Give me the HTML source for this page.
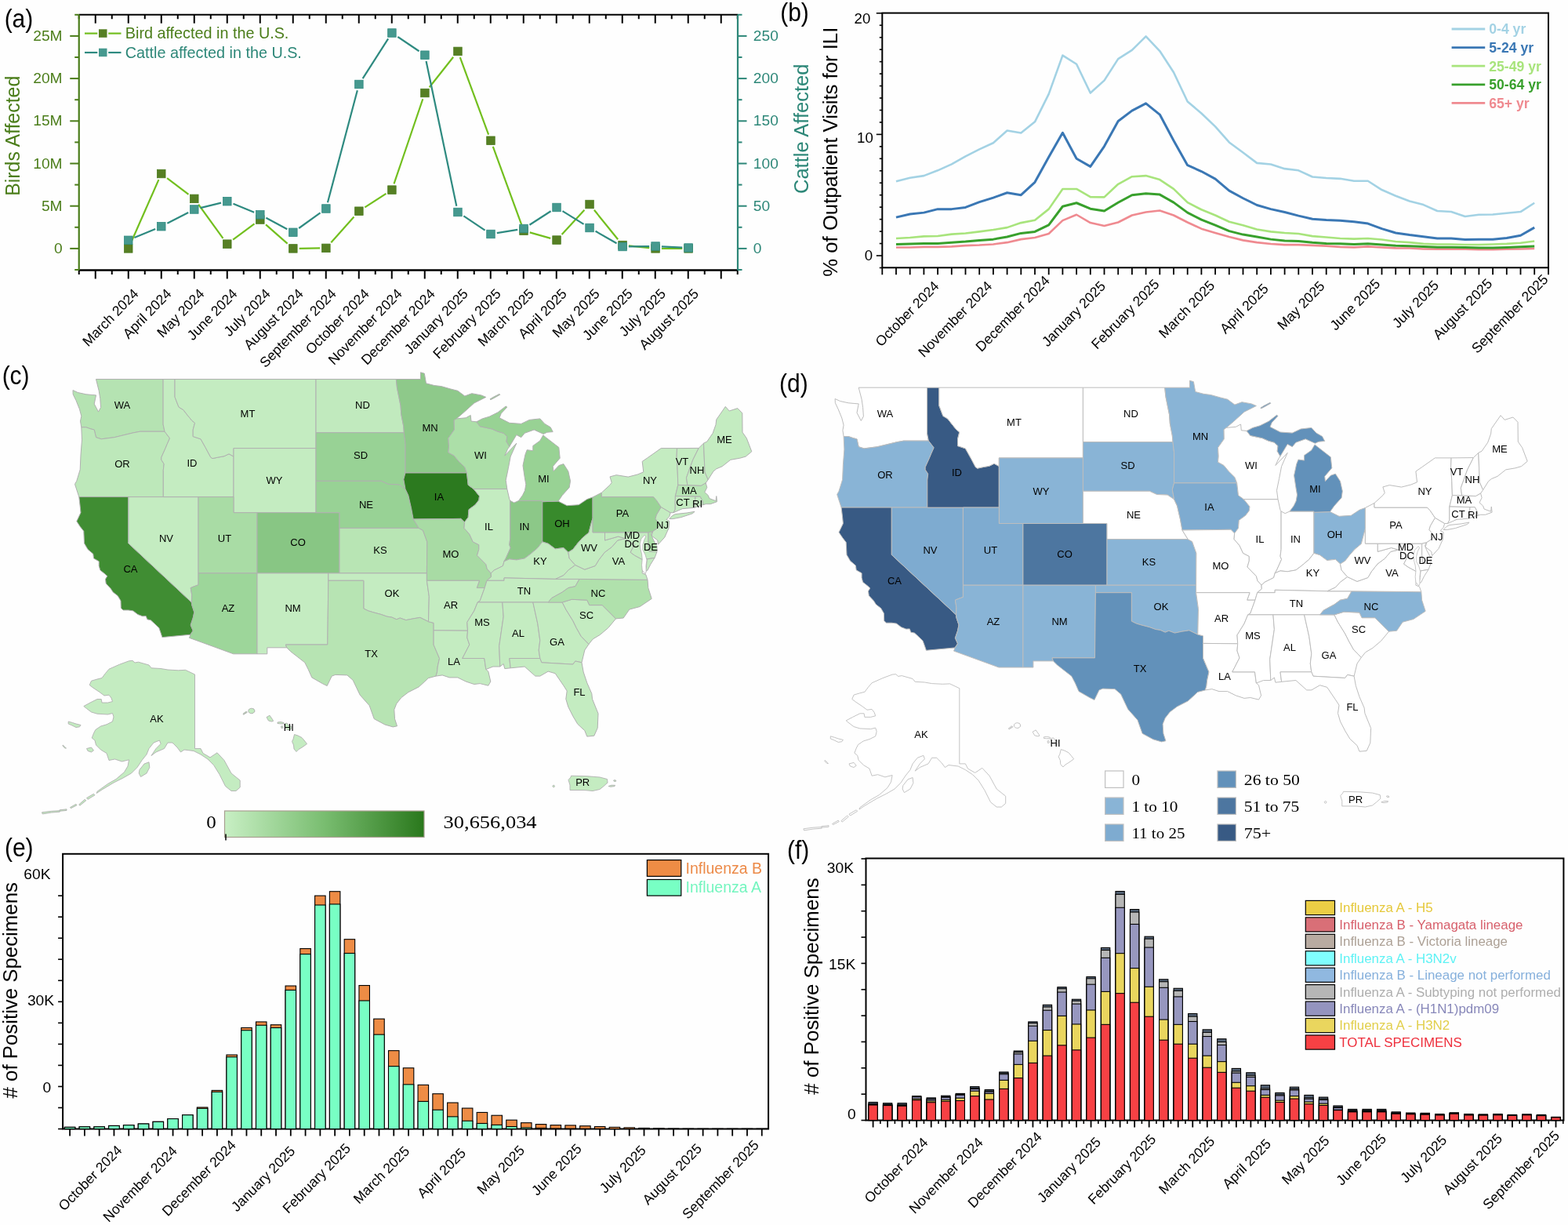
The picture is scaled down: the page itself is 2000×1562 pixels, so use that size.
<!DOCTYPE html>
<html><head><meta charset="utf-8"><title>Figure</title>
<style>html,body{margin:0;padding:0;background:#fff;} svg{display:block;}</style></head>
<body><svg width="2000" height="1562" viewBox="0 0 2000 1562">
<rect width="2000" height="1562" fill="#fefefe"/>
<line x1="100.75" y1="18.75" x2="941.0" y2="18.75" stroke="#000" stroke-width="2.2"/>
<line x1="100.75" y1="344.5" x2="941.0" y2="344.5" stroke="#000" stroke-width="2.4"/>
<line x1="100.75" y1="344.5" x2="100.75" y2="350" stroke="#000" stroke-width="2"/>
<line x1="100.75" y1="18.75" x2="100.75" y2="24.25" stroke="#000" stroke-width="2"/>
<line x1="121.75" y1="344.5" x2="121.75" y2="355.5" stroke="#000" stroke-width="2"/>
<line x1="121.75" y1="18.75" x2="121.75" y2="29.75" stroke="#000" stroke-width="2"/>
<line x1="142.75" y1="344.5" x2="142.75" y2="350" stroke="#000" stroke-width="2"/>
<line x1="142.75" y1="18.75" x2="142.75" y2="24.25" stroke="#000" stroke-width="2"/>
<line x1="163.75" y1="344.5" x2="163.75" y2="355.5" stroke="#000" stroke-width="2"/>
<line x1="163.75" y1="18.75" x2="163.75" y2="29.75" stroke="#000" stroke-width="2"/>
<line x1="184.75" y1="344.5" x2="184.75" y2="350" stroke="#000" stroke-width="2"/>
<line x1="184.75" y1="18.75" x2="184.75" y2="24.25" stroke="#000" stroke-width="2"/>
<line x1="205.75" y1="344.5" x2="205.75" y2="355.5" stroke="#000" stroke-width="2"/>
<line x1="205.75" y1="18.75" x2="205.75" y2="29.75" stroke="#000" stroke-width="2"/>
<line x1="226.75" y1="344.5" x2="226.75" y2="350" stroke="#000" stroke-width="2"/>
<line x1="226.75" y1="18.75" x2="226.75" y2="24.25" stroke="#000" stroke-width="2"/>
<line x1="247.75" y1="344.5" x2="247.75" y2="355.5" stroke="#000" stroke-width="2"/>
<line x1="247.75" y1="18.75" x2="247.75" y2="29.75" stroke="#000" stroke-width="2"/>
<line x1="268.75" y1="344.5" x2="268.75" y2="350" stroke="#000" stroke-width="2"/>
<line x1="268.75" y1="18.75" x2="268.75" y2="24.25" stroke="#000" stroke-width="2"/>
<line x1="289.75" y1="344.5" x2="289.75" y2="355.5" stroke="#000" stroke-width="2"/>
<line x1="289.75" y1="18.75" x2="289.75" y2="29.75" stroke="#000" stroke-width="2"/>
<line x1="310.75" y1="344.5" x2="310.75" y2="350" stroke="#000" stroke-width="2"/>
<line x1="310.75" y1="18.75" x2="310.75" y2="24.25" stroke="#000" stroke-width="2"/>
<line x1="331.75" y1="344.5" x2="331.75" y2="355.5" stroke="#000" stroke-width="2"/>
<line x1="331.75" y1="18.75" x2="331.75" y2="29.75" stroke="#000" stroke-width="2"/>
<line x1="352.75" y1="344.5" x2="352.75" y2="350" stroke="#000" stroke-width="2"/>
<line x1="352.75" y1="18.75" x2="352.75" y2="24.25" stroke="#000" stroke-width="2"/>
<line x1="373.75" y1="344.5" x2="373.75" y2="355.5" stroke="#000" stroke-width="2"/>
<line x1="373.75" y1="18.75" x2="373.75" y2="29.75" stroke="#000" stroke-width="2"/>
<line x1="394.75" y1="344.5" x2="394.75" y2="350" stroke="#000" stroke-width="2"/>
<line x1="394.75" y1="18.75" x2="394.75" y2="24.25" stroke="#000" stroke-width="2"/>
<line x1="415.75" y1="344.5" x2="415.75" y2="355.5" stroke="#000" stroke-width="2"/>
<line x1="415.75" y1="18.75" x2="415.75" y2="29.75" stroke="#000" stroke-width="2"/>
<line x1="436.75" y1="344.5" x2="436.75" y2="350" stroke="#000" stroke-width="2"/>
<line x1="436.75" y1="18.75" x2="436.75" y2="24.25" stroke="#000" stroke-width="2"/>
<line x1="457.75" y1="344.5" x2="457.75" y2="355.5" stroke="#000" stroke-width="2"/>
<line x1="457.75" y1="18.75" x2="457.75" y2="29.75" stroke="#000" stroke-width="2"/>
<line x1="478.75" y1="344.5" x2="478.75" y2="350" stroke="#000" stroke-width="2"/>
<line x1="478.75" y1="18.75" x2="478.75" y2="24.25" stroke="#000" stroke-width="2"/>
<line x1="499.75" y1="344.5" x2="499.75" y2="355.5" stroke="#000" stroke-width="2"/>
<line x1="499.75" y1="18.75" x2="499.75" y2="29.75" stroke="#000" stroke-width="2"/>
<line x1="520.75" y1="344.5" x2="520.75" y2="350" stroke="#000" stroke-width="2"/>
<line x1="520.75" y1="18.75" x2="520.75" y2="24.25" stroke="#000" stroke-width="2"/>
<line x1="541.75" y1="344.5" x2="541.75" y2="355.5" stroke="#000" stroke-width="2"/>
<line x1="541.75" y1="18.75" x2="541.75" y2="29.75" stroke="#000" stroke-width="2"/>
<line x1="562.75" y1="344.5" x2="562.75" y2="350" stroke="#000" stroke-width="2"/>
<line x1="562.75" y1="18.75" x2="562.75" y2="24.25" stroke="#000" stroke-width="2"/>
<line x1="583.75" y1="344.5" x2="583.75" y2="355.5" stroke="#000" stroke-width="2"/>
<line x1="583.75" y1="18.75" x2="583.75" y2="29.75" stroke="#000" stroke-width="2"/>
<line x1="604.75" y1="344.5" x2="604.75" y2="350" stroke="#000" stroke-width="2"/>
<line x1="604.75" y1="18.75" x2="604.75" y2="24.25" stroke="#000" stroke-width="2"/>
<line x1="625.75" y1="344.5" x2="625.75" y2="355.5" stroke="#000" stroke-width="2"/>
<line x1="625.75" y1="18.75" x2="625.75" y2="29.75" stroke="#000" stroke-width="2"/>
<line x1="646.75" y1="344.5" x2="646.75" y2="350" stroke="#000" stroke-width="2"/>
<line x1="646.75" y1="18.75" x2="646.75" y2="24.25" stroke="#000" stroke-width="2"/>
<line x1="667.75" y1="344.5" x2="667.75" y2="355.5" stroke="#000" stroke-width="2"/>
<line x1="667.75" y1="18.75" x2="667.75" y2="29.75" stroke="#000" stroke-width="2"/>
<line x1="688.75" y1="344.5" x2="688.75" y2="350" stroke="#000" stroke-width="2"/>
<line x1="688.75" y1="18.75" x2="688.75" y2="24.25" stroke="#000" stroke-width="2"/>
<line x1="709.75" y1="344.5" x2="709.75" y2="355.5" stroke="#000" stroke-width="2"/>
<line x1="709.75" y1="18.75" x2="709.75" y2="29.75" stroke="#000" stroke-width="2"/>
<line x1="730.75" y1="344.5" x2="730.75" y2="350" stroke="#000" stroke-width="2"/>
<line x1="730.75" y1="18.75" x2="730.75" y2="24.25" stroke="#000" stroke-width="2"/>
<line x1="751.75" y1="344.5" x2="751.75" y2="355.5" stroke="#000" stroke-width="2"/>
<line x1="751.75" y1="18.75" x2="751.75" y2="29.75" stroke="#000" stroke-width="2"/>
<line x1="772.75" y1="344.5" x2="772.75" y2="350" stroke="#000" stroke-width="2"/>
<line x1="772.75" y1="18.75" x2="772.75" y2="24.25" stroke="#000" stroke-width="2"/>
<line x1="793.75" y1="344.5" x2="793.75" y2="355.5" stroke="#000" stroke-width="2"/>
<line x1="793.75" y1="18.75" x2="793.75" y2="29.75" stroke="#000" stroke-width="2"/>
<line x1="814.75" y1="344.5" x2="814.75" y2="350" stroke="#000" stroke-width="2"/>
<line x1="814.75" y1="18.75" x2="814.75" y2="24.25" stroke="#000" stroke-width="2"/>
<line x1="835.75" y1="344.5" x2="835.75" y2="355.5" stroke="#000" stroke-width="2"/>
<line x1="835.75" y1="18.75" x2="835.75" y2="29.75" stroke="#000" stroke-width="2"/>
<line x1="856.75" y1="344.5" x2="856.75" y2="350" stroke="#000" stroke-width="2"/>
<line x1="856.75" y1="18.75" x2="856.75" y2="24.25" stroke="#000" stroke-width="2"/>
<line x1="877.75" y1="344.5" x2="877.75" y2="355.5" stroke="#000" stroke-width="2"/>
<line x1="877.75" y1="18.75" x2="877.75" y2="29.75" stroke="#000" stroke-width="2"/>
<line x1="898.75" y1="344.5" x2="898.75" y2="350" stroke="#000" stroke-width="2"/>
<line x1="898.75" y1="18.75" x2="898.75" y2="24.25" stroke="#000" stroke-width="2"/>
<line x1="919.75" y1="344.5" x2="919.75" y2="355.5" stroke="#000" stroke-width="2"/>
<line x1="919.75" y1="18.75" x2="919.75" y2="29.75" stroke="#000" stroke-width="2"/>
<line x1="940.75" y1="344.5" x2="940.75" y2="350" stroke="#000" stroke-width="2"/>
<line x1="940.75" y1="18.75" x2="940.75" y2="24.25" stroke="#000" stroke-width="2"/>
<line x1="100.75" y1="18.75" x2="100.75" y2="344.5" stroke="#4b7d1a" stroke-width="2.2"/>
<line x1="941.0" y1="18.75" x2="941.0" y2="344.5" stroke="#2d8778" stroke-width="2.2"/>
<line x1="95.25" y1="344" x2="100.75" y2="344" stroke="#4b7d1a" stroke-width="2"/>
<line x1="941.0" y1="344" x2="946.5" y2="344" stroke="#2d8778" stroke-width="2"/>
<line x1="89.25" y1="316.9" x2="100.75" y2="316.9" stroke="#4b7d1a" stroke-width="2"/>
<line x1="941.0" y1="316.9" x2="952.5" y2="316.9" stroke="#2d8778" stroke-width="2"/>
<text x="79.6" y="322.9" font-size="19.2" fill="#4b7d1a" text-anchor="end" font-family="Liberation Sans, Arial, sans-serif">0</text>
<text x="960.8" y="322.9" font-size="19.2" fill="#2d8778" font-family="Liberation Sans, Arial, sans-serif">0</text>
<line x1="95.25" y1="289.8" x2="100.75" y2="289.8" stroke="#4b7d1a" stroke-width="2"/>
<line x1="941.0" y1="289.8" x2="946.5" y2="289.8" stroke="#2d8778" stroke-width="2"/>
<line x1="89.25" y1="262.7" x2="100.75" y2="262.7" stroke="#4b7d1a" stroke-width="2"/>
<line x1="941.0" y1="262.7" x2="952.5" y2="262.7" stroke="#2d8778" stroke-width="2"/>
<text x="79.6" y="268.7" font-size="19.2" fill="#4b7d1a" text-anchor="end" font-family="Liberation Sans, Arial, sans-serif">5M</text>
<text x="960.8" y="268.7" font-size="19.2" fill="#2d8778" font-family="Liberation Sans, Arial, sans-serif">50</text>
<line x1="95.25" y1="235.6" x2="100.75" y2="235.6" stroke="#4b7d1a" stroke-width="2"/>
<line x1="941.0" y1="235.6" x2="946.5" y2="235.6" stroke="#2d8778" stroke-width="2"/>
<line x1="89.25" y1="208.5" x2="100.75" y2="208.5" stroke="#4b7d1a" stroke-width="2"/>
<line x1="941.0" y1="208.5" x2="952.5" y2="208.5" stroke="#2d8778" stroke-width="2"/>
<text x="79.6" y="214.5" font-size="19.2" fill="#4b7d1a" text-anchor="end" font-family="Liberation Sans, Arial, sans-serif">10M</text>
<text x="960.8" y="214.5" font-size="19.2" fill="#2d8778" font-family="Liberation Sans, Arial, sans-serif">100</text>
<line x1="95.25" y1="181.4" x2="100.75" y2="181.4" stroke="#4b7d1a" stroke-width="2"/>
<line x1="941.0" y1="181.4" x2="946.5" y2="181.4" stroke="#2d8778" stroke-width="2"/>
<line x1="89.25" y1="154.3" x2="100.75" y2="154.3" stroke="#4b7d1a" stroke-width="2"/>
<line x1="941.0" y1="154.3" x2="952.5" y2="154.3" stroke="#2d8778" stroke-width="2"/>
<text x="79.6" y="160.3" font-size="19.2" fill="#4b7d1a" text-anchor="end" font-family="Liberation Sans, Arial, sans-serif">15M</text>
<text x="960.8" y="160.3" font-size="19.2" fill="#2d8778" font-family="Liberation Sans, Arial, sans-serif">150</text>
<line x1="95.25" y1="127.2" x2="100.75" y2="127.2" stroke="#4b7d1a" stroke-width="2"/>
<line x1="941.0" y1="127.2" x2="946.5" y2="127.2" stroke="#2d8778" stroke-width="2"/>
<line x1="89.25" y1="100.1" x2="100.75" y2="100.1" stroke="#4b7d1a" stroke-width="2"/>
<line x1="941.0" y1="100.1" x2="952.5" y2="100.1" stroke="#2d8778" stroke-width="2"/>
<text x="79.6" y="106.1" font-size="19.2" fill="#4b7d1a" text-anchor="end" font-family="Liberation Sans, Arial, sans-serif">20M</text>
<text x="960.8" y="106.1" font-size="19.2" fill="#2d8778" font-family="Liberation Sans, Arial, sans-serif">200</text>
<line x1="95.25" y1="73" x2="100.75" y2="73" stroke="#4b7d1a" stroke-width="2"/>
<line x1="941.0" y1="73" x2="946.5" y2="73" stroke="#2d8778" stroke-width="2"/>
<line x1="89.25" y1="45.9" x2="100.75" y2="45.9" stroke="#4b7d1a" stroke-width="2"/>
<line x1="941.0" y1="45.9" x2="952.5" y2="45.9" stroke="#2d8778" stroke-width="2"/>
<text x="79.6" y="51.9" font-size="19.2" fill="#4b7d1a" text-anchor="end" font-family="Liberation Sans, Arial, sans-serif">25M</text>
<text x="960.8" y="51.9" font-size="19.2" fill="#2d8778" font-family="Liberation Sans, Arial, sans-serif">250</text>
<line x1="95.25" y1="18.8" x2="100.75" y2="18.8" stroke="#4b7d1a" stroke-width="2"/>
<line x1="941.0" y1="18.8" x2="946.5" y2="18.8" stroke="#2d8778" stroke-width="2"/>
<text transform="translate(24.6,173.3) rotate(-90)" font-size="24.9" fill="#4b7d1a" text-anchor="middle" font-family="Liberation Sans, Arial, sans-serif">Birds Affected</text>
<text transform="translate(1031,164.3) rotate(-90)" font-size="25.5" fill="#2d8778" text-anchor="middle" font-family="Liberation Sans, Arial, sans-serif">Cattle Affected</text>
<text transform="translate(177.70,375.60) scale(1,1.03) rotate(-45)" font-size="17.5" fill="#000" text-anchor="end" font-family="Liberation Sans, Arial, sans-serif">March 2024</text>
<text transform="translate(219.72,375.60) scale(1,1.03) rotate(-45)" font-size="17.5" fill="#000" text-anchor="end" font-family="Liberation Sans, Arial, sans-serif">April 2024</text>
<text transform="translate(261.74,375.60) scale(1,1.03) rotate(-45)" font-size="17.5" fill="#000" text-anchor="end" font-family="Liberation Sans, Arial, sans-serif">May 2024</text>
<text transform="translate(303.76,375.60) scale(1,1.03) rotate(-45)" font-size="17.5" fill="#000" text-anchor="end" font-family="Liberation Sans, Arial, sans-serif">June 2024</text>
<text transform="translate(345.78,375.60) scale(1,1.03) rotate(-45)" font-size="17.5" fill="#000" text-anchor="end" font-family="Liberation Sans, Arial, sans-serif">July 2024</text>
<text transform="translate(387.80,375.60) scale(1,1.03) rotate(-45)" font-size="17.5" fill="#000" text-anchor="end" font-family="Liberation Sans, Arial, sans-serif">August 2024</text>
<text transform="translate(429.82,375.60) scale(1,1.03) rotate(-45)" font-size="17.5" fill="#000" text-anchor="end" font-family="Liberation Sans, Arial, sans-serif">September 2024</text>
<text transform="translate(471.84,375.60) scale(1,1.03) rotate(-45)" font-size="17.5" fill="#000" text-anchor="end" font-family="Liberation Sans, Arial, sans-serif">October 2024</text>
<text transform="translate(513.86,375.60) scale(1,1.03) rotate(-45)" font-size="17.5" fill="#000" text-anchor="end" font-family="Liberation Sans, Arial, sans-serif">November 2024</text>
<text transform="translate(555.88,375.60) scale(1,1.03) rotate(-45)" font-size="17.5" fill="#000" text-anchor="end" font-family="Liberation Sans, Arial, sans-serif">December 2024</text>
<text transform="translate(597.90,375.60) scale(1,1.03) rotate(-45)" font-size="17.5" fill="#000" text-anchor="end" font-family="Liberation Sans, Arial, sans-serif">January 2025</text>
<text transform="translate(639.92,375.60) scale(1,1.03) rotate(-45)" font-size="17.5" fill="#000" text-anchor="end" font-family="Liberation Sans, Arial, sans-serif">February 2025</text>
<text transform="translate(681.94,375.60) scale(1,1.03) rotate(-45)" font-size="17.5" fill="#000" text-anchor="end" font-family="Liberation Sans, Arial, sans-serif">March 2025</text>
<text transform="translate(723.96,375.60) scale(1,1.03) rotate(-45)" font-size="17.5" fill="#000" text-anchor="end" font-family="Liberation Sans, Arial, sans-serif">April 2025</text>
<text transform="translate(765.98,375.60) scale(1,1.03) rotate(-45)" font-size="17.5" fill="#000" text-anchor="end" font-family="Liberation Sans, Arial, sans-serif">May 2025</text>
<text transform="translate(808.00,375.60) scale(1,1.03) rotate(-45)" font-size="17.5" fill="#000" text-anchor="end" font-family="Liberation Sans, Arial, sans-serif">June 2025</text>
<text transform="translate(850.02,375.60) scale(1,1.03) rotate(-45)" font-size="17.5" fill="#000" text-anchor="end" font-family="Liberation Sans, Arial, sans-serif">July 2025</text>
<text transform="translate(892.04,375.60) scale(1,1.03) rotate(-45)" font-size="17.5" fill="#000" text-anchor="end" font-family="Liberation Sans, Arial, sans-serif">August 2025</text>
<line x1="167.11" y1="309.27" x2="202.41" y2="229.14" stroke="#72bf1e" stroke-width="2.2"/>
<line x1="213.09" y1="227.06" x2="240.47" y2="247.82" stroke="#72bf1e" stroke-width="2.2"/>
<line x1="253.14" y1="260.73" x2="284.46" y2="303.8" stroke="#72bf1e" stroke-width="2.2"/>
<line x1="297.15" y1="305.72" x2="324.49" y2="285.48" stroke="#72bf1e" stroke-width="2.2"/>
<line x1="339.03" y1="286.36" x2="366.65" y2="310.58" stroke="#72bf1e" stroke-width="2.2"/>
<line x1="381.7" y1="316.8" x2="408.02" y2="316.46" stroke="#72bf1e" stroke-width="2.2"/>
<line x1="422.28" y1="309.17" x2="451.48" y2="276.4" stroke="#72bf1e" stroke-width="2.2"/>
<line x1="465.33" y1="264.41" x2="492.47" y2="246.9" stroke="#72bf1e" stroke-width="2.2"/>
<line x1="502.53" y1="234.39" x2="539.31" y2="126.24" stroke="#72bf1e" stroke-width="2.2"/>
<line x1="547.7" y1="111.24" x2="578.18" y2="72.7" stroke="#72bf1e" stroke-width="2.2"/>
<line x1="586.79" y1="73.1" x2="623.13" y2="171.54" stroke="#72bf1e" stroke-width="2.2"/>
<line x1="628.78" y1="186.92" x2="665.18" y2="286.44" stroke="#72bf1e" stroke-width="2.2"/>
<line x1="675.74" y1="296.34" x2="702.26" y2="303.86" stroke="#72bf1e" stroke-width="2.2"/>
<line x1="716.62" y1="298.9" x2="745.42" y2="267.69" stroke="#72bf1e" stroke-width="2.2"/>
<line x1="757.9" y1="267.8" x2="788.18" y2="305.29" stroke="#72bf1e" stroke-width="2.2"/>
<line x1="801.89" y1="313.37" x2="828.23" y2="316.09" stroke="#72bf1e" stroke-width="2.2"/>
<line x1="843.92" y1="316.9" x2="870.24" y2="316.9" stroke="#72bf1e" stroke-width="2.2"/>
<line x1="171.4" y1="303.1" x2="198.12" y2="291.9" stroke="#2e8a80" stroke-width="2.2"/>
<line x1="213.33" y1="284.8" x2="240.23" y2="270.9" stroke="#2e8a80" stroke-width="2.2"/>
<line x1="255.57" y1="265.09" x2="282.03" y2="258.61" stroke="#2e8a80" stroke-width="2.2"/>
<line x1="297.47" y1="259.82" x2="324.17" y2="270.68" stroke="#2e8a80" stroke-width="2.2"/>
<line x1="339.37" y1="277.84" x2="366.31" y2="292.26" stroke="#2e8a80" stroke-width="2.2"/>
<line x1="381.21" y1="290.99" x2="408.51" y2="271.31" stroke="#2e8a80" stroke-width="2.2"/>
<line x1="417.93" y1="258.24" x2="455.83" y2="115.26" stroke="#2e8a80" stroke-width="2.2"/>
<line x1="462.66" y1="100.06" x2="495.14" y2="49.44" stroke="#2e8a80" stroke-width="2.2"/>
<line x1="507.32" y1="46.97" x2="534.52" y2="65.23" stroke="#2e8a80" stroke-width="2.2"/>
<line x1="543.57" y1="77.99" x2="582.31" y2="262.71" stroke="#2e8a80" stroke-width="2.2"/>
<line x1="591.36" y1="275.44" x2="618.56" y2="293.56" stroke="#2e8a80" stroke-width="2.2"/>
<line x1="633.78" y1="297.2" x2="660.18" y2="292.8" stroke="#2e8a80" stroke-width="2.2"/>
<line x1="675.43" y1="286.72" x2="702.57" y2="269.28" stroke="#2e8a80" stroke-width="2.2"/>
<line x1="717.47" y1="269.12" x2="744.57" y2="285.88" stroke="#2e8a80" stroke-width="2.2"/>
<line x1="759.54" y1="294.79" x2="786.54" y2="310.21" stroke="#2e8a80" stroke-width="2.2"/>
<line x1="801.9" y1="314.41" x2="828.22" y2="314.09" stroke="#2e8a80" stroke-width="2.2"/>
<line x1="843.92" y1="314.37" x2="870.24" y2="315.63" stroke="#2e8a80" stroke-width="2.2"/>
<rect x="158.5" y="311.65" width="10.5" height="10.5" fill="#567f24" stroke="#4a7a1c" stroke-width="0.8"/>
<rect x="200.52" y="216.26" width="10.5" height="10.5" fill="#567f24" stroke="#4a7a1c" stroke-width="0.8"/>
<rect x="242.54" y="248.13" width="10.5" height="10.5" fill="#567f24" stroke="#4a7a1c" stroke-width="0.8"/>
<rect x="284.56" y="305.9" width="10.5" height="10.5" fill="#567f24" stroke="#4a7a1c" stroke-width="0.8"/>
<rect x="326.58" y="274.79" width="10.5" height="10.5" fill="#567f24" stroke="#4a7a1c" stroke-width="0.8"/>
<rect x="368.6" y="311.65" width="10.5" height="10.5" fill="#567f24" stroke="#4a7a1c" stroke-width="0.8"/>
<rect x="410.62" y="311.11" width="10.5" height="10.5" fill="#567f24" stroke="#4a7a1c" stroke-width="0.8"/>
<rect x="452.64" y="263.95" width="10.5" height="10.5" fill="#567f24" stroke="#4a7a1c" stroke-width="0.8"/>
<rect x="494.66" y="236.85" width="10.5" height="10.5" fill="#567f24" stroke="#4a7a1c" stroke-width="0.8"/>
<rect x="536.68" y="113.28" width="10.5" height="10.5" fill="#567f24" stroke="#4a7a1c" stroke-width="0.8"/>
<rect x="578.7" y="60.16" width="10.5" height="10.5" fill="#567f24" stroke="#4a7a1c" stroke-width="0.8"/>
<rect x="620.72" y="173.98" width="10.5" height="10.5" fill="#567f24" stroke="#4a7a1c" stroke-width="0.8"/>
<rect x="662.74" y="288.89" width="10.5" height="10.5" fill="#567f24" stroke="#4a7a1c" stroke-width="0.8"/>
<rect x="704.76" y="300.81" width="10.5" height="10.5" fill="#567f24" stroke="#4a7a1c" stroke-width="0.8"/>
<rect x="746.78" y="255.28" width="10.5" height="10.5" fill="#567f24" stroke="#4a7a1c" stroke-width="0.8"/>
<rect x="788.8" y="307.31" width="10.5" height="10.5" fill="#567f24" stroke="#4a7a1c" stroke-width="0.8"/>
<rect x="830.82" y="311.65" width="10.5" height="10.5" fill="#567f24" stroke="#4a7a1c" stroke-width="0.8"/>
<rect x="872.84" y="311.65" width="10.5" height="10.5" fill="#567f24" stroke="#4a7a1c" stroke-width="0.8"/>
<rect x="158.5" y="301.05" width="10.5" height="10.5" fill="#46998f" stroke="#2f8a80" stroke-width="0.8"/>
<rect x="200.52" y="283.45" width="10.5" height="10.5" fill="#46998f" stroke="#2f8a80" stroke-width="0.8"/>
<rect x="242.54" y="261.75" width="10.5" height="10.5" fill="#46998f" stroke="#2f8a80" stroke-width="0.8"/>
<rect x="284.56" y="251.45" width="10.5" height="10.5" fill="#46998f" stroke="#2f8a80" stroke-width="0.8"/>
<rect x="326.58" y="268.55" width="10.5" height="10.5" fill="#46998f" stroke="#2f8a80" stroke-width="0.8"/>
<rect x="368.6" y="291.05" width="10.5" height="10.5" fill="#46998f" stroke="#2f8a80" stroke-width="0.8"/>
<rect x="410.62" y="260.75" width="10.5" height="10.5" fill="#46998f" stroke="#2f8a80" stroke-width="0.8"/>
<rect x="452.64" y="102.25" width="10.5" height="10.5" fill="#46998f" stroke="#2f8a80" stroke-width="0.8"/>
<rect x="494.66" y="36.75" width="10.5" height="10.5" fill="#46998f" stroke="#2f8a80" stroke-width="0.8"/>
<rect x="536.68" y="64.95" width="10.5" height="10.5" fill="#46998f" stroke="#2f8a80" stroke-width="0.8"/>
<rect x="578.7" y="265.25" width="10.5" height="10.5" fill="#46998f" stroke="#2f8a80" stroke-width="0.8"/>
<rect x="620.72" y="293.25" width="10.5" height="10.5" fill="#46998f" stroke="#2f8a80" stroke-width="0.8"/>
<rect x="662.74" y="286.25" width="10.5" height="10.5" fill="#46998f" stroke="#2f8a80" stroke-width="0.8"/>
<rect x="704.76" y="259.25" width="10.5" height="10.5" fill="#46998f" stroke="#2f8a80" stroke-width="0.8"/>
<rect x="746.78" y="285.25" width="10.5" height="10.5" fill="#46998f" stroke="#2f8a80" stroke-width="0.8"/>
<rect x="788.8" y="309.25" width="10.5" height="10.5" fill="#46998f" stroke="#2f8a80" stroke-width="0.8"/>
<rect x="830.82" y="308.75" width="10.5" height="10.5" fill="#46998f" stroke="#2f8a80" stroke-width="0.8"/>
<rect x="872.84" y="310.75" width="10.5" height="10.5" fill="#46998f" stroke="#2f8a80" stroke-width="0.8"/>
<line x1="108" y1="42.6" x2="124.3" y2="42.6" stroke="#72bf1e" stroke-width="2.2"/><line x1="138.2" y1="42.6" x2="154.5" y2="42.6" stroke="#72bf1e" stroke-width="2.2"/><rect x="126" y="37.3" width="10.5" height="10.5" fill="#567f24"/>
<text x="159.8" y="49.3" font-size="19.8" fill="#4b7d1a" font-family="Liberation Sans, Arial, sans-serif">Bird affected in the U.S.</text>
<line x1="108" y1="67" x2="124.3" y2="67" stroke="#2e8a80" stroke-width="2.2"/><line x1="138.2" y1="67" x2="154.5" y2="67" stroke="#2e8a80" stroke-width="2.2"/><rect x="126" y="61.7" width="10.5" height="10.5" fill="#46998f"/>
<text x="159.8" y="73.7" font-size="19.8" fill="#2d8778" font-family="Liberation Sans, Arial, sans-serif">Cattle affected in the U.S.</text>
<rect x="1125.3" y="16.6" width="849.7" height="324.7" fill="none" stroke="#000" stroke-width="2"/>
<line x1="1121.8" y1="341.46" x2="1125.3" y2="341.46" stroke="#000" stroke-width="1.6"/>
<line x1="1117.8" y1="326" x2="1125.3" y2="326" stroke="#000" stroke-width="1.6"/>
<line x1="1121.8" y1="310.54" x2="1125.3" y2="310.54" stroke="#000" stroke-width="1.6"/>
<line x1="1121.8" y1="295.08" x2="1125.3" y2="295.08" stroke="#000" stroke-width="1.6"/>
<line x1="1121.8" y1="279.62" x2="1125.3" y2="279.62" stroke="#000" stroke-width="1.6"/>
<line x1="1121.8" y1="264.16" x2="1125.3" y2="264.16" stroke="#000" stroke-width="1.6"/>
<line x1="1121.8" y1="248.7" x2="1125.3" y2="248.7" stroke="#000" stroke-width="1.6"/>
<line x1="1121.8" y1="233.24" x2="1125.3" y2="233.24" stroke="#000" stroke-width="1.6"/>
<line x1="1121.8" y1="217.78" x2="1125.3" y2="217.78" stroke="#000" stroke-width="1.6"/>
<line x1="1121.8" y1="202.32" x2="1125.3" y2="202.32" stroke="#000" stroke-width="1.6"/>
<line x1="1121.8" y1="186.86" x2="1125.3" y2="186.86" stroke="#000" stroke-width="1.6"/>
<line x1="1117.8" y1="171.4" x2="1125.3" y2="171.4" stroke="#000" stroke-width="1.6"/>
<line x1="1121.8" y1="155.94" x2="1125.3" y2="155.94" stroke="#000" stroke-width="1.6"/>
<line x1="1121.8" y1="140.48" x2="1125.3" y2="140.48" stroke="#000" stroke-width="1.6"/>
<line x1="1121.8" y1="125.02" x2="1125.3" y2="125.02" stroke="#000" stroke-width="1.6"/>
<line x1="1121.8" y1="109.56" x2="1125.3" y2="109.56" stroke="#000" stroke-width="1.6"/>
<line x1="1121.8" y1="94.1" x2="1125.3" y2="94.1" stroke="#000" stroke-width="1.6"/>
<line x1="1121.8" y1="78.64" x2="1125.3" y2="78.64" stroke="#000" stroke-width="1.6"/>
<line x1="1121.8" y1="63.18" x2="1125.3" y2="63.18" stroke="#000" stroke-width="1.6"/>
<line x1="1121.8" y1="47.72" x2="1125.3" y2="47.72" stroke="#000" stroke-width="1.6"/>
<line x1="1121.8" y1="32.26" x2="1125.3" y2="32.26" stroke="#000" stroke-width="1.6"/>
<line x1="1117.8" y1="16.8" x2="1125.3" y2="16.8" stroke="#000" stroke-width="1.6"/>
<text x="1110.3" y="29.75" font-size="18.6" fill="#000" text-anchor="end" font-family="Liberation Sans, Arial, sans-serif">20</text>
<text x="1113.8" y="181.75" font-size="18.6" fill="#000" text-anchor="end" font-family="Liberation Sans, Arial, sans-serif">10</text>
<text x="1113.2" y="331.5" font-size="18.6" fill="#000" text-anchor="end" font-family="Liberation Sans, Arial, sans-serif">0</text>
<line x1="1125.3" y1="341.3" x2="1125.3" y2="350.3" stroke="#000" stroke-width="1.8"/>
<line x1="1143" y1="341.3" x2="1143" y2="350.3" stroke="#000" stroke-width="1.8"/>
<line x1="1160.7" y1="341.3" x2="1160.7" y2="350.3" stroke="#000" stroke-width="1.8"/>
<line x1="1178.4" y1="341.3" x2="1178.4" y2="350.3" stroke="#000" stroke-width="1.8"/>
<line x1="1196.1" y1="341.3" x2="1196.1" y2="350.3" stroke="#000" stroke-width="1.8"/>
<line x1="1213.8" y1="341.3" x2="1213.8" y2="350.3" stroke="#000" stroke-width="1.8"/>
<line x1="1231.5" y1="341.3" x2="1231.5" y2="350.3" stroke="#000" stroke-width="1.8"/>
<line x1="1249.2" y1="341.3" x2="1249.2" y2="350.3" stroke="#000" stroke-width="1.8"/>
<line x1="1266.9" y1="341.3" x2="1266.9" y2="350.3" stroke="#000" stroke-width="1.8"/>
<line x1="1284.6" y1="341.3" x2="1284.6" y2="350.3" stroke="#000" stroke-width="1.8"/>
<line x1="1302.3" y1="341.3" x2="1302.3" y2="350.3" stroke="#000" stroke-width="1.8"/>
<line x1="1320" y1="341.3" x2="1320" y2="350.3" stroke="#000" stroke-width="1.8"/>
<line x1="1337.7" y1="341.3" x2="1337.7" y2="350.3" stroke="#000" stroke-width="1.8"/>
<line x1="1355.4" y1="341.3" x2="1355.4" y2="350.3" stroke="#000" stroke-width="1.8"/>
<line x1="1373.1" y1="341.3" x2="1373.1" y2="350.3" stroke="#000" stroke-width="1.8"/>
<line x1="1390.8" y1="341.3" x2="1390.8" y2="350.3" stroke="#000" stroke-width="1.8"/>
<line x1="1408.5" y1="341.3" x2="1408.5" y2="350.3" stroke="#000" stroke-width="1.8"/>
<line x1="1426.2" y1="341.3" x2="1426.2" y2="350.3" stroke="#000" stroke-width="1.8"/>
<line x1="1443.9" y1="341.3" x2="1443.9" y2="350.3" stroke="#000" stroke-width="1.8"/>
<line x1="1461.6" y1="341.3" x2="1461.6" y2="350.3" stroke="#000" stroke-width="1.8"/>
<line x1="1479.3" y1="341.3" x2="1479.3" y2="350.3" stroke="#000" stroke-width="1.8"/>
<line x1="1497" y1="341.3" x2="1497" y2="350.3" stroke="#000" stroke-width="1.8"/>
<line x1="1514.7" y1="341.3" x2="1514.7" y2="350.3" stroke="#000" stroke-width="1.8"/>
<line x1="1532.4" y1="341.3" x2="1532.4" y2="350.3" stroke="#000" stroke-width="1.8"/>
<line x1="1550.1" y1="341.3" x2="1550.1" y2="350.3" stroke="#000" stroke-width="1.8"/>
<line x1="1567.8" y1="341.3" x2="1567.8" y2="350.3" stroke="#000" stroke-width="1.8"/>
<line x1="1585.5" y1="341.3" x2="1585.5" y2="350.3" stroke="#000" stroke-width="1.8"/>
<line x1="1603.2" y1="341.3" x2="1603.2" y2="350.3" stroke="#000" stroke-width="1.8"/>
<line x1="1620.9" y1="341.3" x2="1620.9" y2="350.3" stroke="#000" stroke-width="1.8"/>
<line x1="1638.6" y1="341.3" x2="1638.6" y2="350.3" stroke="#000" stroke-width="1.8"/>
<line x1="1656.3" y1="341.3" x2="1656.3" y2="350.3" stroke="#000" stroke-width="1.8"/>
<line x1="1674" y1="341.3" x2="1674" y2="350.3" stroke="#000" stroke-width="1.8"/>
<line x1="1691.7" y1="341.3" x2="1691.7" y2="350.3" stroke="#000" stroke-width="1.8"/>
<line x1="1709.4" y1="341.3" x2="1709.4" y2="350.3" stroke="#000" stroke-width="1.8"/>
<line x1="1727.1" y1="341.3" x2="1727.1" y2="350.3" stroke="#000" stroke-width="1.8"/>
<line x1="1744.8" y1="341.3" x2="1744.8" y2="350.3" stroke="#000" stroke-width="1.8"/>
<line x1="1762.5" y1="341.3" x2="1762.5" y2="350.3" stroke="#000" stroke-width="1.8"/>
<line x1="1780.2" y1="341.3" x2="1780.2" y2="350.3" stroke="#000" stroke-width="1.8"/>
<line x1="1797.9" y1="341.3" x2="1797.9" y2="350.3" stroke="#000" stroke-width="1.8"/>
<line x1="1815.6" y1="341.3" x2="1815.6" y2="350.3" stroke="#000" stroke-width="1.8"/>
<line x1="1833.3" y1="341.3" x2="1833.3" y2="350.3" stroke="#000" stroke-width="1.8"/>
<line x1="1851" y1="341.3" x2="1851" y2="350.3" stroke="#000" stroke-width="1.8"/>
<line x1="1868.7" y1="341.3" x2="1868.7" y2="350.3" stroke="#000" stroke-width="1.8"/>
<line x1="1886.4" y1="341.3" x2="1886.4" y2="350.3" stroke="#000" stroke-width="1.8"/>
<line x1="1904.1" y1="341.3" x2="1904.1" y2="350.3" stroke="#000" stroke-width="1.8"/>
<line x1="1921.8" y1="341.3" x2="1921.8" y2="350.3" stroke="#000" stroke-width="1.8"/>
<line x1="1939.5" y1="341.3" x2="1939.5" y2="350.3" stroke="#000" stroke-width="1.8"/>
<line x1="1957.2" y1="341.3" x2="1957.2" y2="350.3" stroke="#000" stroke-width="1.8"/>
<line x1="1975.0" y1="341.3" x2="1975.0" y2="350.3" stroke="#000" stroke-width="1.8"/>
<polyline fill="none" stroke="#ef8a90" stroke-width="2.6" stroke-linejoin="round" points="1143,315.49 1160.7,315.49 1178.4,314.87 1196.1,314.87 1213.8,314.4 1231.5,313.17 1249.2,312.55 1266.9,311.47 1284.6,309.15 1302.3,305.13 1320,302.96 1337.7,298.02 1355.4,281.17 1373.1,273.75 1390.8,284.1 1408.5,287.97 1426.2,283.49 1443.9,274.52 1461.6,270.5 1479.3,268.49 1497,274.52 1514.7,283.49 1532.4,291.68 1550.1,296.94 1567.8,302.04 1585.5,306.37 1603.2,309.15 1620.9,311 1638.6,312.09 1656.3,312.09 1674,312.86 1691.7,313.63 1709.4,314.87 1727.1,315.33 1744.8,314.4 1762.5,315.49 1780.2,316.41 1797.9,316.57 1815.6,317.5 1833.3,317.65 1851,317.65 1868.7,317.65 1886.4,318.27 1904.1,318.27 1921.8,317.65 1939.5,317.5 1957.2,317.03"/>
<polyline fill="none" stroke="#38a02c" stroke-width="3.0" stroke-linejoin="round" points="1143,311.47 1160.7,311 1178.4,310.39 1196.1,310.39 1213.8,309.15 1231.5,308.07 1249.2,306.52 1266.9,305.13 1284.6,302.04 1302.3,297.4 1320,295.39 1337.7,286.89 1355.4,263.23 1373.1,258.75 1390.8,266.17 1408.5,268.95 1426.2,258.29 1443.9,248.7 1461.6,246.84 1479.3,248.08 1497,258.13 1514.7,271.12 1532.4,280.08 1550.1,287.2 1567.8,294.62 1585.5,299.1 1603.2,302.04 1620.9,305.13 1638.6,306.98 1656.3,307.45 1674,309.15 1691.7,310.39 1709.4,310.85 1727.1,311.47 1744.8,310.85 1762.5,312.09 1780.2,313.17 1797.9,313.63 1815.6,314.4 1833.3,315.33 1851,315.33 1868.7,315.49 1886.4,315.95 1904.1,315.95 1921.8,315.49 1939.5,314.87 1957.2,314.1"/>
<polyline fill="none" stroke="#a8e47c" stroke-width="2.6" stroke-linejoin="round" points="1143,304.05 1160.7,302.96 1178.4,301.42 1196.1,300.95 1213.8,298.64 1231.5,297.55 1249.2,295.39 1266.9,293.07 1284.6,290.13 1302.3,284.1 1320,280.7 1337.7,266.63 1355.4,240.97 1373.1,240.97 1390.8,251.17 1408.5,251.33 1426.2,234.79 1443.9,225.2 1461.6,224.12 1479.3,229.07 1497,240.82 1514.7,258.13 1532.4,267.25 1550.1,274.52 1567.8,282.71 1585.5,287.2 1603.2,292.45 1620.9,295.39 1638.6,296.94 1656.3,298.02 1674,301.11 1691.7,302.5 1709.4,304.05 1727.1,304.67 1744.8,304.05 1762.5,305.44 1780.2,308.07 1797.9,309.15 1815.6,310.85 1833.3,311.47 1851,311.47 1868.7,311.93 1886.4,311.93 1904.1,311.47 1921.8,310.85 1939.5,309.77 1957.2,307.45"/>
<polyline fill="none" stroke="#3a77b4" stroke-width="3.0" stroke-linejoin="round" points="1143,277.15 1160.7,272.97 1178.4,271.12 1196.1,266.63 1213.8,266.63 1231.5,264.47 1249.2,257.67 1266.9,252.1 1284.6,245.76 1302.3,248.7 1320,232.31 1337.7,200.16 1355.4,169.24 1373.1,202.32 1390.8,212.37 1408.5,186.55 1426.2,154.55 1443.9,141.1 1461.6,131.82 1479.3,146.05 1497,179.28 1514.7,210.67 1532.4,218.55 1550.1,228.14 1567.8,243.13 1585.5,252.72 1603.2,261.53 1620.9,266.63 1638.6,270.5 1656.3,275.14 1674,279.31 1691.7,280.55 1709.4,281.17 1727.1,282.71 1744.8,285.03 1762.5,291.68 1780.2,296.94 1797.9,299.56 1815.6,301.73 1833.3,304.05 1851,304.05 1868.7,305.44 1886.4,305.28 1904.1,305.28 1921.8,303.58 1939.5,300.18 1957.2,290.13"/>
<polyline fill="none" stroke="#a3d2e4" stroke-width="2.6" stroke-linejoin="round" points="1143,231.23 1160.7,226.75 1178.4,224.12 1196.1,217.32 1213.8,209.43 1231.5,199.38 1249.2,190.42 1266.9,182.22 1284.6,166.45 1302.3,169.54 1320,155.32 1337.7,119.92 1355.4,70.6 1373.1,81.73 1390.8,118.53 1408.5,102.6 1426.2,75.08 1443.9,63.95 1461.6,46.33 1479.3,65.04 1497,92.24 1514.7,129.5 1532.4,144.5 1550.1,161.35 1567.8,181.45 1585.5,194.44 1603.2,207.89 1620.9,209.43 1638.6,215.15 1656.3,217.32 1674,225.51 1691.7,227.06 1709.4,227.83 1727.1,230.77 1744.8,230.77 1762.5,242.05 1780.2,249.78 1797.9,256.58 1815.6,261.07 1833.3,268.95 1851,270.03 1868.7,276.06 1886.4,273.75 1904.1,273.44 1921.8,271.74 1939.5,270.03 1957.2,258.75"/>
<line x1="1851.6" y1="37" x2="1894.2" y2="37" stroke="#a3d2e4" stroke-width="2.8"/>
<text x="1899.3" y="43.4" font-size="17.6" font-weight="bold" fill="#a3d2e4" font-family="Liberation Sans, Arial, sans-serif">0-4 yr</text>
<line x1="1851.6" y1="60.6" x2="1894.2" y2="60.6" stroke="#3a77b4" stroke-width="2.8"/>
<text x="1899.3" y="67" font-size="17.6" font-weight="bold" fill="#3a77b4" font-family="Liberation Sans, Arial, sans-serif">5-24 yr</text>
<line x1="1851.6" y1="84.2" x2="1894.2" y2="84.2" stroke="#a8e47c" stroke-width="2.8"/>
<text x="1899.3" y="90.6" font-size="17.6" font-weight="bold" fill="#a8e47c" font-family="Liberation Sans, Arial, sans-serif">25-49 yr</text>
<line x1="1851.6" y1="107.8" x2="1894.2" y2="107.8" stroke="#38a02c" stroke-width="2.8"/>
<text x="1899.3" y="114.2" font-size="17.6" font-weight="bold" fill="#38a02c" font-family="Liberation Sans, Arial, sans-serif">50-64 yr</text>
<line x1="1851.6" y1="131.4" x2="1894.2" y2="131.4" stroke="#ef8a90" stroke-width="2.8"/>
<text x="1899.3" y="137.8" font-size="17.6" font-weight="bold" fill="#ef8a90" font-family="Liberation Sans, Arial, sans-serif">65+ yr</text>
<text transform="translate(1067.5,193.7) rotate(-90)" font-size="25.7" fill="#000" text-anchor="middle" font-family="Liberation Sans, Arial, sans-serif">% of Outpatient Visits for ILI</text>
<text transform="translate(1198.70,365.80) scale(1,1.03) rotate(-45)" font-size="17.5" fill="#000" text-anchor="end" font-family="Liberation Sans, Arial, sans-serif">October 2024</text>
<text transform="translate(1266.40,365.80) scale(1,1.03) rotate(-45)" font-size="17.5" fill="#000" text-anchor="end" font-family="Liberation Sans, Arial, sans-serif">November 2024</text>
<text transform="translate(1339.80,358.80) scale(1,1.03) rotate(-45)" font-size="17.5" fill="#000" text-anchor="end" font-family="Liberation Sans, Arial, sans-serif">December 2024</text>
<text transform="translate(1411.10,365.90) scale(1,1.03) rotate(-45)" font-size="17.5" fill="#000" text-anchor="end" font-family="Liberation Sans, Arial, sans-serif">January 2025</text>
<text transform="translate(1479.60,363.50) scale(1,1.03) rotate(-45)" font-size="17.5" fill="#000" text-anchor="end" font-family="Liberation Sans, Arial, sans-serif">February 2025</text>
<text transform="translate(1550.50,365.10) scale(1,1.03) rotate(-45)" font-size="17.5" fill="#000" text-anchor="end" font-family="Liberation Sans, Arial, sans-serif">March 2025</text>
<text transform="translate(1619.00,369.20) scale(1,1.03) rotate(-45)" font-size="17.5" fill="#000" text-anchor="end" font-family="Liberation Sans, Arial, sans-serif">April 2025</text>
<text transform="translate(1690.70,365.90) scale(1,1.03) rotate(-45)" font-size="17.5" fill="#000" text-anchor="end" font-family="Liberation Sans, Arial, sans-serif">May 2025</text>
<text transform="translate(1761.40,362.85) scale(1,1.03) rotate(-45)" font-size="17.5" fill="#000" text-anchor="end" font-family="Liberation Sans, Arial, sans-serif">June 2025</text>
<text transform="translate(1836.10,364.85) scale(1,1.03) rotate(-45)" font-size="17.5" fill="#000" text-anchor="end" font-family="Liberation Sans, Arial, sans-serif">July 2025</text>
<text transform="translate(1904.35,362.60) scale(1,1.03) rotate(-45)" font-size="17.5" fill="#000" text-anchor="end" font-family="Liberation Sans, Arial, sans-serif">August 2025</text>
<text transform="translate(1975.60,357.35) scale(1,1.03) rotate(-45)" font-size="17.5" fill="#000" text-anchor="end" font-family="Liberation Sans, Arial, sans-serif">September 2025</text>
<rect x="80.1" y="1088.8" width="900.0" height="350.70000000000005" fill="none" stroke="#000" stroke-width="2"/>
<line x1="74.1" y1="1439.5" x2="80.1" y2="1439.5" stroke="#000" stroke-width="1.6"/>
<line x1="74.1" y1="1412.47" x2="80.1" y2="1412.47" stroke="#000" stroke-width="1.6"/>
<line x1="74.1" y1="1385.44" x2="80.1" y2="1385.44" stroke="#000" stroke-width="1.6"/>
<line x1="74.1" y1="1358.41" x2="80.1" y2="1358.41" stroke="#000" stroke-width="1.6"/>
<line x1="74.1" y1="1331.38" x2="80.1" y2="1331.38" stroke="#000" stroke-width="1.6"/>
<line x1="74.1" y1="1304.35" x2="80.1" y2="1304.35" stroke="#000" stroke-width="1.6"/>
<line x1="74.1" y1="1277.32" x2="80.1" y2="1277.32" stroke="#000" stroke-width="1.6"/>
<line x1="74.1" y1="1250.29" x2="80.1" y2="1250.29" stroke="#000" stroke-width="1.6"/>
<line x1="74.1" y1="1223.26" x2="80.1" y2="1223.26" stroke="#000" stroke-width="1.6"/>
<line x1="74.1" y1="1196.23" x2="80.1" y2="1196.23" stroke="#000" stroke-width="1.6"/>
<line x1="74.1" y1="1169.2" x2="80.1" y2="1169.2" stroke="#000" stroke-width="1.6"/>
<line x1="74.1" y1="1142.17" x2="80.1" y2="1142.17" stroke="#000" stroke-width="1.6"/>
<text x="64.5" y="1121.45" font-size="19.2" fill="#000" text-anchor="end" font-family="Liberation Sans, Arial, sans-serif">60K</text>
<text x="69.1" y="1281.8" font-size="19.2" fill="#000" text-anchor="end" font-family="Liberation Sans, Arial, sans-serif">30K</text>
<text x="65.1" y="1392.6" font-size="19.2" fill="#000" text-anchor="end" font-family="Liberation Sans, Arial, sans-serif">0</text>
<line x1="89.1" y1="1439.5" x2="89.1" y2="1448.5" stroke="#000" stroke-width="1.8"/>
<rect x="82.35" y="1437.34" width="13.5" height="2.16" fill="#ee8c45" stroke="#000" stroke-width="1.1"/>
<rect x="82.35" y="1437.34" width="13.5" height="2.16" fill="#78ffc4" stroke="#000" stroke-width="1.1"/>
<line x1="107.88" y1="1439.5" x2="107.88" y2="1448.5" stroke="#000" stroke-width="1.8"/>
<rect x="101.13" y="1436.8" width="13.5" height="2.7" fill="#ee8c45" stroke="#000" stroke-width="1.1"/>
<rect x="101.13" y="1436.8" width="13.5" height="2.7" fill="#78ffc4" stroke="#000" stroke-width="1.1"/>
<line x1="126.66" y1="1439.5" x2="126.66" y2="1448.5" stroke="#000" stroke-width="1.8"/>
<rect x="119.91" y="1436.8" width="13.5" height="2.7" fill="#ee8c45" stroke="#000" stroke-width="1.1"/>
<rect x="119.91" y="1436.8" width="13.5" height="2.7" fill="#78ffc4" stroke="#000" stroke-width="1.1"/>
<line x1="145.44" y1="1439.5" x2="145.44" y2="1448.5" stroke="#000" stroke-width="1.8"/>
<rect x="138.69" y="1435.45" width="13.5" height="4.05" fill="#ee8c45" stroke="#000" stroke-width="1.1"/>
<rect x="138.69" y="1435.45" width="13.5" height="4.05" fill="#78ffc4" stroke="#000" stroke-width="1.1"/>
<line x1="164.22" y1="1439.5" x2="164.22" y2="1448.5" stroke="#000" stroke-width="1.8"/>
<rect x="157.47" y="1434.64" width="13.5" height="4.86" fill="#ee8c45" stroke="#000" stroke-width="1.1"/>
<rect x="157.47" y="1434.64" width="13.5" height="4.86" fill="#78ffc4" stroke="#000" stroke-width="1.1"/>
<line x1="183" y1="1439.5" x2="183" y2="1448.5" stroke="#000" stroke-width="1.8"/>
<rect x="176.25" y="1433.02" width="13.5" height="6.48" fill="#ee8c45" stroke="#000" stroke-width="1.1"/>
<rect x="176.25" y="1433.02" width="13.5" height="6.48" fill="#78ffc4" stroke="#000" stroke-width="1.1"/>
<line x1="201.78" y1="1439.5" x2="201.78" y2="1448.5" stroke="#000" stroke-width="1.8"/>
<rect x="195.03" y="1430.33" width="13.5" height="9.17" fill="#ee8c45" stroke="#000" stroke-width="1.1"/>
<rect x="195.03" y="1430.33" width="13.5" height="9.17" fill="#78ffc4" stroke="#000" stroke-width="1.1"/>
<line x1="220.56" y1="1439.5" x2="220.56" y2="1448.5" stroke="#000" stroke-width="1.8"/>
<rect x="213.81" y="1426.55" width="13.5" height="12.95" fill="#ee8c45" stroke="#000" stroke-width="1.1"/>
<rect x="213.81" y="1426.55" width="13.5" height="12.95" fill="#78ffc4" stroke="#000" stroke-width="1.1"/>
<line x1="239.34" y1="1439.5" x2="239.34" y2="1448.5" stroke="#000" stroke-width="1.8"/>
<rect x="232.59" y="1421.69" width="13.5" height="17.81" fill="#ee8c45" stroke="#000" stroke-width="1.1"/>
<rect x="232.59" y="1421.69" width="13.5" height="17.81" fill="#78ffc4" stroke="#000" stroke-width="1.1"/>
<line x1="258.12" y1="1439.5" x2="258.12" y2="1448.5" stroke="#000" stroke-width="1.8"/>
<rect x="251.37" y="1411.98" width="13.5" height="27.52" fill="#ee8c45" stroke="#000" stroke-width="1.1"/>
<rect x="251.37" y="1413.32" width="13.5" height="26.18" fill="#78ffc4" stroke="#000" stroke-width="1.1"/>
<line x1="276.9" y1="1439.5" x2="276.9" y2="1448.5" stroke="#000" stroke-width="1.8"/>
<rect x="270.15" y="1390.39" width="13.5" height="49.11" fill="#ee8c45" stroke="#000" stroke-width="1.1"/>
<rect x="270.15" y="1392.28" width="13.5" height="47.22" fill="#78ffc4" stroke="#000" stroke-width="1.1"/>
<line x1="295.68" y1="1439.5" x2="295.68" y2="1448.5" stroke="#000" stroke-width="1.8"/>
<rect x="288.93" y="1345.05" width="13.5" height="94.45" fill="#ee8c45" stroke="#000" stroke-width="1.1"/>
<rect x="288.93" y="1347.75" width="13.5" height="91.75" fill="#78ffc4" stroke="#000" stroke-width="1.1"/>
<line x1="314.46" y1="1439.5" x2="314.46" y2="1448.5" stroke="#000" stroke-width="1.8"/>
<rect x="307.71" y="1310.51" width="13.5" height="128.99" fill="#ee8c45" stroke="#000" stroke-width="1.1"/>
<rect x="307.71" y="1313.75" width="13.5" height="125.75" fill="#78ffc4" stroke="#000" stroke-width="1.1"/>
<line x1="333.24" y1="1439.5" x2="333.24" y2="1448.5" stroke="#000" stroke-width="1.8"/>
<rect x="326.49" y="1302.96" width="13.5" height="136.54" fill="#ee8c45" stroke="#000" stroke-width="1.1"/>
<rect x="326.49" y="1307.27" width="13.5" height="132.23" fill="#78ffc4" stroke="#000" stroke-width="1.1"/>
<line x1="352.02" y1="1439.5" x2="352.02" y2="1448.5" stroke="#000" stroke-width="1.8"/>
<rect x="345.27" y="1306.73" width="13.5" height="132.77" fill="#ee8c45" stroke="#000" stroke-width="1.1"/>
<rect x="345.27" y="1310.51" width="13.5" height="128.99" fill="#78ffc4" stroke="#000" stroke-width="1.1"/>
<line x1="370.8" y1="1439.5" x2="370.8" y2="1448.5" stroke="#000" stroke-width="1.8"/>
<rect x="364.05" y="1257.08" width="13.5" height="182.42" fill="#ee8c45" stroke="#000" stroke-width="1.1"/>
<rect x="364.05" y="1262.48" width="13.5" height="177.02" fill="#78ffc4" stroke="#000" stroke-width="1.1"/>
<line x1="389.58" y1="1439.5" x2="389.58" y2="1448.5" stroke="#000" stroke-width="1.8"/>
<rect x="382.83" y="1209.59" width="13.5" height="229.91" fill="#ee8c45" stroke="#000" stroke-width="1.1"/>
<rect x="382.83" y="1216.6" width="13.5" height="222.9" fill="#78ffc4" stroke="#000" stroke-width="1.1"/>
<line x1="408.36" y1="1439.5" x2="408.36" y2="1448.5" stroke="#000" stroke-width="1.8"/>
<rect x="401.61" y="1142.13" width="13.5" height="297.37" fill="#ee8c45" stroke="#000" stroke-width="1.1"/>
<rect x="401.61" y="1154" width="13.5" height="285.5" fill="#78ffc4" stroke="#000" stroke-width="1.1"/>
<line x1="427.14" y1="1439.5" x2="427.14" y2="1448.5" stroke="#000" stroke-width="1.8"/>
<rect x="420.39" y="1136.73" width="13.5" height="302.77" fill="#ee8c45" stroke="#000" stroke-width="1.1"/>
<rect x="420.39" y="1152.92" width="13.5" height="286.58" fill="#78ffc4" stroke="#000" stroke-width="1.1"/>
<line x1="445.92" y1="1439.5" x2="445.92" y2="1448.5" stroke="#000" stroke-width="1.8"/>
<rect x="439.17" y="1197.71" width="13.5" height="241.79" fill="#ee8c45" stroke="#000" stroke-width="1.1"/>
<rect x="439.17" y="1215.52" width="13.5" height="223.98" fill="#78ffc4" stroke="#000" stroke-width="1.1"/>
<line x1="464.7" y1="1439.5" x2="464.7" y2="1448.5" stroke="#000" stroke-width="1.8"/>
<rect x="457.95" y="1256.54" width="13.5" height="182.96" fill="#ee8c45" stroke="#000" stroke-width="1.1"/>
<rect x="457.95" y="1275.97" width="13.5" height="163.53" fill="#78ffc4" stroke="#000" stroke-width="1.1"/>
<line x1="483.48" y1="1439.5" x2="483.48" y2="1448.5" stroke="#000" stroke-width="1.8"/>
<rect x="476.73" y="1299.18" width="13.5" height="140.32" fill="#ee8c45" stroke="#000" stroke-width="1.1"/>
<rect x="476.73" y="1319.15" width="13.5" height="120.35" fill="#78ffc4" stroke="#000" stroke-width="1.1"/>
<line x1="502.26" y1="1439.5" x2="502.26" y2="1448.5" stroke="#000" stroke-width="1.8"/>
<rect x="495.51" y="1339.66" width="13.5" height="99.84" fill="#ee8c45" stroke="#000" stroke-width="1.1"/>
<rect x="495.51" y="1359.62" width="13.5" height="79.88" fill="#78ffc4" stroke="#000" stroke-width="1.1"/>
<line x1="521.04" y1="1439.5" x2="521.04" y2="1448.5" stroke="#000" stroke-width="1.8"/>
<rect x="514.29" y="1361.78" width="13.5" height="77.72" fill="#ee8c45" stroke="#000" stroke-width="1.1"/>
<rect x="514.29" y="1382.83" width="13.5" height="56.67" fill="#78ffc4" stroke="#000" stroke-width="1.1"/>
<line x1="539.82" y1="1439.5" x2="539.82" y2="1448.5" stroke="#000" stroke-width="1.8"/>
<rect x="533.07" y="1383.37" width="13.5" height="56.13" fill="#ee8c45" stroke="#000" stroke-width="1.1"/>
<rect x="533.07" y="1404.42" width="13.5" height="35.08" fill="#78ffc4" stroke="#000" stroke-width="1.1"/>
<line x1="558.6" y1="1439.5" x2="558.6" y2="1448.5" stroke="#000" stroke-width="1.8"/>
<rect x="551.85" y="1394.7" width="13.5" height="44.8" fill="#ee8c45" stroke="#000" stroke-width="1.1"/>
<rect x="551.85" y="1415.21" width="13.5" height="24.29" fill="#78ffc4" stroke="#000" stroke-width="1.1"/>
<line x1="577.38" y1="1439.5" x2="577.38" y2="1448.5" stroke="#000" stroke-width="1.8"/>
<rect x="570.63" y="1406.04" width="13.5" height="33.46" fill="#ee8c45" stroke="#000" stroke-width="1.1"/>
<rect x="570.63" y="1423.85" width="13.5" height="15.65" fill="#78ffc4" stroke="#000" stroke-width="1.1"/>
<line x1="596.16" y1="1439.5" x2="596.16" y2="1448.5" stroke="#000" stroke-width="1.8"/>
<rect x="589.41" y="1413.05" width="13.5" height="26.45" fill="#ee8c45" stroke="#000" stroke-width="1.1"/>
<rect x="589.41" y="1429.25" width="13.5" height="10.25" fill="#78ffc4" stroke="#000" stroke-width="1.1"/>
<line x1="614.94" y1="1439.5" x2="614.94" y2="1448.5" stroke="#000" stroke-width="1.8"/>
<rect x="608.19" y="1418.45" width="13.5" height="21.05" fill="#ee8c45" stroke="#000" stroke-width="1.1"/>
<rect x="608.19" y="1432.48" width="13.5" height="7.02" fill="#78ffc4" stroke="#000" stroke-width="1.1"/>
<line x1="633.72" y1="1439.5" x2="633.72" y2="1448.5" stroke="#000" stroke-width="1.8"/>
<rect x="626.97" y="1422.23" width="13.5" height="17.27" fill="#ee8c45" stroke="#000" stroke-width="1.1"/>
<rect x="626.97" y="1434.37" width="13.5" height="5.13" fill="#78ffc4" stroke="#000" stroke-width="1.1"/>
<line x1="652.5" y1="1439.5" x2="652.5" y2="1448.5" stroke="#000" stroke-width="1.8"/>
<rect x="645.75" y="1428.17" width="13.5" height="11.33" fill="#ee8c45" stroke="#000" stroke-width="1.1"/>
<rect x="645.75" y="1436.53" width="13.5" height="2.97" fill="#78ffc4" stroke="#000" stroke-width="1.1"/>
<line x1="671.28" y1="1439.5" x2="671.28" y2="1448.5" stroke="#000" stroke-width="1.8"/>
<rect x="664.53" y="1431.67" width="13.5" height="7.83" fill="#ee8c45" stroke="#000" stroke-width="1.1"/>
<rect x="664.53" y="1437.88" width="13.5" height="1.62" fill="#78ffc4" stroke="#000" stroke-width="1.1"/>
<line x1="690.06" y1="1439.5" x2="690.06" y2="1448.5" stroke="#000" stroke-width="1.8"/>
<rect x="683.31" y="1433.56" width="13.5" height="5.94" fill="#ee8c45" stroke="#000" stroke-width="1.1"/>
<rect x="683.31" y="1438.42" width="13.5" height="1.08" fill="#78ffc4" stroke="#000" stroke-width="1.1"/>
<line x1="708.84" y1="1439.5" x2="708.84" y2="1448.5" stroke="#000" stroke-width="1.8"/>
<rect x="702.09" y="1434.64" width="13.5" height="4.86" fill="#ee8c45" stroke="#000" stroke-width="1.1"/>
<rect x="702.09" y="1438.96" width="13.5" height="0.54" fill="#78ffc4" stroke="#000" stroke-width="1.1"/>
<line x1="727.62" y1="1439.5" x2="727.62" y2="1448.5" stroke="#000" stroke-width="1.8"/>
<rect x="720.87" y="1434.91" width="13.5" height="4.59" fill="#ee8c45" stroke="#000" stroke-width="1.1"/>
<rect x="720.87" y="1439.07" width="13.5" height="0.43" fill="#78ffc4" stroke="#000" stroke-width="1.1"/>
<line x1="746.4" y1="1439.5" x2="746.4" y2="1448.5" stroke="#000" stroke-width="1.8"/>
<rect x="739.65" y="1435.72" width="13.5" height="3.78" fill="#ee8c45" stroke="#000" stroke-width="1.1"/>
<rect x="739.65" y="1439.23" width="13.5" height="0.27" fill="#78ffc4" stroke="#000" stroke-width="1.1"/>
<line x1="765.18" y1="1439.5" x2="765.18" y2="1448.5" stroke="#000" stroke-width="1.8"/>
<rect x="758.43" y="1436.53" width="13.5" height="2.97" fill="#ee8c45" stroke="#000" stroke-width="1.1"/>
<rect x="758.43" y="1439.34" width="13.5" height="0.16" fill="#78ffc4" stroke="#000" stroke-width="1.1"/>
<line x1="783.96" y1="1439.5" x2="783.96" y2="1448.5" stroke="#000" stroke-width="1.8"/>
<rect x="777.21" y="1437.34" width="13.5" height="2.16" fill="#ee8c45" stroke="#000" stroke-width="1.1"/>
<line x1="802.74" y1="1439.5" x2="802.74" y2="1448.5" stroke="#000" stroke-width="1.8"/>
<rect x="795.99" y="1437.88" width="13.5" height="1.62" fill="#ee8c45" stroke="#000" stroke-width="1.1"/>
<line x1="821.52" y1="1439.5" x2="821.52" y2="1448.5" stroke="#000" stroke-width="1.8"/>
<rect x="814.77" y="1438.42" width="13.5" height="1.08" fill="#ee8c45" stroke="#000" stroke-width="1.1"/>
<line x1="840.3" y1="1439.5" x2="840.3" y2="1448.5" stroke="#000" stroke-width="1.8"/>
<rect x="833.55" y="1438.69" width="13.5" height="0.81" fill="#ee8c45" stroke="#000" stroke-width="1.1"/>
<line x1="859.08" y1="1439.5" x2="859.08" y2="1448.5" stroke="#000" stroke-width="1.8"/>
<rect x="852.33" y="1439.07" width="13.5" height="0.43" fill="#ee8c45" stroke="#000" stroke-width="1.1"/>
<line x1="877.86" y1="1439.5" x2="877.86" y2="1448.5" stroke="#000" stroke-width="1.8"/>
<rect x="871.11" y="1439.18" width="13.5" height="0.32" fill="#ee8c45" stroke="#000" stroke-width="1.1"/>
<line x1="896.64" y1="1439.5" x2="896.64" y2="1448.5" stroke="#000" stroke-width="1.8"/>
<rect x="889.89" y="1439.23" width="13.5" height="0.27" fill="#ee8c45" stroke="#000" stroke-width="1.1"/>
<line x1="915.42" y1="1439.5" x2="915.42" y2="1448.5" stroke="#000" stroke-width="1.8"/>
<rect x="908.67" y="1439.23" width="13.5" height="0.27" fill="#ee8c45" stroke="#000" stroke-width="1.1"/>
<line x1="934.2" y1="1439.5" x2="934.2" y2="1448.5" stroke="#000" stroke-width="1.8"/>
<rect x="927.45" y="1439.23" width="13.5" height="0.27" fill="#ee8c45" stroke="#000" stroke-width="1.1"/>
<line x1="952.98" y1="1439.5" x2="952.98" y2="1448.5" stroke="#000" stroke-width="1.8"/>
<rect x="946.23" y="1439.23" width="13.5" height="0.27" fill="#ee8c45" stroke="#000" stroke-width="1.1"/>
<line x1="971.76" y1="1439.5" x2="971.76" y2="1448.5" stroke="#000" stroke-width="1.8"/>
<rect x="965.01" y="1439.23" width="13.5" height="0.27" fill="#ee8c45" stroke="#000" stroke-width="1.1"/>
<rect x="825.4" y="1096.6" width="43.4" height="20.8" fill="#ee8c45" stroke="#000" stroke-width="1.2"/>
<rect x="825.4" y="1121.5" width="43.4" height="20.6" fill="#78ffc4" stroke="#000" stroke-width="1.2"/>
<text x="874.5" y="1113.8" font-size="19.5" fill="#ec8a48" font-family="Liberation Sans, Arial, sans-serif">Influenza B</text>
<text x="874.5" y="1138.2" font-size="19.5" fill="#74f5bf" font-family="Liberation Sans, Arial, sans-serif">Influenza A</text>
<text transform="translate(21.6,1262.75) rotate(-90)" font-size="25.8" fill="#000" text-anchor="middle" font-family="Liberation Sans, Arial, sans-serif"># of Positive Specimens</text>
<text transform="translate(156.70,1467.80) scale(1,1.03) rotate(-45)" font-size="17.5" fill="#000" text-anchor="end" font-family="Liberation Sans, Arial, sans-serif">October 2024</text>
<text transform="translate(226.80,1468.60) scale(1,1.03) rotate(-45)" font-size="17.5" fill="#000" text-anchor="end" font-family="Liberation Sans, Arial, sans-serif">November 2024</text>
<text transform="translate(301.90,1461.20) scale(1,1.03) rotate(-45)" font-size="17.5" fill="#000" text-anchor="end" font-family="Liberation Sans, Arial, sans-serif">December 2024</text>
<text transform="translate(377.30,1468.80) scale(1,1.03) rotate(-45)" font-size="17.5" fill="#000" text-anchor="end" font-family="Liberation Sans, Arial, sans-serif">January 2025</text>
<text transform="translate(448.20,1465.50) scale(1,1.03) rotate(-45)" font-size="17.5" fill="#000" text-anchor="end" font-family="Liberation Sans, Arial, sans-serif">February 2025</text>
<text transform="translate(523.30,1468.80) scale(1,1.03) rotate(-45)" font-size="17.5" fill="#000" text-anchor="end" font-family="Liberation Sans, Arial, sans-serif">March 2025</text>
<text transform="translate(595.10,1471.30) scale(1,1.03) rotate(-45)" font-size="17.5" fill="#000" text-anchor="end" font-family="Liberation Sans, Arial, sans-serif">April 2025</text>
<text transform="translate(670.10,1468.00) scale(1,1.03) rotate(-45)" font-size="17.5" fill="#000" text-anchor="end" font-family="Liberation Sans, Arial, sans-serif">May 2025</text>
<text transform="translate(743.00,1466.00) scale(1,1.03) rotate(-45)" font-size="17.5" fill="#000" text-anchor="end" font-family="Liberation Sans, Arial, sans-serif">June 2025</text>
<text transform="translate(825.00,1468.00) scale(1,1.03) rotate(-45)" font-size="17.5" fill="#000" text-anchor="end" font-family="Liberation Sans, Arial, sans-serif">July 2025</text>
<text transform="translate(896.25,1465.75) scale(1,1.03) rotate(-45)" font-size="17.5" fill="#000" text-anchor="end" font-family="Liberation Sans, Arial, sans-serif">August 2025</text>
<text transform="translate(969.00,1461.25) scale(1,1.03) rotate(-45)" font-size="17.5" fill="#000" text-anchor="end" font-family="Liberation Sans, Arial, sans-serif">September 2025</text>
<rect x="1104.5" y="1094.5" width="889.9000000000001" height="334.0" fill="none" stroke="#000" stroke-width="2"/>
<line x1="1098.5" y1="1428.5" x2="1104.5" y2="1428.5" stroke="#000" stroke-width="1.6"/>
<line x1="1098.5" y1="1395.15" x2="1104.5" y2="1395.15" stroke="#000" stroke-width="1.6"/>
<line x1="1098.5" y1="1361.8" x2="1104.5" y2="1361.8" stroke="#000" stroke-width="1.6"/>
<line x1="1098.5" y1="1328.45" x2="1104.5" y2="1328.45" stroke="#000" stroke-width="1.6"/>
<line x1="1098.5" y1="1295.1" x2="1104.5" y2="1295.1" stroke="#000" stroke-width="1.6"/>
<line x1="1098.5" y1="1261.75" x2="1104.5" y2="1261.75" stroke="#000" stroke-width="1.6"/>
<line x1="1098.5" y1="1228.4" x2="1104.5" y2="1228.4" stroke="#000" stroke-width="1.6"/>
<line x1="1098.5" y1="1195.05" x2="1104.5" y2="1195.05" stroke="#000" stroke-width="1.6"/>
<line x1="1098.5" y1="1161.7" x2="1104.5" y2="1161.7" stroke="#000" stroke-width="1.6"/>
<line x1="1098.5" y1="1128.35" x2="1104.5" y2="1128.35" stroke="#000" stroke-width="1.6"/>
<line x1="1098.5" y1="1095" x2="1104.5" y2="1095" stroke="#000" stroke-width="1.6"/>
<text x="1089.0" y="1112.65" font-size="19.2" fill="#000" text-anchor="end" font-family="Liberation Sans, Arial, sans-serif">30K</text>
<text x="1091.2" y="1236.35" font-size="19.2" fill="#000" text-anchor="end" font-family="Liberation Sans, Arial, sans-serif">15K</text>
<text x="1091.6" y="1427.2" font-size="19.2" fill="#000" text-anchor="end" font-family="Liberation Sans, Arial, sans-serif">0</text>
<line x1="1113.6" y1="1428.5" x2="1113.6" y2="1437.5" stroke="#000" stroke-width="1.8"/>
<line x1="1122.87" y1="1428.5" x2="1122.87" y2="1433" stroke="#000" stroke-width="1.6"/>
<rect x="1107.95" y="1405.46" width="11.3" height="23.04" fill="#566578" stroke="#000" stroke-width="1.1"/>
<rect x="1107.95" y="1407.45" width="11.3" height="21.05" fill="#b6b6b6" stroke="#000" stroke-width="1.1"/>
<rect x="1107.95" y="1407.85" width="11.3" height="20.65" fill="#9797bf" stroke="#000" stroke-width="1.1"/>
<rect x="1107.95" y="1408.52" width="11.3" height="19.98" fill="#ead65e" stroke="#000" stroke-width="1.1"/>
<rect x="1107.95" y="1409.05" width="11.3" height="19.45" fill="#f84144" stroke="#000" stroke-width="1.1"/>
<line x1="1132.13" y1="1428.5" x2="1132.13" y2="1437.5" stroke="#000" stroke-width="1.8"/>
<line x1="1141.39" y1="1428.5" x2="1141.39" y2="1433" stroke="#000" stroke-width="1.6"/>
<rect x="1126.48" y="1406.66" width="11.3" height="21.84" fill="#566578" stroke="#000" stroke-width="1.1"/>
<rect x="1126.48" y="1408.25" width="11.3" height="20.25" fill="#b6b6b6" stroke="#000" stroke-width="1.1"/>
<rect x="1126.48" y="1408.52" width="11.3" height="19.98" fill="#9797bf" stroke="#000" stroke-width="1.1"/>
<rect x="1126.48" y="1409.19" width="11.3" height="19.31" fill="#ead65e" stroke="#000" stroke-width="1.1"/>
<rect x="1126.48" y="1409.59" width="11.3" height="18.91" fill="#f84144" stroke="#000" stroke-width="1.1"/>
<line x1="1150.66" y1="1428.5" x2="1150.66" y2="1437.5" stroke="#000" stroke-width="1.8"/>
<line x1="1159.92" y1="1428.5" x2="1159.92" y2="1433" stroke="#000" stroke-width="1.6"/>
<rect x="1145.01" y="1406.66" width="11.3" height="21.84" fill="#566578" stroke="#000" stroke-width="1.1"/>
<rect x="1145.01" y="1408.79" width="11.3" height="19.71" fill="#b6b6b6" stroke="#000" stroke-width="1.1"/>
<rect x="1145.01" y="1409.19" width="11.3" height="19.31" fill="#9797bf" stroke="#000" stroke-width="1.1"/>
<rect x="1145.01" y="1409.85" width="11.3" height="18.65" fill="#ead65e" stroke="#000" stroke-width="1.1"/>
<rect x="1145.01" y="1410.25" width="11.3" height="18.25" fill="#f84144" stroke="#000" stroke-width="1.1"/>
<line x1="1169.19" y1="1428.5" x2="1169.19" y2="1437.5" stroke="#000" stroke-width="1.8"/>
<line x1="1178.45" y1="1428.5" x2="1178.45" y2="1433" stroke="#000" stroke-width="1.6"/>
<rect x="1163.54" y="1397.6" width="11.3" height="30.9" fill="#566578" stroke="#000" stroke-width="1.1"/>
<rect x="1163.54" y="1398.26" width="11.3" height="30.24" fill="#b6b6b6" stroke="#000" stroke-width="1.1"/>
<rect x="1163.54" y="1398.66" width="11.3" height="29.84" fill="#9797bf" stroke="#000" stroke-width="1.1"/>
<rect x="1163.54" y="1401.06" width="11.3" height="27.44" fill="#ead65e" stroke="#000" stroke-width="1.1"/>
<rect x="1163.54" y="1402.66" width="11.3" height="25.84" fill="#f84144" stroke="#000" stroke-width="1.1"/>
<line x1="1187.72" y1="1428.5" x2="1187.72" y2="1437.5" stroke="#000" stroke-width="1.8"/>
<line x1="1196.98" y1="1428.5" x2="1196.98" y2="1433" stroke="#000" stroke-width="1.6"/>
<rect x="1182.07" y="1399.86" width="11.3" height="28.64" fill="#566578" stroke="#000" stroke-width="1.1"/>
<rect x="1182.07" y="1401.19" width="11.3" height="27.31" fill="#b6b6b6" stroke="#000" stroke-width="1.1"/>
<rect x="1182.07" y="1401.86" width="11.3" height="26.64" fill="#9797bf" stroke="#000" stroke-width="1.1"/>
<rect x="1182.07" y="1403.86" width="11.3" height="24.64" fill="#ead65e" stroke="#000" stroke-width="1.1"/>
<rect x="1182.07" y="1405.72" width="11.3" height="22.78" fill="#f84144" stroke="#000" stroke-width="1.1"/>
<line x1="1206.25" y1="1428.5" x2="1206.25" y2="1437.5" stroke="#000" stroke-width="1.8"/>
<line x1="1215.52" y1="1428.5" x2="1215.52" y2="1433" stroke="#000" stroke-width="1.6"/>
<rect x="1200.6" y="1397.2" width="11.3" height="31.3" fill="#566578" stroke="#000" stroke-width="1.1"/>
<rect x="1200.6" y="1398.53" width="11.3" height="29.97" fill="#b6b6b6" stroke="#000" stroke-width="1.1"/>
<rect x="1200.6" y="1399.2" width="11.3" height="29.3" fill="#9797bf" stroke="#000" stroke-width="1.1"/>
<rect x="1200.6" y="1402.26" width="11.3" height="26.24" fill="#ead65e" stroke="#000" stroke-width="1.1"/>
<rect x="1200.6" y="1404.26" width="11.3" height="24.24" fill="#f84144" stroke="#000" stroke-width="1.1"/>
<line x1="1224.78" y1="1428.5" x2="1224.78" y2="1437.5" stroke="#000" stroke-width="1.8"/>
<line x1="1234.05" y1="1428.5" x2="1234.05" y2="1433" stroke="#000" stroke-width="1.6"/>
<rect x="1219.13" y="1394.4" width="11.3" height="34.1" fill="#566578" stroke="#000" stroke-width="1.1"/>
<rect x="1219.13" y="1395.47" width="11.3" height="33.03" fill="#b6b6b6" stroke="#000" stroke-width="1.1"/>
<rect x="1219.13" y="1396.27" width="11.3" height="32.23" fill="#9797bf" stroke="#000" stroke-width="1.1"/>
<rect x="1219.13" y="1400.13" width="11.3" height="28.37" fill="#ead65e" stroke="#000" stroke-width="1.1"/>
<rect x="1219.13" y="1403.46" width="11.3" height="25.04" fill="#f84144" stroke="#000" stroke-width="1.1"/>
<line x1="1243.31" y1="1428.5" x2="1243.31" y2="1437.5" stroke="#000" stroke-width="1.8"/>
<line x1="1252.58" y1="1428.5" x2="1252.58" y2="1433" stroke="#000" stroke-width="1.6"/>
<rect x="1237.66" y="1385.61" width="11.3" height="42.89" fill="#566578" stroke="#000" stroke-width="1.1"/>
<rect x="1237.66" y="1387.47" width="11.3" height="41.03" fill="#b6b6b6" stroke="#000" stroke-width="1.1"/>
<rect x="1237.66" y="1388.54" width="11.3" height="39.96" fill="#9797bf" stroke="#000" stroke-width="1.1"/>
<rect x="1237.66" y="1391.2" width="11.3" height="37.3" fill="#ead65e" stroke="#000" stroke-width="1.1"/>
<rect x="1237.66" y="1397.6" width="11.3" height="30.9" fill="#f84144" stroke="#000" stroke-width="1.1"/>
<line x1="1261.84" y1="1428.5" x2="1261.84" y2="1437.5" stroke="#000" stroke-width="1.8"/>
<line x1="1271.11" y1="1428.5" x2="1271.11" y2="1433" stroke="#000" stroke-width="1.6"/>
<rect x="1256.19" y="1389.47" width="11.3" height="39.03" fill="#566578" stroke="#000" stroke-width="1.1"/>
<rect x="1256.19" y="1391.2" width="11.3" height="37.3" fill="#b6b6b6" stroke="#000" stroke-width="1.1"/>
<rect x="1256.19" y="1392.14" width="11.3" height="36.36" fill="#9797bf" stroke="#000" stroke-width="1.1"/>
<rect x="1256.19" y="1394.4" width="11.3" height="34.1" fill="#ead65e" stroke="#000" stroke-width="1.1"/>
<rect x="1256.19" y="1401.99" width="11.3" height="26.51" fill="#f84144" stroke="#000" stroke-width="1.1"/>
<line x1="1280.37" y1="1428.5" x2="1280.37" y2="1437.5" stroke="#000" stroke-width="1.8"/>
<line x1="1289.63" y1="1428.5" x2="1289.63" y2="1433" stroke="#000" stroke-width="1.6"/>
<rect x="1274.72" y="1366.96" width="11.3" height="61.54" fill="#566578" stroke="#000" stroke-width="1.1"/>
<rect x="1274.72" y="1368.29" width="11.3" height="60.21" fill="#b6b6b6" stroke="#000" stroke-width="1.1"/>
<rect x="1274.72" y="1369.76" width="11.3" height="58.74" fill="#9797bf" stroke="#000" stroke-width="1.1"/>
<rect x="1274.72" y="1377.35" width="11.3" height="51.15" fill="#ead65e" stroke="#000" stroke-width="1.1"/>
<rect x="1274.72" y="1388.41" width="11.3" height="40.09" fill="#f84144" stroke="#000" stroke-width="1.1"/>
<line x1="1298.9" y1="1428.5" x2="1298.9" y2="1437.5" stroke="#000" stroke-width="1.8"/>
<line x1="1308.16" y1="1428.5" x2="1308.16" y2="1433" stroke="#000" stroke-width="1.6"/>
<rect x="1293.25" y="1340.06" width="11.3" height="88.44" fill="#566578" stroke="#000" stroke-width="1.1"/>
<rect x="1293.25" y="1341.65" width="11.3" height="86.85" fill="#b6b6b6" stroke="#000" stroke-width="1.1"/>
<rect x="1293.25" y="1343.92" width="11.3" height="84.58" fill="#9797bf" stroke="#000" stroke-width="1.1"/>
<rect x="1293.25" y="1357.37" width="11.3" height="71.13" fill="#ead65e" stroke="#000" stroke-width="1.1"/>
<rect x="1293.25" y="1374.55" width="11.3" height="53.95" fill="#f84144" stroke="#000" stroke-width="1.1"/>
<line x1="1317.43" y1="1428.5" x2="1317.43" y2="1437.5" stroke="#000" stroke-width="1.8"/>
<line x1="1326.69" y1="1428.5" x2="1326.69" y2="1433" stroke="#000" stroke-width="1.6"/>
<rect x="1311.78" y="1302.89" width="11.3" height="125.61" fill="#566578" stroke="#000" stroke-width="1.1"/>
<rect x="1311.78" y="1304.62" width="11.3" height="123.88" fill="#b6b6b6" stroke="#000" stroke-width="1.1"/>
<rect x="1311.78" y="1308.22" width="11.3" height="120.28" fill="#9797bf" stroke="#000" stroke-width="1.1"/>
<rect x="1311.78" y="1327.27" width="11.3" height="101.23" fill="#ead65e" stroke="#000" stroke-width="1.1"/>
<rect x="1311.78" y="1355.37" width="11.3" height="73.13" fill="#f84144" stroke="#000" stroke-width="1.1"/>
<line x1="1335.96" y1="1428.5" x2="1335.96" y2="1437.5" stroke="#000" stroke-width="1.8"/>
<line x1="1345.23" y1="1428.5" x2="1345.23" y2="1433" stroke="#000" stroke-width="1.6"/>
<rect x="1330.31" y="1281.31" width="11.3" height="147.19" fill="#566578" stroke="#000" stroke-width="1.1"/>
<rect x="1330.31" y="1283.98" width="11.3" height="144.52" fill="#b6b6b6" stroke="#000" stroke-width="1.1"/>
<rect x="1330.31" y="1288.24" width="11.3" height="140.26" fill="#9797bf" stroke="#000" stroke-width="1.1"/>
<rect x="1330.31" y="1313.55" width="11.3" height="114.95" fill="#ead65e" stroke="#000" stroke-width="1.1"/>
<rect x="1330.31" y="1346.18" width="11.3" height="82.32" fill="#f84144" stroke="#000" stroke-width="1.1"/>
<line x1="1354.49" y1="1428.5" x2="1354.49" y2="1437.5" stroke="#000" stroke-width="1.8"/>
<line x1="1363.76" y1="1428.5" x2="1363.76" y2="1433" stroke="#000" stroke-width="1.6"/>
<rect x="1348.84" y="1258.67" width="11.3" height="169.83" fill="#566578" stroke="#000" stroke-width="1.1"/>
<rect x="1348.84" y="1260.67" width="11.3" height="167.83" fill="#b6b6b6" stroke="#000" stroke-width="1.1"/>
<rect x="1348.84" y="1265.06" width="11.3" height="163.44" fill="#9797bf" stroke="#000" stroke-width="1.1"/>
<rect x="1348.84" y="1295.43" width="11.3" height="133.07" fill="#ead65e" stroke="#000" stroke-width="1.1"/>
<rect x="1348.84" y="1332.86" width="11.3" height="95.64" fill="#f84144" stroke="#000" stroke-width="1.1"/>
<line x1="1373.02" y1="1428.5" x2="1373.02" y2="1437.5" stroke="#000" stroke-width="1.8"/>
<line x1="1382.29" y1="1428.5" x2="1382.29" y2="1433" stroke="#000" stroke-width="1.6"/>
<rect x="1367.37" y="1274.25" width="11.3" height="154.25" fill="#566578" stroke="#000" stroke-width="1.1"/>
<rect x="1367.37" y="1276.25" width="11.3" height="152.25" fill="#b6b6b6" stroke="#000" stroke-width="1.1"/>
<rect x="1367.37" y="1280.12" width="11.3" height="148.38" fill="#9797bf" stroke="#000" stroke-width="1.1"/>
<rect x="1367.37" y="1305.96" width="11.3" height="122.54" fill="#ead65e" stroke="#000" stroke-width="1.1"/>
<rect x="1367.37" y="1338.86" width="11.3" height="89.64" fill="#f84144" stroke="#000" stroke-width="1.1"/>
<line x1="1391.55" y1="1428.5" x2="1391.55" y2="1437.5" stroke="#000" stroke-width="1.8"/>
<line x1="1400.82" y1="1428.5" x2="1400.82" y2="1433" stroke="#000" stroke-width="1.6"/>
<rect x="1385.9" y="1245.48" width="11.3" height="183.02" fill="#566578" stroke="#000" stroke-width="1.1"/>
<rect x="1385.9" y="1247.75" width="11.3" height="180.75" fill="#b6b6b6" stroke="#000" stroke-width="1.1"/>
<rect x="1385.9" y="1255.21" width="11.3" height="173.29" fill="#9797bf" stroke="#000" stroke-width="1.1"/>
<rect x="1385.9" y="1287.97" width="11.3" height="140.53" fill="#ead65e" stroke="#000" stroke-width="1.1"/>
<rect x="1385.9" y="1323.14" width="11.3" height="105.36" fill="#f84144" stroke="#000" stroke-width="1.1"/>
<line x1="1410.08" y1="1428.5" x2="1410.08" y2="1437.5" stroke="#000" stroke-width="1.8"/>
<line x1="1419.35" y1="1428.5" x2="1419.35" y2="1433" stroke="#000" stroke-width="1.6"/>
<rect x="1404.43" y="1208.45" width="11.3" height="220.05" fill="#566578" stroke="#000" stroke-width="1.1"/>
<rect x="1404.43" y="1211.52" width="11.3" height="216.98" fill="#b6b6b6" stroke="#000" stroke-width="1.1"/>
<rect x="1404.43" y="1221.37" width="11.3" height="207.13" fill="#9797bf" stroke="#000" stroke-width="1.1"/>
<rect x="1404.43" y="1264.4" width="11.3" height="164.1" fill="#ead65e" stroke="#000" stroke-width="1.1"/>
<rect x="1404.43" y="1306.36" width="11.3" height="122.14" fill="#f84144" stroke="#000" stroke-width="1.1"/>
<line x1="1428.61" y1="1428.5" x2="1428.61" y2="1437.5" stroke="#000" stroke-width="1.8"/>
<line x1="1437.88" y1="1428.5" x2="1437.88" y2="1433" stroke="#000" stroke-width="1.6"/>
<rect x="1422.96" y="1136.53" width="11.3" height="291.97" fill="#566578" stroke="#000" stroke-width="1.1"/>
<rect x="1422.96" y="1140.39" width="11.3" height="288.11" fill="#b6b6b6" stroke="#000" stroke-width="1.1"/>
<rect x="1422.96" y="1157.3" width="11.3" height="271.2" fill="#9797bf" stroke="#000" stroke-width="1.1"/>
<rect x="1422.96" y="1215.65" width="11.3" height="212.85" fill="#ead65e" stroke="#000" stroke-width="1.1"/>
<rect x="1422.96" y="1266.66" width="11.3" height="161.84" fill="#f84144" stroke="#000" stroke-width="1.1"/>
<line x1="1447.14" y1="1428.5" x2="1447.14" y2="1437.5" stroke="#000" stroke-width="1.8"/>
<line x1="1456.4" y1="1428.5" x2="1456.4" y2="1433" stroke="#000" stroke-width="1.6"/>
<rect x="1441.49" y="1159.57" width="11.3" height="268.93" fill="#566578" stroke="#000" stroke-width="1.1"/>
<rect x="1441.49" y="1163.03" width="11.3" height="265.47" fill="#b6b6b6" stroke="#000" stroke-width="1.1"/>
<rect x="1441.49" y="1178.48" width="11.3" height="250.02" fill="#9797bf" stroke="#000" stroke-width="1.1"/>
<rect x="1441.49" y="1234.56" width="11.3" height="193.94" fill="#ead65e" stroke="#000" stroke-width="1.1"/>
<rect x="1441.49" y="1278.25" width="11.3" height="150.25" fill="#f84144" stroke="#000" stroke-width="1.1"/>
<line x1="1465.67" y1="1428.5" x2="1465.67" y2="1437.5" stroke="#000" stroke-width="1.8"/>
<line x1="1474.94" y1="1428.5" x2="1474.94" y2="1433" stroke="#000" stroke-width="1.6"/>
<rect x="1460.02" y="1194.2" width="11.3" height="234.3" fill="#566578" stroke="#000" stroke-width="1.1"/>
<rect x="1460.02" y="1197.13" width="11.3" height="231.37" fill="#b6b6b6" stroke="#000" stroke-width="1.1"/>
<rect x="1460.02" y="1208.05" width="11.3" height="220.45" fill="#9797bf" stroke="#000" stroke-width="1.1"/>
<rect x="1460.02" y="1258.27" width="11.3" height="170.23" fill="#ead65e" stroke="#000" stroke-width="1.1"/>
<rect x="1460.02" y="1296.23" width="11.3" height="132.27" fill="#f84144" stroke="#000" stroke-width="1.1"/>
<line x1="1484.2" y1="1428.5" x2="1484.2" y2="1437.5" stroke="#000" stroke-width="1.8"/>
<line x1="1493.46" y1="1428.5" x2="1493.46" y2="1433" stroke="#000" stroke-width="1.6"/>
<rect x="1478.55" y="1248.81" width="11.3" height="179.69" fill="#566578" stroke="#000" stroke-width="1.1"/>
<rect x="1478.55" y="1251.74" width="11.3" height="176.76" fill="#b6b6b6" stroke="#000" stroke-width="1.1"/>
<rect x="1478.55" y="1259.34" width="11.3" height="169.16" fill="#9797bf" stroke="#000" stroke-width="1.1"/>
<rect x="1478.55" y="1300.1" width="11.3" height="128.4" fill="#ead65e" stroke="#000" stroke-width="1.1"/>
<rect x="1478.55" y="1326.2" width="11.3" height="102.3" fill="#f84144" stroke="#000" stroke-width="1.1"/>
<line x1="1502.73" y1="1428.5" x2="1502.73" y2="1437.5" stroke="#000" stroke-width="1.8"/>
<line x1="1512" y1="1428.5" x2="1512" y2="1433" stroke="#000" stroke-width="1.6"/>
<rect x="1497.08" y="1260.27" width="11.3" height="168.23" fill="#566578" stroke="#000" stroke-width="1.1"/>
<rect x="1497.08" y="1263.33" width="11.3" height="165.17" fill="#b6b6b6" stroke="#000" stroke-width="1.1"/>
<rect x="1497.08" y="1270.92" width="11.3" height="157.58" fill="#9797bf" stroke="#000" stroke-width="1.1"/>
<rect x="1497.08" y="1306.36" width="11.3" height="122.14" fill="#ead65e" stroke="#000" stroke-width="1.1"/>
<rect x="1497.08" y="1331.26" width="11.3" height="97.24" fill="#f84144" stroke="#000" stroke-width="1.1"/>
<line x1="1521.26" y1="1428.5" x2="1521.26" y2="1437.5" stroke="#000" stroke-width="1.8"/>
<line x1="1530.53" y1="1428.5" x2="1530.53" y2="1433" stroke="#000" stroke-width="1.6"/>
<rect x="1515.61" y="1292.5" width="11.3" height="136" fill="#566578" stroke="#000" stroke-width="1.1"/>
<rect x="1515.61" y="1296.1" width="11.3" height="132.4" fill="#b6b6b6" stroke="#000" stroke-width="1.1"/>
<rect x="1515.61" y="1302.49" width="11.3" height="126.01" fill="#9797bf" stroke="#000" stroke-width="1.1"/>
<rect x="1515.61" y="1331.26" width="11.3" height="97.24" fill="#ead65e" stroke="#000" stroke-width="1.1"/>
<rect x="1515.61" y="1349.25" width="11.3" height="79.25" fill="#f84144" stroke="#000" stroke-width="1.1"/>
<line x1="1539.79" y1="1428.5" x2="1539.79" y2="1437.5" stroke="#000" stroke-width="1.8"/>
<line x1="1549.06" y1="1428.5" x2="1549.06" y2="1433" stroke="#000" stroke-width="1.6"/>
<rect x="1534.14" y="1312.88" width="11.3" height="115.62" fill="#566578" stroke="#000" stroke-width="1.1"/>
<rect x="1534.14" y="1316.35" width="11.3" height="112.15" fill="#b6b6b6" stroke="#000" stroke-width="1.1"/>
<rect x="1534.14" y="1321.54" width="11.3" height="106.96" fill="#9797bf" stroke="#000" stroke-width="1.1"/>
<rect x="1534.14" y="1346.18" width="11.3" height="82.32" fill="#ead65e" stroke="#000" stroke-width="1.1"/>
<rect x="1534.14" y="1361.23" width="11.3" height="67.27" fill="#f84144" stroke="#000" stroke-width="1.1"/>
<line x1="1558.32" y1="1428.5" x2="1558.32" y2="1437.5" stroke="#000" stroke-width="1.8"/>
<line x1="1567.59" y1="1428.5" x2="1567.59" y2="1433" stroke="#000" stroke-width="1.6"/>
<rect x="1552.67" y="1324.74" width="11.3" height="103.76" fill="#566578" stroke="#000" stroke-width="1.1"/>
<rect x="1552.67" y="1328.6" width="11.3" height="99.9" fill="#b6b6b6" stroke="#000" stroke-width="1.1"/>
<rect x="1552.67" y="1332.46" width="11.3" height="96.04" fill="#9797bf" stroke="#000" stroke-width="1.1"/>
<rect x="1552.67" y="1353.64" width="11.3" height="74.86" fill="#ead65e" stroke="#000" stroke-width="1.1"/>
<rect x="1552.67" y="1367.36" width="11.3" height="61.14" fill="#f84144" stroke="#000" stroke-width="1.1"/>
<line x1="1576.85" y1="1428.5" x2="1576.85" y2="1437.5" stroke="#000" stroke-width="1.8"/>
<line x1="1586.12" y1="1428.5" x2="1586.12" y2="1433" stroke="#000" stroke-width="1.6"/>
<rect x="1571.2" y="1362.43" width="11.3" height="66.07" fill="#566578" stroke="#000" stroke-width="1.1"/>
<rect x="1571.2" y="1365.9" width="11.3" height="62.6" fill="#b6b6b6" stroke="#000" stroke-width="1.1"/>
<rect x="1571.2" y="1368.16" width="11.3" height="60.34" fill="#9797bf" stroke="#000" stroke-width="1.1"/>
<rect x="1571.2" y="1380.28" width="11.3" height="48.22" fill="#ead65e" stroke="#000" stroke-width="1.1"/>
<rect x="1571.2" y="1387.21" width="11.3" height="41.29" fill="#f84144" stroke="#000" stroke-width="1.1"/>
<line x1="1595.38" y1="1428.5" x2="1595.38" y2="1437.5" stroke="#000" stroke-width="1.8"/>
<line x1="1604.64" y1="1428.5" x2="1604.64" y2="1433" stroke="#000" stroke-width="1.6"/>
<rect x="1589.73" y="1367.76" width="11.3" height="60.74" fill="#566578" stroke="#000" stroke-width="1.1"/>
<rect x="1589.73" y="1371.22" width="11.3" height="57.28" fill="#b6b6b6" stroke="#000" stroke-width="1.1"/>
<rect x="1589.73" y="1373.36" width="11.3" height="55.14" fill="#9797bf" stroke="#000" stroke-width="1.1"/>
<rect x="1589.73" y="1384.68" width="11.3" height="43.82" fill="#ead65e" stroke="#000" stroke-width="1.1"/>
<rect x="1589.73" y="1391.2" width="11.3" height="37.3" fill="#f84144" stroke="#000" stroke-width="1.1"/>
<line x1="1613.91" y1="1428.5" x2="1613.91" y2="1437.5" stroke="#000" stroke-width="1.8"/>
<line x1="1623.17" y1="1428.5" x2="1623.17" y2="1433" stroke="#000" stroke-width="1.6"/>
<rect x="1608.26" y="1383.74" width="11.3" height="44.76" fill="#566578" stroke="#000" stroke-width="1.1"/>
<rect x="1608.26" y="1387.87" width="11.3" height="40.63" fill="#b6b6b6" stroke="#000" stroke-width="1.1"/>
<rect x="1608.26" y="1389.47" width="11.3" height="39.03" fill="#9797bf" stroke="#000" stroke-width="1.1"/>
<rect x="1608.26" y="1396.4" width="11.3" height="32.1" fill="#ead65e" stroke="#000" stroke-width="1.1"/>
<rect x="1608.26" y="1399.2" width="11.3" height="29.3" fill="#f84144" stroke="#000" stroke-width="1.1"/>
<line x1="1632.44" y1="1428.5" x2="1632.44" y2="1437.5" stroke="#000" stroke-width="1.8"/>
<line x1="1641.71" y1="1428.5" x2="1641.71" y2="1433" stroke="#000" stroke-width="1.6"/>
<rect x="1626.79" y="1393.47" width="11.3" height="35.03" fill="#566578" stroke="#000" stroke-width="1.1"/>
<rect x="1626.79" y="1395.87" width="11.3" height="32.63" fill="#b6b6b6" stroke="#000" stroke-width="1.1"/>
<rect x="1626.79" y="1396.93" width="11.3" height="31.57" fill="#9797bf" stroke="#000" stroke-width="1.1"/>
<rect x="1626.79" y="1403.19" width="11.3" height="25.31" fill="#ead65e" stroke="#000" stroke-width="1.1"/>
<rect x="1626.79" y="1405.46" width="11.3" height="23.04" fill="#f84144" stroke="#000" stroke-width="1.1"/>
<line x1="1650.97" y1="1428.5" x2="1650.97" y2="1437.5" stroke="#000" stroke-width="1.8"/>
<line x1="1660.23" y1="1428.5" x2="1660.23" y2="1433" stroke="#000" stroke-width="1.6"/>
<rect x="1645.32" y="1386.14" width="11.3" height="42.36" fill="#566578" stroke="#000" stroke-width="1.1"/>
<rect x="1645.32" y="1388.54" width="11.3" height="39.96" fill="#b6b6b6" stroke="#000" stroke-width="1.1"/>
<rect x="1645.32" y="1390.01" width="11.3" height="38.49" fill="#9797bf" stroke="#000" stroke-width="1.1"/>
<rect x="1645.32" y="1397.6" width="11.3" height="30.9" fill="#ead65e" stroke="#000" stroke-width="1.1"/>
<rect x="1645.32" y="1401.06" width="11.3" height="27.44" fill="#f84144" stroke="#000" stroke-width="1.1"/>
<line x1="1669.5" y1="1428.5" x2="1669.5" y2="1437.5" stroke="#000" stroke-width="1.8"/>
<line x1="1678.77" y1="1428.5" x2="1678.77" y2="1433" stroke="#000" stroke-width="1.6"/>
<rect x="1663.85" y="1396.4" width="11.3" height="32.1" fill="#566578" stroke="#000" stroke-width="1.1"/>
<rect x="1663.85" y="1399.86" width="11.3" height="28.64" fill="#b6b6b6" stroke="#000" stroke-width="1.1"/>
<rect x="1663.85" y="1401.19" width="11.3" height="27.31" fill="#9797bf" stroke="#000" stroke-width="1.1"/>
<rect x="1663.85" y="1405.06" width="11.3" height="23.44" fill="#ead65e" stroke="#000" stroke-width="1.1"/>
<rect x="1663.85" y="1407.72" width="11.3" height="20.78" fill="#f84144" stroke="#000" stroke-width="1.1"/>
<line x1="1688.03" y1="1428.5" x2="1688.03" y2="1437.5" stroke="#000" stroke-width="1.8"/>
<line x1="1697.3" y1="1428.5" x2="1697.3" y2="1433" stroke="#000" stroke-width="1.6"/>
<rect x="1682.38" y="1399.06" width="11.3" height="29.44" fill="#566578" stroke="#000" stroke-width="1.1"/>
<rect x="1682.38" y="1401.19" width="11.3" height="27.31" fill="#b6b6b6" stroke="#000" stroke-width="1.1"/>
<rect x="1682.38" y="1402.39" width="11.3" height="26.11" fill="#9797bf" stroke="#000" stroke-width="1.1"/>
<rect x="1682.38" y="1407.19" width="11.3" height="21.31" fill="#ead65e" stroke="#000" stroke-width="1.1"/>
<rect x="1682.38" y="1409.45" width="11.3" height="19.05" fill="#f84144" stroke="#000" stroke-width="1.1"/>
<line x1="1706.56" y1="1428.5" x2="1706.56" y2="1437.5" stroke="#000" stroke-width="1.8"/>
<line x1="1715.83" y1="1428.5" x2="1715.83" y2="1433" stroke="#000" stroke-width="1.6"/>
<rect x="1700.91" y="1409.99" width="11.3" height="18.51" fill="#566578" stroke="#000" stroke-width="1.1"/>
<rect x="1700.91" y="1411.85" width="11.3" height="16.65" fill="#b6b6b6" stroke="#000" stroke-width="1.1"/>
<rect x="1700.91" y="1412.52" width="11.3" height="15.98" fill="#9797bf" stroke="#000" stroke-width="1.1"/>
<rect x="1700.91" y="1415.18" width="11.3" height="13.32" fill="#ead65e" stroke="#000" stroke-width="1.1"/>
<rect x="1700.91" y="1415.58" width="11.3" height="12.92" fill="#f84144" stroke="#000" stroke-width="1.1"/>
<line x1="1725.09" y1="1428.5" x2="1725.09" y2="1437.5" stroke="#000" stroke-width="1.8"/>
<line x1="1734.36" y1="1428.5" x2="1734.36" y2="1433" stroke="#000" stroke-width="1.6"/>
<rect x="1719.44" y="1414.38" width="11.3" height="14.12" fill="#566578" stroke="#000" stroke-width="1.1"/>
<rect x="1719.44" y="1415.85" width="11.3" height="12.65" fill="#b6b6b6" stroke="#000" stroke-width="1.1"/>
<rect x="1719.44" y="1416.51" width="11.3" height="11.99" fill="#9797bf" stroke="#000" stroke-width="1.1"/>
<rect x="1719.44" y="1417.58" width="11.3" height="10.92" fill="#ead65e" stroke="#000" stroke-width="1.1"/>
<rect x="1719.44" y="1417.84" width="11.3" height="10.66" fill="#f84144" stroke="#000" stroke-width="1.1"/>
<line x1="1743.62" y1="1428.5" x2="1743.62" y2="1437.5" stroke="#000" stroke-width="1.8"/>
<line x1="1752.88" y1="1428.5" x2="1752.88" y2="1433" stroke="#000" stroke-width="1.6"/>
<rect x="1737.97" y="1414.38" width="11.3" height="14.12" fill="#566578" stroke="#000" stroke-width="1.1"/>
<rect x="1737.97" y="1415.85" width="11.3" height="12.65" fill="#b6b6b6" stroke="#000" stroke-width="1.1"/>
<rect x="1737.97" y="1416.51" width="11.3" height="11.99" fill="#9797bf" stroke="#000" stroke-width="1.1"/>
<rect x="1737.97" y="1417.58" width="11.3" height="10.92" fill="#ead65e" stroke="#000" stroke-width="1.1"/>
<rect x="1737.97" y="1417.84" width="11.3" height="10.66" fill="#f84144" stroke="#000" stroke-width="1.1"/>
<line x1="1762.15" y1="1428.5" x2="1762.15" y2="1437.5" stroke="#000" stroke-width="1.8"/>
<line x1="1771.42" y1="1428.5" x2="1771.42" y2="1433" stroke="#000" stroke-width="1.6"/>
<rect x="1756.5" y="1414.38" width="11.3" height="14.12" fill="#566578" stroke="#000" stroke-width="1.1"/>
<rect x="1756.5" y="1415.85" width="11.3" height="12.65" fill="#b6b6b6" stroke="#000" stroke-width="1.1"/>
<rect x="1756.5" y="1416.51" width="11.3" height="11.99" fill="#9797bf" stroke="#000" stroke-width="1.1"/>
<rect x="1756.5" y="1417.58" width="11.3" height="10.92" fill="#ead65e" stroke="#000" stroke-width="1.1"/>
<rect x="1756.5" y="1417.84" width="11.3" height="10.66" fill="#f84144" stroke="#000" stroke-width="1.1"/>
<line x1="1780.68" y1="1428.5" x2="1780.68" y2="1437.5" stroke="#000" stroke-width="1.8"/>
<line x1="1789.94" y1="1428.5" x2="1789.94" y2="1433" stroke="#000" stroke-width="1.6"/>
<rect x="1775.03" y="1417.84" width="11.3" height="10.66" fill="#566578" stroke="#000" stroke-width="1.1"/>
<rect x="1775.03" y="1419.04" width="11.3" height="9.46" fill="#b6b6b6" stroke="#000" stroke-width="1.1"/>
<rect x="1775.03" y="1419.44" width="11.3" height="9.06" fill="#9797bf" stroke="#000" stroke-width="1.1"/>
<rect x="1775.03" y="1420.11" width="11.3" height="8.39" fill="#ead65e" stroke="#000" stroke-width="1.1"/>
<rect x="1775.03" y="1420.24" width="11.3" height="8.26" fill="#f84144" stroke="#000" stroke-width="1.1"/>
<line x1="1799.21" y1="1428.5" x2="1799.21" y2="1437.5" stroke="#000" stroke-width="1.8"/>
<line x1="1808.48" y1="1428.5" x2="1808.48" y2="1433" stroke="#000" stroke-width="1.6"/>
<rect x="1793.56" y="1419.04" width="11.3" height="9.46" fill="#566578" stroke="#000" stroke-width="1.1"/>
<rect x="1793.56" y="1419.98" width="11.3" height="8.52" fill="#b6b6b6" stroke="#000" stroke-width="1.1"/>
<rect x="1793.56" y="1420.24" width="11.3" height="8.26" fill="#9797bf" stroke="#000" stroke-width="1.1"/>
<rect x="1793.56" y="1420.64" width="11.3" height="7.86" fill="#ead65e" stroke="#000" stroke-width="1.1"/>
<rect x="1793.56" y="1420.77" width="11.3" height="7.73" fill="#f84144" stroke="#000" stroke-width="1.1"/>
<line x1="1817.74" y1="1428.5" x2="1817.74" y2="1437.5" stroke="#000" stroke-width="1.8"/>
<line x1="1827.01" y1="1428.5" x2="1827.01" y2="1433" stroke="#000" stroke-width="1.6"/>
<rect x="1812.09" y="1419.31" width="11.3" height="9.19" fill="#566578" stroke="#000" stroke-width="1.1"/>
<rect x="1812.09" y="1420.24" width="11.3" height="8.26" fill="#b6b6b6" stroke="#000" stroke-width="1.1"/>
<rect x="1812.09" y="1420.51" width="11.3" height="7.99" fill="#9797bf" stroke="#000" stroke-width="1.1"/>
<rect x="1812.09" y="1421.04" width="11.3" height="7.46" fill="#ead65e" stroke="#000" stroke-width="1.1"/>
<rect x="1812.09" y="1421.17" width="11.3" height="7.33" fill="#f84144" stroke="#000" stroke-width="1.1"/>
<line x1="1836.27" y1="1428.5" x2="1836.27" y2="1437.5" stroke="#000" stroke-width="1.8"/>
<line x1="1845.54" y1="1428.5" x2="1845.54" y2="1433" stroke="#000" stroke-width="1.6"/>
<rect x="1830.62" y="1420.51" width="11.3" height="7.99" fill="#566578" stroke="#000" stroke-width="1.1"/>
<rect x="1830.62" y="1421.17" width="11.3" height="7.33" fill="#b6b6b6" stroke="#000" stroke-width="1.1"/>
<rect x="1830.62" y="1421.44" width="11.3" height="7.06" fill="#9797bf" stroke="#000" stroke-width="1.1"/>
<rect x="1830.62" y="1421.84" width="11.3" height="6.66" fill="#ead65e" stroke="#000" stroke-width="1.1"/>
<rect x="1830.62" y="1421.97" width="11.3" height="6.53" fill="#f84144" stroke="#000" stroke-width="1.1"/>
<line x1="1854.8" y1="1428.5" x2="1854.8" y2="1437.5" stroke="#000" stroke-width="1.8"/>
<line x1="1864.07" y1="1428.5" x2="1864.07" y2="1433" stroke="#000" stroke-width="1.6"/>
<rect x="1849.15" y="1418.78" width="11.3" height="9.72" fill="#566578" stroke="#000" stroke-width="1.1"/>
<rect x="1849.15" y="1419.44" width="11.3" height="9.06" fill="#b6b6b6" stroke="#000" stroke-width="1.1"/>
<rect x="1849.15" y="1419.71" width="11.3" height="8.79" fill="#9797bf" stroke="#000" stroke-width="1.1"/>
<rect x="1849.15" y="1420.11" width="11.3" height="8.39" fill="#ead65e" stroke="#000" stroke-width="1.1"/>
<rect x="1849.15" y="1420.24" width="11.3" height="8.26" fill="#f84144" stroke="#000" stroke-width="1.1"/>
<line x1="1873.33" y1="1428.5" x2="1873.33" y2="1437.5" stroke="#000" stroke-width="1.8"/>
<line x1="1882.6" y1="1428.5" x2="1882.6" y2="1433" stroke="#000" stroke-width="1.6"/>
<rect x="1867.68" y="1420.51" width="11.3" height="7.99" fill="#566578" stroke="#000" stroke-width="1.1"/>
<rect x="1867.68" y="1421.17" width="11.3" height="7.33" fill="#b6b6b6" stroke="#000" stroke-width="1.1"/>
<rect x="1867.68" y="1421.44" width="11.3" height="7.06" fill="#9797bf" stroke="#000" stroke-width="1.1"/>
<rect x="1867.68" y="1421.84" width="11.3" height="6.66" fill="#ead65e" stroke="#000" stroke-width="1.1"/>
<rect x="1867.68" y="1421.97" width="11.3" height="6.53" fill="#f84144" stroke="#000" stroke-width="1.1"/>
<line x1="1891.86" y1="1428.5" x2="1891.86" y2="1437.5" stroke="#000" stroke-width="1.8"/>
<line x1="1901.12" y1="1428.5" x2="1901.12" y2="1433" stroke="#000" stroke-width="1.6"/>
<rect x="1886.21" y="1420.91" width="11.3" height="7.59" fill="#566578" stroke="#000" stroke-width="1.1"/>
<rect x="1886.21" y="1421.44" width="11.3" height="7.06" fill="#b6b6b6" stroke="#000" stroke-width="1.1"/>
<rect x="1886.21" y="1421.71" width="11.3" height="6.79" fill="#9797bf" stroke="#000" stroke-width="1.1"/>
<rect x="1886.21" y="1421.97" width="11.3" height="6.53" fill="#ead65e" stroke="#000" stroke-width="1.1"/>
<rect x="1886.21" y="1422.11" width="11.3" height="6.39" fill="#f84144" stroke="#000" stroke-width="1.1"/>
<line x1="1910.39" y1="1428.5" x2="1910.39" y2="1437.5" stroke="#000" stroke-width="1.8"/>
<line x1="1919.65" y1="1428.5" x2="1919.65" y2="1433" stroke="#000" stroke-width="1.6"/>
<rect x="1904.74" y="1420.51" width="11.3" height="7.99" fill="#566578" stroke="#000" stroke-width="1.1"/>
<rect x="1904.74" y="1421.04" width="11.3" height="7.46" fill="#b6b6b6" stroke="#000" stroke-width="1.1"/>
<rect x="1904.74" y="1421.31" width="11.3" height="7.19" fill="#9797bf" stroke="#000" stroke-width="1.1"/>
<rect x="1904.74" y="1421.71" width="11.3" height="6.79" fill="#ead65e" stroke="#000" stroke-width="1.1"/>
<rect x="1904.74" y="1421.84" width="11.3" height="6.66" fill="#f84144" stroke="#000" stroke-width="1.1"/>
<line x1="1928.92" y1="1428.5" x2="1928.92" y2="1437.5" stroke="#000" stroke-width="1.8"/>
<line x1="1938.19" y1="1428.5" x2="1938.19" y2="1433" stroke="#000" stroke-width="1.6"/>
<rect x="1923.27" y="1421.44" width="11.3" height="7.06" fill="#566578" stroke="#000" stroke-width="1.1"/>
<rect x="1923.27" y="1421.84" width="11.3" height="6.66" fill="#b6b6b6" stroke="#000" stroke-width="1.1"/>
<rect x="1923.27" y="1421.97" width="11.3" height="6.53" fill="#9797bf" stroke="#000" stroke-width="1.1"/>
<rect x="1923.27" y="1422.24" width="11.3" height="6.26" fill="#ead65e" stroke="#000" stroke-width="1.1"/>
<rect x="1923.27" y="1422.37" width="11.3" height="6.13" fill="#f84144" stroke="#000" stroke-width="1.1"/>
<line x1="1947.45" y1="1428.5" x2="1947.45" y2="1437.5" stroke="#000" stroke-width="1.8"/>
<line x1="1956.71" y1="1428.5" x2="1956.71" y2="1433" stroke="#000" stroke-width="1.6"/>
<rect x="1941.8" y="1420.91" width="11.3" height="7.59" fill="#566578" stroke="#000" stroke-width="1.1"/>
<rect x="1941.8" y="1421.17" width="11.3" height="7.33" fill="#b6b6b6" stroke="#000" stroke-width="1.1"/>
<rect x="1941.8" y="1421.44" width="11.3" height="7.06" fill="#9797bf" stroke="#000" stroke-width="1.1"/>
<rect x="1941.8" y="1421.71" width="11.3" height="6.79" fill="#ead65e" stroke="#000" stroke-width="1.1"/>
<rect x="1941.8" y="1421.84" width="11.3" height="6.66" fill="#f84144" stroke="#000" stroke-width="1.1"/>
<line x1="1965.98" y1="1428.5" x2="1965.98" y2="1437.5" stroke="#000" stroke-width="1.8"/>
<line x1="1975.25" y1="1428.5" x2="1975.25" y2="1433" stroke="#000" stroke-width="1.6"/>
<rect x="1960.33" y="1421.44" width="11.3" height="7.06" fill="#566578" stroke="#000" stroke-width="1.1"/>
<rect x="1960.33" y="1421.97" width="11.3" height="6.53" fill="#b6b6b6" stroke="#000" stroke-width="1.1"/>
<rect x="1960.33" y="1422.24" width="11.3" height="6.26" fill="#9797bf" stroke="#000" stroke-width="1.1"/>
<rect x="1960.33" y="1422.51" width="11.3" height="5.99" fill="#ead65e" stroke="#000" stroke-width="1.1"/>
<rect x="1960.33" y="1422.64" width="11.3" height="5.86" fill="#f84144" stroke="#000" stroke-width="1.1"/>
<line x1="1984.51" y1="1428.5" x2="1984.51" y2="1437.5" stroke="#000" stroke-width="1.8"/>
<line x1="1993.78" y1="1428.5" x2="1993.78" y2="1433" stroke="#000" stroke-width="1.6"/>
<rect x="1978.86" y="1424.37" width="11.3" height="4.13" fill="#566578" stroke="#000" stroke-width="1.1"/>
<rect x="1978.86" y="1424.5" width="11.3" height="4" fill="#b6b6b6" stroke="#000" stroke-width="1.1"/>
<rect x="1978.86" y="1424.64" width="11.3" height="3.86" fill="#9797bf" stroke="#000" stroke-width="1.1"/>
<rect x="1978.86" y="1424.77" width="11.3" height="3.73" fill="#ead65e" stroke="#000" stroke-width="1.1"/>
<rect x="1978.86" y="1424.9" width="11.3" height="3.6" fill="#f84144" stroke="#000" stroke-width="1.1"/>
<rect x="1665.3" y="1148.4" width="37.2" height="18.2" fill="#ebcd45" stroke="#000" stroke-width="1.2"/>
<text x="1708.3" y="1163.4" font-size="16.9" fill="#e5c83a" font-family="Liberation Sans, Arial, sans-serif">Influenza A - H5</text>
<rect x="1665.3" y="1169.84" width="37.2" height="18.2" fill="#d96f77" stroke="#000" stroke-width="1.2"/>
<text x="1708.3" y="1184.84" font-size="16.9" fill="#d75f6b" font-family="Liberation Sans, Arial, sans-serif">Influenza B - Yamagata lineage</text>
<rect x="1665.3" y="1191.28" width="37.2" height="18.2" fill="#b8aba1" stroke="#000" stroke-width="1.2"/>
<text x="1708.3" y="1206.28" font-size="16.9" fill="#ada196" font-family="Liberation Sans, Arial, sans-serif">Influenza B - Victoria lineage</text>
<rect x="1665.3" y="1212.72" width="37.2" height="18.2" fill="#80ffff" stroke="#000" stroke-width="1.2"/>
<text x="1708.3" y="1227.72" font-size="16.9" fill="#5ef2f5" font-family="Liberation Sans, Arial, sans-serif">Influenza A - H3N2v</text>
<rect x="1665.3" y="1234.16" width="37.2" height="18.2" fill="#90b8e0" stroke="#000" stroke-width="1.2"/>
<text x="1708.3" y="1249.16" font-size="16.9" fill="#86b0dc" font-family="Liberation Sans, Arial, sans-serif">Influenza B - Lineage not performed</text>
<rect x="1665.3" y="1255.6" width="37.2" height="18.2" fill="#b6b6b6" stroke="#000" stroke-width="1.2"/>
<text x="1708.3" y="1270.6" font-size="16.9" fill="#aeaeae" font-family="Liberation Sans, Arial, sans-serif">Influenza A - Subtyping not performed</text>
<rect x="1665.3" y="1277.04" width="37.2" height="18.2" fill="#9494bf" stroke="#000" stroke-width="1.2"/>
<text x="1708.3" y="1292.04" font-size="16.9" fill="#8787b9" font-family="Liberation Sans, Arial, sans-serif">Influenza A - (H1N1)pdm09</text>
<rect x="1665.3" y="1298.48" width="37.2" height="18.2" fill="#ead65e" stroke="#000" stroke-width="1.2"/>
<text x="1708.3" y="1313.48" font-size="16.9" fill="#e2cf4c" font-family="Liberation Sans, Arial, sans-serif">Influenza A - H3N2</text>
<rect x="1665.3" y="1319.92" width="37.2" height="18.2" fill="#f84144" stroke="#000" stroke-width="1.2"/>
<text x="1708.3" y="1334.92" font-size="16.9" fill="#ee2f3c" font-family="Liberation Sans, Arial, sans-serif">TOTAL SPECIMENS</text>
<text transform="translate(1043.6,1257.5) rotate(-90)" font-size="25.9" fill="#000" text-anchor="middle" font-family="Liberation Sans, Arial, sans-serif"># of Positive Specimens</text>
<text transform="translate(1184.65,1457.95) scale(1,1.03) rotate(-45)" font-size="17.5" fill="#000" text-anchor="end" font-family="Liberation Sans, Arial, sans-serif">October 2024</text>
<text transform="translate(1254.85,1457.95) scale(1,1.03) rotate(-45)" font-size="17.5" fill="#000" text-anchor="end" font-family="Liberation Sans, Arial, sans-serif">November 2024</text>
<text transform="translate(1329.85,1450.55) scale(1,1.03) rotate(-45)" font-size="17.5" fill="#000" text-anchor="end" font-family="Liberation Sans, Arial, sans-serif">December 2024</text>
<text transform="translate(1405.25,1457.30) scale(1,1.03) rotate(-45)" font-size="17.5" fill="#000" text-anchor="end" font-family="Liberation Sans, Arial, sans-serif">January 2025</text>
<text transform="translate(1475.45,1454.00) scale(1,1.03) rotate(-45)" font-size="17.5" fill="#000" text-anchor="end" font-family="Liberation Sans, Arial, sans-serif">February 2025</text>
<text transform="translate(1550.45,1456.45) scale(1,1.03) rotate(-45)" font-size="17.5" fill="#000" text-anchor="end" font-family="Liberation Sans, Arial, sans-serif">March 2025</text>
<text transform="translate(1622.25,1459.75) scale(1,1.03) rotate(-45)" font-size="17.5" fill="#000" text-anchor="end" font-family="Liberation Sans, Arial, sans-serif">April 2025</text>
<text transform="translate(1696.55,1455.65) scale(1,1.03) rotate(-45)" font-size="17.5" fill="#000" text-anchor="end" font-family="Liberation Sans, Arial, sans-serif">May 2025</text>
<text transform="translate(1769.25,1453.05) scale(1,1.03) rotate(-45)" font-size="17.5" fill="#000" text-anchor="end" font-family="Liberation Sans, Arial, sans-serif">June 2025</text>
<text transform="translate(1846.35,1454.85) scale(1,1.03) rotate(-45)" font-size="17.5" fill="#000" text-anchor="end" font-family="Liberation Sans, Arial, sans-serif">July 2025</text>
<text transform="translate(1917.15,1452.95) scale(1,1.03) rotate(-45)" font-size="17.5" fill="#000" text-anchor="end" font-family="Liberation Sans, Arial, sans-serif">August 2025</text>
<text transform="translate(1990.05,1449.05) scale(1,1.03) rotate(-45)" font-size="17.5" fill="#000" text-anchor="end" font-family="Liberation Sans, Arial, sans-serif">September 2025</text>
<g>
<polygon points="103.8,544.8 102.5,537.1 103.8,530.6 101.5,521.8 97.0,510.6 93.2,502.8 93.0,497.6 99.2,500.5 109.8,502.8 117.2,503.5 122.5,503.9 120.2,515.1 125.5,525.1 128.5,519.5 127.8,508.4 126.2,498.3 122.5,483.5 208.1,483.5 208.1,541.1 210.0,550.2 178.8,550.2 169.8,551.9 154.8,555.5 145.8,557.7 129.2,559.8 122.5,557.7 120.2,548.0 115.8,546.9 109.8,544.8 103.8,544.8" fill="#b5e3b2" stroke="#b0b0b0" stroke-width="1"/>
<polygon points="210.0,550.2 178.8,550.2 169.8,551.9 154.8,555.5 145.8,557.7 129.2,559.8 122.5,557.7 120.2,548.0 115.8,546.9 109.8,544.8 103.8,544.8 104.5,560.9 103.0,580.0 102.2,598.8 97.8,613.3 95.5,617.4 100.8,633.6 163.8,633.6 208.3,633.6 208.3,599.3 209.2,591.6 205.8,586.3 205.8,583.2 211.0,571.6 213.2,566.3 216.5,558.8 210.0,550.2" fill="#bde8ba" stroke="#b0b0b0" stroke-width="1"/>
<polygon points="100.8,633.6 102.2,645.7 103.0,653.7 97.8,664.7 102.2,671.4 106.8,677.3 107.5,692.8 112.0,700.5 118.8,706.3 119.5,712.0 126.2,715.8 126.2,721.5 127.8,727.1 133.8,731.8 136.8,734.6 134.5,738.4 135.2,744.0 141.2,750.5 144.2,755.1 150.2,759.7 154.0,766.1 154.3,775.3 157.0,778.0 163.8,778.0 169.8,778.9 175.8,783.5 181.8,785.8 186.2,785.6 187.8,789.8 192.2,790.7 195.2,793.4 202.8,800.6 205.0,806.8 206.9,812.6 243.0,809.2 246.2,804.2 243.2,797.0 246.2,788.0 247.8,780.7 244.8,771.6 244.3,768.0 163.8,692.8 163.8,633.6 100.8,633.6" fill="#408d33" stroke="#b0b0b0" stroke-width="1"/>
<polygon points="163.8,633.6 163.8,692.8 244.3,768.0 244.8,758.8 243.2,749.6 247.8,747.7 253.0,745.8 253.0,730.9 253.0,633.6 208.3,633.6 163.8,633.6" fill="#c4ecc1" stroke="#b0b0b0" stroke-width="1"/>
<polygon points="208.1,483.5 223.0,483.5 223.0,506.2 228.0,519.1 233.8,522.6 239.5,529.9 244.8,536.3 248.5,539.3 246.2,548.0 246.2,556.6 256.0,559.8 262.0,570.5 268.8,583.2 271.0,584.6 277.8,583.2 286.0,581.7 292.0,578.8 298.0,582.1 298.0,633.6 253.0,633.6 208.3,633.6 208.3,599.3 209.2,591.6 205.8,586.3 205.8,583.2 211.0,571.6 213.2,566.3 216.5,558.8 210.0,550.2 208.1,541.1 208.1,483.5" fill="#c4ecc1" stroke="#b0b0b0" stroke-width="1"/>
<polygon points="223.0,483.5 403.0,483.5 403.0,551.7 403.0,571.6 298.0,571.6 298.0,582.1 292.0,578.8 286.0,581.7 277.8,583.2 271.0,584.6 268.8,583.2 262.0,570.5 256.0,559.8 246.2,556.6 246.2,548.0 248.5,539.3 244.8,536.3 239.5,529.9 233.8,522.6 228.0,519.1 223.0,506.2 223.0,483.5" fill="#c4ecc1" stroke="#b0b0b0" stroke-width="1"/>
<polygon points="298.0,582.1 298.0,571.6 403.0,571.6 403.0,613.3 403.0,653.7 328.0,653.7 298.0,653.7 298.0,633.6 298.0,582.1" fill="#c4ecc1" stroke="#b0b0b0" stroke-width="1"/>
<polygon points="298.0,633.6 298.0,653.7 328.0,653.7 328.0,730.9 253.0,730.9 253.0,633.6 298.0,633.6" fill="#a9dca5" stroke="#b0b0b0" stroke-width="1"/>
<polygon points="328.0,653.7 403.0,653.7 433.0,653.7 433.0,673.4 433.0,730.9 418.8,730.9 328.0,730.9 328.0,653.7" fill="#88c684" stroke="#b0b0b0" stroke-width="1"/>
<polygon points="253.0,730.9 328.0,730.9 328.0,833.8 297.7,833.8 241.5,813.3 243.0,809.2 246.2,804.2 243.2,797.0 246.2,788.0 247.8,780.7 244.8,771.6 244.3,768.0 244.8,758.8 243.2,749.6 247.8,747.7 253.0,745.8 253.0,730.9" fill="#9dd69a" stroke="#b0b0b0" stroke-width="1"/>
<polygon points="328.0,730.9 418.8,730.9 418.8,740.3 417.8,822.0 364.4,822.0 365.8,825.8 340.8,825.8 340.8,833.8 328.0,833.8 328.0,730.9" fill="#c4ecc1" stroke="#b0b0b0" stroke-width="1"/>
<polygon points="403.0,483.5 505.3,483.5 506.5,494.9 508.8,506.2 511.0,517.3 511.8,528.4 514.8,543.7 515.3,551.7 403.0,551.7 403.0,483.5" fill="#c1eabe" stroke="#b0b0b0" stroke-width="1"/>
<polygon points="403.0,551.7 515.3,551.7 517.0,565.2 517.0,603.0 514.8,611.2 517.0,623.5 508.8,618.0 495.2,617.4 486.2,613.3 403.0,613.3 403.0,571.6 403.0,551.7" fill="#98d295" stroke="#b0b0b0" stroke-width="1"/>
<polygon points="403.0,613.3 486.2,613.3 495.2,617.4 508.8,618.0 517.0,623.5 520.8,631.6 524.5,647.7 526.0,655.6 527.2,662.0 534.2,673.4 433.0,673.4 433.0,653.7 403.0,653.7 403.0,613.3" fill="#98d295" stroke="#b0b0b0" stroke-width="1"/>
<polygon points="534.2,673.4 539.5,676.3 544.8,690.9 544.4,730.9 433.0,730.9 433.0,673.4 534.2,673.4" fill="#b8e5b4" stroke="#b0b0b0" stroke-width="1"/>
<polygon points="433.0,730.9 544.4,730.9 544.4,740.3 547.3,760.6 546.5,792.7 535.8,787.4 526.8,788.9 517.8,790.7 510.2,788.0 505.8,789.8 499.8,787.1 493.8,786.2 486.2,783.5 475.8,780.7 469.8,778.9 463.8,776.0 463.8,740.3 418.8,740.3 418.8,730.9 433.0,730.9" fill="#c4ecc1" stroke="#b0b0b0" stroke-width="1"/>
<polygon points="546.5,792.7 535.8,787.4 526.8,788.9 517.8,790.7 510.2,788.0 505.8,789.8 499.8,787.1 493.8,786.2 486.2,783.5 475.8,780.7 469.8,778.9 463.8,776.0 463.8,740.3 418.8,740.3 417.8,822.0 364.4,822.0 365.8,825.8 370.8,830.8 379.8,837.8 388.8,844.8 393.2,853.5 397.8,863.9 411.2,871.6 417.2,874.5 423.2,862.1 427.8,860.4 442.8,860.9 450.2,867.3 459.2,886.2 471.2,899.7 477.2,916.6 490.8,923.9 501.2,926.9 506.5,925.8 503.5,916.6 502.8,904.8 505.8,897.2 511.8,889.6 520.8,882.7 534.2,875.9 541.8,869.0 546.2,864.7 556.0,862.1 557.5,857.0 558.2,850.0 560.5,839.5 556.8,830.8 553.1,822.1 553.1,803.8 553.1,794.3 546.5,792.7" fill="#b7e4b3" stroke="#b0b0b0" stroke-width="1"/>
<polygon points="505.3,483.5 536.5,483.5 536.5,474.8 541.3,476.2 543.5,488.8 553.8,491.5 562.8,492.6 574.8,496.0 583.8,498.3 592.8,505.0 601.8,501.7 613.8,503.9 619.8,506.4 604.8,514.0 591.2,526.2 582.2,533.9 579.2,536.0 579.4,548.0 571.8,558.8 572.5,569.4 571.8,576.9 579.2,581.1 585.2,588.4 592.8,595.7 595.5,603.0 517.0,603.0 517.0,565.2 515.3,551.7 514.8,543.7 511.8,528.4 511.0,517.3 508.8,506.2 506.5,494.9 505.3,483.5" fill="#8ec98a" stroke="#b0b0b0" stroke-width="1"/>
<polygon points="517.0,603.0 595.5,603.0 597.2,618.4 604.2,623.5 611.5,632.6 610.8,637.7 606.2,643.7 598.0,649.7 597.2,659.6 592.5,665.9 587.8,661.4 527.2,662.0 526.0,655.6 524.5,647.7 520.8,631.6 517.0,623.5 514.8,611.2 517.0,603.0" fill="#2c7a1f" stroke="#b0b0b0" stroke-width="1"/>
<polygon points="527.2,662.0 587.8,661.4 592.5,665.9 592.0,673.4 598.8,681.2 603.2,690.9 610.8,694.7 610.8,700.5 608.5,708.2 619.8,719.6 621.2,725.2 626.2,730.9 626.5,735.6 621.0,740.3 618.2,749.6 608.2,749.6 611.5,740.3 544.4,740.3 544.4,730.9 544.8,690.9 539.5,676.3 534.2,673.4 527.2,662.0" fill="#a8dba4" stroke="#b0b0b0" stroke-width="1"/>
<polygon points="544.4,740.3 611.5,740.3 608.2,749.6 618.2,749.6 612.2,766.1 609.2,768.0 604.8,778.9 595.8,793.4 596.5,804.2 553.1,803.8 553.1,794.3 546.5,792.7 547.3,760.6 544.4,740.3" fill="#c4ecc1" stroke="#b0b0b0" stroke-width="1"/>
<polygon points="553.1,803.8 596.5,804.2 595.8,813.1 598.8,822.0 589.8,839.5 617.8,839.5 619.8,853.5 622.8,856.1 625.8,869.0 622.8,874.2 612.2,871.6 604.8,872.5 594.2,869.0 583.8,863.9 573.2,863.9 564.2,860.9 556.0,862.1 557.5,857.0 558.2,850.0 560.5,839.5 556.8,830.8 553.1,822.1 553.1,803.8" fill="#c4ecc1" stroke="#b0b0b0" stroke-width="1"/>
<polygon points="595.5,603.0 597.2,618.4 604.2,623.5 646.8,623.5 645.2,612.3 648.2,597.8 651.2,582.1 658.8,565.2 649.8,574.7 643.8,581.1 647.5,572.6 649.8,569.4 646.0,563.1 646.8,556.6 642.2,552.3 634.8,550.2 627.2,546.9 612.2,543.7 607.8,537.8 601.0,537.1 600.2,529.5 594.2,532.8 582.2,533.9 579.2,536.0 579.4,548.0 571.8,558.8 572.5,569.4 571.8,576.9 579.2,581.1 585.2,588.4 592.8,595.7 595.5,603.0" fill="#acdfa8" stroke="#b0b0b0" stroke-width="1"/>
<polygon points="604.2,623.5 646.8,623.5 649.8,636.6 650.8,638.5 650.8,686.0 649.8,694.7 651.2,698.6 645.2,712.0 643.0,715.8 641.5,721.5 637.8,723.4 630.2,727.1 626.2,730.9 621.2,725.2 619.8,719.6 608.5,708.2 610.8,700.5 610.8,694.7 603.2,690.9 598.8,681.2 592.0,673.4 592.5,665.9 597.2,659.6 598.0,649.7 606.2,643.7 610.8,637.7 611.5,632.6 604.2,623.5" fill="#c4ecc1" stroke="#b0b0b0" stroke-width="1"/>
<polygon points="650.8,638.5 655.8,641.1 661.5,638.5 691.8,638.5 691.8,690.9 685.8,698.6 676.8,706.3 669.2,712.0 658.8,713.9 649.8,712.9 643.0,715.8 645.2,712.0 651.2,698.6 649.8,694.7 650.8,686.0 650.8,638.5" fill="#8cc888" stroke="#b0b0b0" stroke-width="1"/>
<polygon points="691.8,638.5 691.8,639.7 712.0,639.1 723.2,644.7 738.2,643.7 748.8,636.6 756.0,634.0 756.0,660.8 754.0,667.5 751.0,679.2 742.8,686.0 736.8,692.8 730.8,700.5 724.8,704.3 718.8,698.6 708.2,699.9 699.2,693.2 691.8,690.9 691.8,638.5" fill="#388a2c" stroke="#b0b0b0" stroke-width="1"/>
<polygon points="643.0,715.8 649.8,712.9 658.8,713.9 669.2,712.0 676.8,706.3 685.8,698.6 691.8,690.9 699.2,693.2 708.2,699.9 718.8,698.6 724.8,704.3 726.2,712.0 733.8,720.5 724.8,727.1 718.8,733.7 708.5,738.4 643.0,736.9 643.0,740.3 621.0,740.3 626.5,735.6 626.2,730.9 630.2,727.1 637.8,723.4 641.5,721.5 643.0,715.8" fill="#c4ecc1" stroke="#b0b0b0" stroke-width="1"/>
<polygon points="739.0,738.4 733.8,747.7 724.8,749.6 717.2,755.1 703.8,762.5 699.2,768.0 679.8,768.0 640.8,768.0 609.2,768.0 612.2,766.1 618.2,749.6 621.0,740.3 643.0,740.3 643.0,736.9 708.5,738.4 739.0,738.4" fill="#c4ecc1" stroke="#b0b0b0" stroke-width="1"/>
<polygon points="609.2,768.0 640.8,768.0 642.2,786.2 636.7,823.7 637.8,850.0 628.8,850.0 619.8,853.5 617.8,839.5 589.8,839.5 598.8,822.0 595.8,813.1 596.5,804.2 595.8,793.4 604.8,778.9 609.2,768.0" fill="#c4ecc1" stroke="#b0b0b0" stroke-width="1"/>
<polygon points="640.8,768.0 679.8,768.0 685.8,795.2 688.8,816.6 687.2,829.0 688.8,839.5 649.8,839.5 651.2,851.8 643.8,852.6 642.2,846.5 637.8,850.0 636.7,823.7 642.2,786.2 640.8,768.0" fill="#c4ecc1" stroke="#b0b0b0" stroke-width="1"/>
<polygon points="699.2,768.0 717.2,768.0 721.8,777.1 730.8,791.6 735.2,800.6 741.2,811.3 751.0,821.4 745.8,829.0 742.0,844.8 733.8,843.0 730.8,847.1 690.8,844.8 688.8,839.5 687.2,829.0 688.8,816.6 685.8,795.2 679.8,768.0 699.2,768.0" fill="#c4ecc1" stroke="#b0b0b0" stroke-width="1"/>
<polygon points="688.8,839.5 690.8,844.8 730.8,847.1 733.8,843.0 742.0,844.8 744.2,857.0 748.8,870.8 754.8,884.5 755.5,891.3 763.0,909.9 762.2,928.3 757.8,938.2 748.8,939.1 745.8,931.6 736.8,923.3 730.8,913.2 724.8,901.4 721.8,891.3 723.2,881.0 718.8,874.2 708.2,858.7 699.2,856.1 688.8,862.1 682.8,862.1 669.2,850.0 651.2,851.8 649.8,839.5 688.8,839.5" fill="#c4ecc1" stroke="#b0b0b0" stroke-width="1"/>
<polygon points="717.2,768.0 729.2,764.3 748.8,765.2 751.8,771.6 768.2,771.6 785.5,788.9 775.8,800.6 765.2,809.5 756.2,814.9 751.0,821.4 741.2,811.3 735.2,800.6 730.8,791.6 721.8,777.1 717.2,768.0" fill="#c4ecc1" stroke="#b0b0b0" stroke-width="1"/>
<polygon points="826.0,739.3 739.0,738.4 733.8,747.7 724.8,749.6 717.2,755.1 703.8,762.5 699.2,768.0 717.2,768.0 729.2,764.3 748.8,765.2 751.8,771.6 768.2,771.6 785.5,788.9 795.2,788.0 802.8,777.1 816.2,773.5 831.2,763.4 826.8,749.6 826.0,739.3" fill="#b0e1ac" stroke="#b0b0b0" stroke-width="1"/>
<polygon points="826.0,739.3 739.0,738.4 708.5,738.4 718.8,733.7 724.8,727.1 733.8,720.5 745.8,726.2 759.2,721.5 763.8,713.9 771.2,704.3 780.2,697.6 787.8,689.0 797.5,686.6 801.2,689.0 807.2,693.8 808.0,696.7 804.2,704.3 809.5,708.2 820.0,713.9 819.2,730.9 823.8,732.8 826.0,739.3" fill="#c4ecc1" stroke="#b0b0b0" stroke-width="1"/>
<polygon points="724.8,704.3 726.2,712.0 733.8,720.5 745.8,726.2 759.2,721.5 763.8,713.9 771.2,704.3 780.2,697.6 787.8,689.0 797.5,686.6 788.5,684.1 771.5,689.0 771.5,678.8 756.0,678.8 756.0,660.8 754.0,667.5 751.0,679.2 742.8,686.0 736.8,692.8 730.8,700.5 724.8,704.3" fill="#c4ecc1" stroke="#b0b0b0" stroke-width="1"/>
<polygon points="771.5,678.8 826.9,678.8 826.9,692.8 828.2,703.2 838.0,703.4 835.0,711.4 825.2,712.9 820.0,713.9 809.5,708.2 804.2,704.3 808.0,696.7 807.2,693.8 801.2,689.0 797.5,686.6 788.5,684.1 771.5,689.0 771.5,678.8" fill="#c4ecc1" stroke="#b0b0b0" stroke-width="1"/>
<polygon points="826.9,678.8 832.8,677.3 830.5,681.2 832.8,687.0 838.0,696.7 838.0,703.4 828.2,703.2 826.9,692.8 826.9,678.8" fill="#acdfa8" stroke="#b0b0b0" stroke-width="1"/>
<polygon points="843.2,646.5 837.2,656.6 835.8,661.6 842.5,669.5 837.2,674.4 832.8,677.3 831.2,683.1 838.8,689.0 839.5,694.2 847.8,685.1 853.0,673.4 853.8,664.5 850.0,662.6 853.8,658.6 855.2,653.7 843.2,646.5" fill="#c4ecc1" stroke="#b0b0b0" stroke-width="1"/>
<polygon points="843.2,646.5 837.2,637.7 833.5,633.6 767.3,633.6 767.3,628.2 756.0,634.0 756.0,660.8 756.0,678.8 771.5,678.8 826.9,678.8 832.8,677.3 837.2,674.4 842.5,669.5 835.8,661.6 837.2,656.6 843.2,646.5" fill="#9ad397" stroke="#b0b0b0" stroke-width="1"/>
<polygon points="767.3,633.6 767.3,628.2 778.0,618.4 780.2,615.3 778.0,607.9 786.2,605.7 801.2,608.1 813.2,605.0 820.8,601.9 819.2,588.4 826.8,583.2 843.2,571.6 863.5,571.6 863.1,582.1 864.2,600.9 864.8,618.4 861.4,632.6 861.2,649.7 859.0,653.7 855.2,653.7 843.2,646.5 837.2,637.7 833.5,633.6 767.3,633.6" fill="#c4ecc1" stroke="#b0b0b0" stroke-width="1"/>
<polygon points="864.8,618.4 876.9,618.8 875.5,609.2 879.2,598.8 883.8,586.3 891.2,571.4 863.5,571.6 863.1,582.1 864.2,600.9 864.8,618.4" fill="#c4ecc1" stroke="#b0b0b0" stroke-width="1"/>
<polygon points="876.9,618.8 894.2,619.4 900.2,615.9 903.2,611.6 899.0,601.9 897.5,565.2 891.2,571.4 883.8,586.3 879.2,598.8 875.5,609.2 876.9,618.8" fill="#c4ecc1" stroke="#b0b0b0" stroke-width="1"/>
<polygon points="897.5,565.2 901.8,563.1 909.2,552.3 913.0,541.5 913.8,535.0 925.3,518.4 930.2,524.0 940.8,520.6 946.8,526.8 947.0,551.2 952.3,558.8 958.8,575.8 951.2,582.1 943.8,584.2 931.8,586.3 921.2,594.7 913.8,597.8 910.0,600.9 903.2,611.6 899.0,601.9 897.5,565.2" fill="#c4ecc1" stroke="#b0b0b0" stroke-width="1"/>
<polygon points="861.4,632.6 864.8,618.4 876.9,618.8 894.2,619.4 900.2,615.9 901.8,621.5 898.8,627.6 903.2,631.6 904.8,635.6 913.0,638.7 913.8,632.6 914.5,639.7 906.2,642.7 900.2,642.7 896.9,643.7 895.8,638.7 893.1,633.2 886.8,633.2 861.4,632.6" fill="#b8e5b5" stroke="#b0b0b0" stroke-width="1"/>
<polygon points="886.0,647.3 892.8,644.7 896.9,643.7 895.8,638.7 893.1,633.2 886.8,633.2 886.0,647.3" fill="#c4ecc1" stroke="#b0b0b0" stroke-width="1"/>
<polygon points="861.4,632.6 886.8,633.2 886.0,647.3 870.2,648.7 859.0,653.7 861.2,649.7 861.4,632.6" fill="#c4ecc1" stroke="#b0b0b0" stroke-width="1"/>
<polygon points="661.5,638.5 691.8,638.5 691.8,639.7 712.0,639.1 717.2,631.6 726.2,621.5 727.5,613.3 724.8,600.9 718.8,591.6 712.8,593.6 706.0,600.9 705.2,594.7 714.2,584.2 712.8,570.5 696.2,557.7 692.8,554.9 688.8,562.0 682.8,566.3 679.8,568.4 679.8,574.7 672.2,573.7 670.0,579.4 667.0,593.6 669.2,608.6 670.8,617.8 669.5,625.5 666.5,631.6 661.5,638.5" fill="#98d294" stroke="#b0b0b0" stroke-width="1"/>
<polygon points="607.8,537.8 615.2,533.9 624.2,531.2 635.2,525.7 645.2,518.0 646.8,519.1 639.2,527.3 637.0,532.8 649.8,539.3 664.8,540.4 675.2,535.4 688.8,533.9 694.8,540.4 702.2,544.8 705.2,550.6 697.8,551.2 693.2,553.4 681.2,548.0 669.2,552.3 664.8,557.7 658.8,554.5 649.8,569.4 646.0,563.1 646.8,556.6 642.2,552.3 634.8,550.2 627.2,546.9 612.2,543.7 607.8,537.8" fill="#98d294" stroke="#b0b0b0" stroke-width="1"/>
<polygon points="853.8,661.6 858.2,661.6 868.8,659.6 883.8,654.6 886.0,652.3 876.2,654.0 861.2,655.6 857.5,657.6" fill="#c4ecc1" stroke="#b0b0b0" stroke-width="1"/>
<polygon points="806.9,694.2 808.1,692.8 810.1,694.7 808.1,696.7" fill="#c4ecc1" stroke="#b0b0b0" stroke-width="1"/>
<polygon points="625.0,508.9 629.5,506.2 637.0,502.4 637.8,503.2 630.2,507.5 625.8,509.7" fill="#98d294" stroke="#b0b0b0" stroke-width="1"/>
<polygon points="825.2,712.9 835.0,711.4 829.8,719.6 826.0,727.1 823.5,728.6 824.5,721.5" fill="#c4ecc1" stroke="#b0b0b0" stroke-width="1"/>
<polygon points="822.2,682.2 817.8,687.0 816.2,693.8 817.0,700.5 818.5,706.3 819.2,712.9 818.5,720.5 819.2,727.1 823.0,731.8 824.2,729.0 824.0,721.5 825.0,713.9 823.0,707.2 820.0,701.5 820.0,694.7 821.5,689.0 823.8,684.1" fill="#fefefe" stroke="#b0b0b0" stroke-width="0.8"/>
<polygon points="114.2,873.5 116.5,868.2 124.0,866.0 130.0,864.5 134.5,858.5 139.0,853.2 152.5,847.2 164.5,842.8 169.0,842.3 172.0,845.0 176.5,844.2 190.0,848.0 193.0,851.8 205.0,852.5 214.0,854.0 227.5,854.8 236.5,854.3 248.5,860.0 248.5,954.5 256.0,954.5 259.0,960.5 268.0,965.8 277.0,959.8 286.0,969.5 295.0,986.0 306.2,995.0 306.2,1004.0 301.0,1008.5 295.0,1008.5 287.5,1002.5 280.0,987.5 272.5,975.5 265.0,968.0 256.0,962.0 247.0,957.5 235.0,956.0 230.5,959.0 226.0,953.0 220.0,947.0 214.0,947.0 209.5,954.5 199.0,959.0 193.0,963.5 199.0,954.5 205.0,948.5 203.5,944.0 196.0,947.0 190.0,954.5 187.0,962.0 181.0,969.5 175.0,978.5 167.5,986.0 157.0,992.0 145.0,998.0 130.0,1007.0 123.2,1011.5 124.0,1009.2 137.5,999.5 148.0,993.5 158.5,984.5 163.0,977.0 164.5,968.8 155.5,971.0 146.5,968.0 139.0,969.5 136.0,960.5 128.5,956.0 122.5,950.0 121.0,944.0 117.2,941.0 119.5,935.0 121.8,930.5 128.5,926.0 136.0,923.8 143.5,920.0 145.0,914.0 143.5,909.5 137.5,911.0 124.0,910.2 116.5,908.0 110.5,903.5 106.8,900.5 115.0,896.0 124.0,891.5 129.2,891.5 130.0,896.0 137.5,896.0 143.5,894.5 142.0,890.0 139.0,886.2 133.0,887.0 127.0,882.5 118.0,876.5" fill="#c4ecc1" stroke="#b0b0b0" stroke-width="0.9"/>
<polygon points="87.2,920.0 92.5,921.5 97.0,923.0 103.0,924.5 101.5,926.8 97.0,927.5 91.0,924.5 87.2,923.0" fill="#c4ecc1" stroke="#b0b0b0" stroke-width="0.9"/>
<polygon points="110.5,954.5 116.5,953.0 119.5,956.8 116.5,959.0 112.0,957.5" fill="#c4ecc1" stroke="#b0b0b0" stroke-width="0.9"/>
<polygon points="178.0,981.5 184.0,974.0 190.0,971.8 190.8,978.5 187.0,986.0 179.5,990.5 177.2,986.0" fill="#c4ecc1" stroke="#b0b0b0" stroke-width="0.9"/>
<polygon points="110.5,1017.5 119.5,1012.2 121.0,1013.8 112.0,1019.3" fill="#c4ecc1" stroke="#b0b0b0" stroke-width="0.9"/>
<polygon points="100.8,1025.8 108.2,1019.3 109.8,1020.8 101.8,1027.2" fill="#c4ecc1" stroke="#b0b0b0" stroke-width="0.9"/>
<polygon points="89.5,1029.5 97.0,1025.3 97.9,1026.8 90.4,1030.7" fill="#c4ecc1" stroke="#b0b0b0" stroke-width="0.9"/>
<polygon points="76.0,1032.8 85.0,1031.8 85.0,1033.4 76.3,1034.3" fill="#c4ecc1" stroke="#b0b0b0" stroke-width="0.9"/>
<polygon points="53.5,1035.8 65.5,1034.3 76.0,1033.7 76.3,1035.2 65.5,1036.1 54.2,1037.9" fill="#c4ecc1" stroke="#b0b0b0" stroke-width="0.9"/>
<polygon points="80.2,950.0 83.5,953.0 84.4,954.2 82.6,953.9 79.9,950.9" fill="#c4ecc1" stroke="#b0b0b0" stroke-width="0.9"/>
<polygon points="310.0,910.2 314.5,907.2 315.4,908.3 310.9,911.0" fill="#c4ecc1" stroke="#b0b0b0" stroke-width="0.9"/>
<polygon points="317.5,905.0 323.5,903.8 325.0,907.2 322.0,909.5 317.5,907.2" fill="#c4ecc1" stroke="#b0b0b0" stroke-width="0.9"/>
<polygon points="310.0,910.5 313.0,907.5 313.8,908.2 310.8,911.2" fill="#c4ecc1" stroke="#b0b0b0" stroke-width="0.9"/>
<polygon points="324.8,906.5 324.4,907.9 323.2,909.1 321.6,909.7 319.9,909.7 318.3,909.1 317.1,907.9 316.8,906.5 317.1,905.1 318.3,903.9 319.9,903.3 321.6,903.3 323.2,903.9 324.4,905.1" fill="#c4ecc1" stroke="#b0b0b0" stroke-width="0.9"/>
<polygon points="340.0,914.5 344.0,912.2 348.0,918.0 348.5,919.5 346.5,920.0 342.5,919.0" fill="#c4ecc1" stroke="#b0b0b0" stroke-width="0.9"/>
<polygon points="354.0,921.0 358.0,920.5 362.0,921.5 361.5,923.0 357.0,922.8 354.0,922.5" fill="#c4ecc1" stroke="#b0b0b0" stroke-width="0.9"/>
<polygon points="358.5,926.0 360.5,925.8 361.0,928.0 359.0,928.5" fill="#c4ecc1" stroke="#b0b0b0" stroke-width="0.9"/>
<polygon points="362.5,923.0 366.0,922.0 368.0,925.0 372.0,926.5 371.0,930.0 367.0,931.0 364.0,928.0" fill="#c4ecc1" stroke="#b0b0b0" stroke-width="0.9"/>
<polygon points="375.5,936.5 380.0,938.0 385.0,940.5 388.0,944.0 391.5,948.5 386.0,952.5 381.0,955.5 378.0,958.5 375.0,955.0 374.5,950.0 372.5,945.5 374.0,942.5" fill="#c4ecc1" stroke="#b0b0b0" stroke-width="0.9"/>
<polygon points="728.5,989.2 750.0,989.8 765.0,991.0 774.5,993.5 775.0,998.0 770.0,1002.5 765.0,1006.5 756.0,1008.5 745.0,1007.5 735.0,1007.5 727.0,1007.5 727.0,1001.0 725.0,994.5 728.0,991.0" fill="#c4ecc1" stroke="#b0b0b0" stroke-width="0.9"/>
<polygon points="776.0,1002.5 780.0,1001.2 784.5,1001.3 784.0,1002.6 779.0,1003.2" fill="#c4ecc1" stroke="#b0b0b0" stroke-width="0.9"/>
<polygon points="782.5,995.0 785.0,994.6 786.0,996.0 783.5,996.5" fill="#c4ecc1" stroke="#b0b0b0" stroke-width="0.9"/>
<polygon points="707.5,1002.5 707.1,1003.4 706.2,1003.8 705.3,1003.4 704.9,1002.5 705.3,1001.6 706.2,1001.2 707.1,1001.6" fill="#c4ecc1" stroke="#b0b0b0" stroke-width="0.9"/>
<text x="156.0" y="521.2" font-size="13" text-anchor="middle" fill="#000" font-family="Liberation Sans, Arial, sans-serif">WA</text>
<text x="316.0" y="532.2" font-size="13" text-anchor="middle" fill="#000" font-family="Liberation Sans, Arial, sans-serif">MT</text>
<text x="462.5" y="521.2" font-size="13" text-anchor="middle" fill="#000" font-family="Liberation Sans, Arial, sans-serif">ND</text>
<text x="548.5" y="549.7" font-size="13" text-anchor="middle" fill="#000" font-family="Liberation Sans, Arial, sans-serif">MN</text>
<text x="924.0" y="565.2" font-size="13" text-anchor="middle" fill="#000" font-family="Liberation Sans, Arial, sans-serif">ME</text>
<text x="156.0" y="595.7" font-size="13" text-anchor="middle" fill="#000" font-family="Liberation Sans, Arial, sans-serif">OR</text>
<text x="245.0" y="594.7" font-size="13" text-anchor="middle" fill="#000" font-family="Liberation Sans, Arial, sans-serif">ID</text>
<text x="460.0" y="584.7" font-size="13" text-anchor="middle" fill="#000" font-family="Liberation Sans, Arial, sans-serif">SD</text>
<text x="613.0" y="584.7" font-size="13" text-anchor="middle" fill="#000" font-family="Liberation Sans, Arial, sans-serif">WI</text>
<text x="870.0" y="593.2" font-size="13" text-anchor="middle" fill="#000" font-family="Liberation Sans, Arial, sans-serif">VT</text>
<text x="889.0" y="603.7" font-size="13" text-anchor="middle" fill="#000" font-family="Liberation Sans, Arial, sans-serif">NH</text>
<text x="829.0" y="617.2" font-size="13" text-anchor="middle" fill="#000" font-family="Liberation Sans, Arial, sans-serif">NY</text>
<text x="350.0" y="617.2" font-size="13" text-anchor="middle" fill="#000" font-family="Liberation Sans, Arial, sans-serif">WY</text>
<text x="693.5" y="614.7" font-size="13" text-anchor="middle" fill="#000" font-family="Liberation Sans, Arial, sans-serif">MI</text>
<text x="879.0" y="630.2" font-size="13" text-anchor="middle" fill="#000" font-family="Liberation Sans, Arial, sans-serif">MA</text>
<text x="560.0" y="637.7" font-size="13" text-anchor="middle" fill="#000" font-family="Liberation Sans, Arial, sans-serif">IA</text>
<text x="467.0" y="647.7" font-size="13" text-anchor="middle" fill="#000" font-family="Liberation Sans, Arial, sans-serif">NE</text>
<text x="871.0" y="644.7" font-size="13" text-anchor="middle" fill="#000" font-family="Liberation Sans, Arial, sans-serif">CT</text>
<text x="889.5" y="647.2" font-size="13" text-anchor="middle" fill="#000" font-family="Liberation Sans, Arial, sans-serif">RI</text>
<text x="794.0" y="659.2" font-size="13" text-anchor="middle" fill="#000" font-family="Liberation Sans, Arial, sans-serif">PA</text>
<text x="212.0" y="691.2" font-size="13" text-anchor="middle" fill="#000" font-family="Liberation Sans, Arial, sans-serif">NV</text>
<text x="286.5" y="691.2" font-size="13" text-anchor="middle" fill="#000" font-family="Liberation Sans, Arial, sans-serif">UT</text>
<text x="380.0" y="696.2" font-size="13" text-anchor="middle" fill="#000" font-family="Liberation Sans, Arial, sans-serif">CO</text>
<text x="623.5" y="676.2" font-size="13" text-anchor="middle" fill="#000" font-family="Liberation Sans, Arial, sans-serif">IL</text>
<text x="669.0" y="676.2" font-size="13" text-anchor="middle" fill="#000" font-family="Liberation Sans, Arial, sans-serif">IN</text>
<text x="717.0" y="671.7" font-size="13" text-anchor="middle" fill="#000" font-family="Liberation Sans, Arial, sans-serif">OH</text>
<text x="845.0" y="673.7" font-size="13" text-anchor="middle" fill="#000" font-family="Liberation Sans, Arial, sans-serif">NJ</text>
<text x="806.0" y="687.2" font-size="13" text-anchor="middle" fill="#000" font-family="Liberation Sans, Arial, sans-serif">MD</text>
<text x="806.0" y="698.2" font-size="13" text-anchor="middle" fill="#000" font-family="Liberation Sans, Arial, sans-serif">DC</text>
<text x="830.0" y="702.2" font-size="13" text-anchor="middle" fill="#000" font-family="Liberation Sans, Arial, sans-serif">DE</text>
<text x="751.5" y="703.2" font-size="13" text-anchor="middle" fill="#000" font-family="Liberation Sans, Arial, sans-serif">WV</text>
<text x="485.0" y="705.7" font-size="13" text-anchor="middle" fill="#000" font-family="Liberation Sans, Arial, sans-serif">KS</text>
<text x="575.0" y="710.7" font-size="13" text-anchor="middle" fill="#000" font-family="Liberation Sans, Arial, sans-serif">MO</text>
<text x="689.0" y="719.7" font-size="13" text-anchor="middle" fill="#000" font-family="Liberation Sans, Arial, sans-serif">KY</text>
<text x="789.0" y="719.7" font-size="13" text-anchor="middle" fill="#000" font-family="Liberation Sans, Arial, sans-serif">VA</text>
<text x="166.5" y="730.2" font-size="13" text-anchor="middle" fill="#000" font-family="Liberation Sans, Arial, sans-serif">CA</text>
<text x="668.5" y="758.2" font-size="13" text-anchor="middle" fill="#000" font-family="Liberation Sans, Arial, sans-serif">TN</text>
<text x="500.0" y="761.2" font-size="13" text-anchor="middle" fill="#000" font-family="Liberation Sans, Arial, sans-serif">OK</text>
<text x="763.0" y="761.2" font-size="13" text-anchor="middle" fill="#000" font-family="Liberation Sans, Arial, sans-serif">NC</text>
<text x="575.0" y="775.7" font-size="13" text-anchor="middle" fill="#000" font-family="Liberation Sans, Arial, sans-serif">AR</text>
<text x="291.0" y="779.7" font-size="13" text-anchor="middle" fill="#000" font-family="Liberation Sans, Arial, sans-serif">AZ</text>
<text x="373.5" y="779.7" font-size="13" text-anchor="middle" fill="#000" font-family="Liberation Sans, Arial, sans-serif">NM</text>
<text x="748.0" y="789.2" font-size="13" text-anchor="middle" fill="#000" font-family="Liberation Sans, Arial, sans-serif">SC</text>
<text x="615.0" y="798.2" font-size="13" text-anchor="middle" fill="#000" font-family="Liberation Sans, Arial, sans-serif">MS</text>
<text x="661.0" y="812.2" font-size="13" text-anchor="middle" fill="#000" font-family="Liberation Sans, Arial, sans-serif">AL</text>
<text x="710.5" y="822.7" font-size="13" text-anchor="middle" fill="#000" font-family="Liberation Sans, Arial, sans-serif">GA</text>
<text x="473.5" y="838.2" font-size="13" text-anchor="middle" fill="#000" font-family="Liberation Sans, Arial, sans-serif">TX</text>
<text x="579.0" y="847.7" font-size="13" text-anchor="middle" fill="#000" font-family="Liberation Sans, Arial, sans-serif">LA</text>
<text x="739.0" y="886.7" font-size="13" text-anchor="middle" fill="#000" font-family="Liberation Sans, Arial, sans-serif">FL</text>
<text x="200.0" y="920.7" font-size="13" text-anchor="middle" fill="#000" font-family="Liberation Sans, Arial, sans-serif">AK</text>
<text x="368.3" y="931.7" font-size="13" text-anchor="middle" fill="#000" font-family="Liberation Sans, Arial, sans-serif">HI</text>
<text x="743.2" y="1001.7" font-size="13" text-anchor="middle" fill="#000" font-family="Liberation Sans, Arial, sans-serif">PR</text>
<defs><linearGradient id="gc" x1="0" x2="1" y1="0" y2="0"><stop offset="0" stop-color="#c8efc4"/><stop offset="0.5" stop-color="#79bd70"/><stop offset="1" stop-color="#2a781c"/></linearGradient></defs>
<rect x="286.5" y="1034" width="254.5" height="33.5" fill="url(#gc)" stroke="#a89e90" stroke-width="1.2"/>
<line x1="288" y1="1063.5" x2="288" y2="1071.5" stroke="#000" stroke-width="1.5"/>
<text x="263.3" y="1055.6" font-size="23.8" fill="#000" textLength="12.5" lengthAdjust="spacingAndGlyphs" font-family="Liberation Serif, Times New Roman, serif">0</text>
<text x="565.6" y="1055.6" font-size="23.8" fill="#000" textLength="119" lengthAdjust="spacingAndGlyphs" font-family="Liberation Serif, Times New Roman, serif">30,656,034</text>
</g>
<g>
<polygon points="1076.1,556.5 1074.9,548.8 1076.1,542.1 1073.8,533.1 1069.2,521.8 1065.4,513.8 1065.1,508.5 1071.5,511.5 1082.2,513.8 1089.9,514.5 1095.2,514.9 1093.0,526.3 1098.3,536.5 1101.4,530.9 1100.6,519.5 1099.1,509.2 1095.2,494.2 1182.6,494.2 1182.6,552.8 1184.4,562.1 1152.6,562.1 1143.4,563.8 1128.1,567.5 1119.0,569.7 1102.1,571.9 1095.2,569.7 1093.0,559.8 1088.4,558.7 1082.2,556.5 1076.1,556.5" fill="#ffffff" stroke="#bdbdbd" stroke-width="1"/>
<polygon points="1184.4,562.1 1152.6,562.1 1143.4,563.8 1128.1,567.5 1119.0,569.7 1102.1,571.9 1095.2,569.7 1093.0,559.8 1088.4,558.7 1082.2,556.5 1076.1,556.5 1076.9,573.0 1075.4,592.5 1074.6,611.6 1070.0,626.3 1067.7,630.5 1073.1,647.1 1137.3,647.1 1182.8,647.1 1182.8,612.1 1183.7,604.2 1180.2,598.9 1180.2,595.7 1185.5,583.9 1187.8,578.4 1191.2,570.8 1184.4,562.1" fill="#89b4d6" stroke="#bdbdbd" stroke-width="1"/>
<polygon points="1073.1,647.1 1074.6,659.4 1075.4,667.5 1070.0,678.8 1074.6,685.6 1079.2,691.6 1080.0,707.4 1084.5,715.2 1091.4,721.1 1092.2,726.9 1099.1,730.8 1099.1,736.6 1100.6,742.3 1106.7,747.1 1109.8,750.0 1107.5,753.8 1108.3,759.5 1114.4,766.1 1117.4,770.8 1123.6,775.5 1127.4,782.1 1127.7,791.4 1130.4,794.2 1137.3,794.2 1143.4,795.1 1149.6,799.7 1155.7,802.1 1160.3,801.9 1161.8,806.2 1166.4,807.1 1169.5,809.8 1177.1,817.2 1179.4,823.5 1181.4,829.3 1218.1,825.9 1221.5,820.8 1218.4,813.5 1221.5,804.3 1223.0,796.9 1219.9,787.7 1219.5,783.9 1137.3,707.4 1137.3,647.1 1073.1,647.1" fill="#385a84" stroke="#bdbdbd" stroke-width="1"/>
<polygon points="1137.3,647.1 1137.3,707.4 1219.5,783.9 1219.9,774.6 1218.4,765.2 1223.0,763.3 1228.4,761.4 1228.4,746.2 1228.4,647.1 1182.8,647.1 1137.3,647.1" fill="#7eabd0" stroke="#bdbdbd" stroke-width="1"/>
<polygon points="1182.6,494.2 1197.8,494.2 1197.8,517.2 1202.8,530.4 1208.8,534.0 1214.6,541.4 1219.9,547.9 1223.8,551.0 1221.5,559.8 1221.5,568.6 1231.4,571.9 1237.5,582.8 1244.4,595.7 1246.7,597.2 1253.6,595.7 1262.0,594.2 1268.1,591.2 1274.3,594.6 1274.3,647.1 1228.4,647.1 1182.8,647.1 1182.8,612.1 1183.7,604.2 1180.2,598.9 1180.2,595.7 1185.5,583.9 1187.8,578.4 1191.2,570.8 1184.4,562.1 1182.6,552.8 1182.6,494.2" fill="#385a84" stroke="#bdbdbd" stroke-width="1"/>
<polygon points="1197.8,494.2 1381.4,494.2 1381.4,563.6 1381.4,583.9 1274.3,583.9 1274.3,594.6 1268.1,591.2 1262.0,594.2 1253.6,595.7 1246.7,597.2 1244.4,595.7 1237.5,582.8 1231.4,571.9 1221.5,568.6 1221.5,559.8 1223.8,551.0 1219.9,547.9 1214.6,541.4 1208.8,534.0 1202.8,530.4 1197.8,517.2 1197.8,494.2" fill="#ffffff" stroke="#bdbdbd" stroke-width="1"/>
<polygon points="1274.3,594.6 1274.3,583.9 1381.4,583.9 1381.4,626.3 1381.4,667.5 1304.9,667.5 1274.3,667.5 1274.3,647.1 1274.3,594.6" fill="#89b4d6" stroke="#bdbdbd" stroke-width="1"/>
<polygon points="1274.3,647.1 1274.3,667.5 1304.9,667.5 1304.9,746.2 1228.4,746.2 1228.4,647.1 1274.3,647.1" fill="#7eabd0" stroke="#bdbdbd" stroke-width="1"/>
<polygon points="1304.9,667.5 1381.4,667.5 1412.0,667.5 1412.0,687.6 1412.0,746.2 1397.4,746.2 1304.9,746.2 1304.9,667.5" fill="#4d76a0" stroke="#bdbdbd" stroke-width="1"/>
<polygon points="1228.4,746.2 1304.9,746.2 1304.9,851.0 1274.0,851.0 1216.6,830.1 1218.1,825.9 1221.5,820.8 1218.4,813.5 1221.5,804.3 1223.0,796.9 1219.9,787.7 1219.5,783.9 1219.9,774.6 1218.4,765.2 1223.0,763.3 1228.4,761.4 1228.4,746.2" fill="#89b4d6" stroke="#bdbdbd" stroke-width="1"/>
<polygon points="1304.9,746.2 1397.4,746.2 1397.4,755.7 1396.5,838.9 1342.0,838.9 1343.4,842.9 1317.9,842.9 1317.9,851.0 1304.9,851.0 1304.9,746.2" fill="#89b4d6" stroke="#bdbdbd" stroke-width="1"/>
<polygon points="1381.4,494.2 1485.7,494.2 1486.9,505.8 1489.2,517.2 1491.5,528.6 1492.3,539.9 1495.3,555.4 1496.0,563.6 1381.4,563.6 1381.4,494.2" fill="#ffffff" stroke="#bdbdbd" stroke-width="1"/>
<polygon points="1381.4,563.6 1496.0,563.6 1497.6,577.4 1497.6,615.9 1495.3,624.3 1497.6,636.7 1489.2,631.1 1475.5,630.5 1466.3,626.3 1381.4,626.3 1381.4,583.9 1381.4,563.6" fill="#89b4d6" stroke="#bdbdbd" stroke-width="1"/>
<polygon points="1381.4,626.3 1466.3,626.3 1475.5,630.5 1489.2,631.1 1497.6,636.7 1501.5,645.0 1505.3,661.4 1506.8,669.5 1508.0,676.0 1515.2,687.6 1412.0,687.6 1412.0,667.5 1381.4,667.5 1381.4,626.3" fill="#ffffff" stroke="#bdbdbd" stroke-width="1"/>
<polygon points="1515.2,687.6 1520.6,690.6 1525.9,705.4 1525.6,746.2 1412.0,746.2 1412.0,687.6 1515.2,687.6" fill="#89b4d6" stroke="#bdbdbd" stroke-width="1"/>
<polygon points="1412.0,746.2 1525.6,746.2 1525.6,755.7 1528.5,776.5 1527.8,809.1 1516.8,803.8 1507.6,805.2 1498.4,807.1 1490.8,804.3 1486.2,806.2 1480.0,803.4 1473.9,802.5 1466.3,799.7 1455.6,796.9 1449.4,795.1 1443.3,792.1 1443.3,755.7 1397.4,755.7 1397.4,746.2 1412.0,746.2" fill="#89b4d6" stroke="#bdbdbd" stroke-width="1"/>
<polygon points="1527.8,809.1 1516.8,803.8 1507.6,805.2 1498.4,807.1 1490.8,804.3 1486.2,806.2 1480.0,803.4 1473.9,802.5 1466.3,799.7 1455.6,796.9 1449.4,795.1 1443.3,792.1 1443.3,755.7 1397.4,755.7 1396.5,838.9 1342.0,838.9 1343.4,842.9 1348.5,847.9 1357.6,855.1 1366.8,862.2 1371.4,871.0 1376.0,881.6 1389.8,889.5 1395.9,892.5 1402.0,879.9 1406.6,878.1 1421.9,878.6 1429.6,885.1 1438.7,904.3 1451.0,918.2 1457.1,935.3 1470.9,942.8 1481.6,945.9 1486.9,944.7 1483.9,935.3 1483.1,923.3 1486.2,915.6 1492.3,907.8 1501.5,900.9 1515.2,893.9 1522.9,886.9 1527.5,882.5 1537.4,879.9 1538.9,874.6 1539.7,867.5 1542.0,856.8 1538.2,847.9 1534.5,839.1 1534.5,820.4 1534.5,810.8 1527.8,809.1" fill="#6291ba" stroke="#bdbdbd" stroke-width="1"/>
<polygon points="1485.7,494.2 1517.5,494.2 1517.5,485.3 1522.4,486.7 1524.7,499.5 1535.1,502.3 1544.3,503.5 1556.5,506.9 1565.7,509.2 1574.9,516.1 1584.1,512.7 1596.3,514.9 1602.4,517.5 1587.1,525.2 1573.4,537.6 1564.2,545.4 1561.1,547.7 1561.3,559.8 1553.5,570.8 1554.2,581.7 1553.5,589.2 1561.1,593.5 1567.3,601.0 1574.9,608.5 1577.7,615.9 1497.6,615.9 1497.6,577.4 1496.0,563.6 1495.3,555.4 1492.3,539.9 1491.5,528.6 1489.2,517.2 1486.9,505.8 1485.7,494.2" fill="#89b4d6" stroke="#bdbdbd" stroke-width="1"/>
<polygon points="1497.6,615.9 1577.7,615.9 1579.5,631.6 1586.5,636.7 1594.0,646.0 1593.3,651.2 1588.7,657.3 1580.3,663.4 1579.5,673.5 1574.6,680.0 1569.9,675.3 1508.0,676.0 1506.8,669.5 1505.3,661.4 1501.5,645.0 1497.6,636.7 1495.3,624.3 1497.6,615.9" fill="#7eabd0" stroke="#bdbdbd" stroke-width="1"/>
<polygon points="1508.0,676.0 1569.9,675.3 1574.6,680.0 1574.1,687.6 1581.0,695.5 1585.6,705.4 1593.3,709.3 1593.3,715.2 1591.0,723.0 1602.4,734.6 1604.0,740.4 1609.0,746.2 1609.3,750.9 1603.7,755.7 1600.9,765.2 1590.7,765.2 1594.0,755.7 1525.6,755.7 1525.6,746.2 1525.9,705.4 1520.6,690.6 1515.2,687.6 1508.0,676.0" fill="#ffffff" stroke="#bdbdbd" stroke-width="1"/>
<polygon points="1525.6,755.7 1594.0,755.7 1590.7,765.2 1600.9,765.2 1594.8,782.1 1591.7,783.9 1587.1,795.1 1578.0,809.8 1578.7,820.8 1534.5,820.4 1534.5,810.8 1527.8,809.1 1528.5,776.5 1525.6,755.7" fill="#ffffff" stroke="#bdbdbd" stroke-width="1"/>
<polygon points="1534.5,820.4 1578.7,820.8 1578.0,829.9 1581.0,838.9 1571.8,856.8 1600.5,856.8 1602.4,871.0 1605.5,873.7 1608.6,886.9 1605.5,892.1 1594.8,889.5 1587.1,890.4 1576.4,886.9 1565.7,881.6 1555.0,881.6 1545.8,878.6 1537.4,879.9 1538.9,874.6 1539.7,867.5 1542.0,856.8 1538.2,847.9 1534.5,839.1 1534.5,820.4" fill="#ffffff" stroke="#bdbdbd" stroke-width="1"/>
<polygon points="1577.7,615.9 1579.5,631.6 1586.5,636.7 1630.0,636.7 1628.5,625.3 1631.5,610.6 1634.6,594.6 1642.2,577.4 1633.0,587.1 1626.9,593.5 1630.8,584.9 1633.0,581.7 1629.2,575.2 1630.0,568.6 1625.4,564.2 1617.7,562.1 1610.1,558.7 1594.8,555.4 1590.2,549.4 1583.3,548.8 1582.6,541.0 1576.4,544.3 1564.2,545.4 1561.1,547.7 1561.3,559.8 1553.5,570.8 1554.2,581.7 1553.5,589.2 1561.1,593.5 1567.3,601.0 1574.9,608.5 1577.7,615.9" fill="#ffffff" stroke="#bdbdbd" stroke-width="1"/>
<polygon points="1586.5,636.7 1630.0,636.7 1633.0,650.2 1634.1,652.0 1634.1,700.5 1633.0,709.3 1634.6,713.3 1628.5,726.9 1626.2,730.8 1624.6,736.6 1620.8,738.5 1613.2,742.3 1609.0,746.2 1604.0,740.4 1602.4,734.6 1591.0,723.0 1593.3,715.2 1593.3,709.3 1585.6,705.4 1581.0,695.5 1574.1,687.6 1574.6,680.0 1579.5,673.5 1580.3,663.4 1588.7,657.3 1593.3,651.2 1594.0,646.0 1586.5,636.7" fill="#ffffff" stroke="#bdbdbd" stroke-width="1"/>
<polygon points="1634.1,652.0 1639.2,654.7 1645.0,652.0 1675.9,652.0 1675.9,705.4 1669.8,713.3 1660.6,721.1 1652.9,726.9 1642.2,728.8 1633.0,727.9 1626.2,730.8 1628.5,726.9 1634.6,713.3 1633.0,709.3 1634.1,700.5 1634.1,652.0" fill="#ffffff" stroke="#bdbdbd" stroke-width="1"/>
<polygon points="1675.9,652.0 1675.9,653.2 1696.5,652.6 1708.0,658.3 1723.3,657.3 1734.0,650.2 1741.4,647.5 1741.4,674.7 1739.4,681.6 1736.3,693.5 1727.9,700.5 1721.8,707.4 1715.7,715.2 1709.5,719.1 1703.4,713.3 1692.7,714.6 1683.5,707.8 1675.9,705.4 1675.9,652.0" fill="#89b4d6" stroke="#bdbdbd" stroke-width="1"/>
<polygon points="1626.2,730.8 1633.0,727.9 1642.2,728.8 1652.9,726.9 1660.6,721.1 1669.8,713.3 1675.9,705.4 1683.5,707.8 1692.7,714.6 1703.4,713.3 1709.5,719.1 1711.1,726.9 1718.7,735.6 1709.5,742.3 1703.4,749.0 1693.0,753.8 1626.2,752.3 1626.2,755.7 1603.7,755.7 1609.3,750.9 1609.0,746.2 1613.2,742.3 1620.8,738.5 1624.6,736.6 1626.2,730.8" fill="#ffffff" stroke="#bdbdbd" stroke-width="1"/>
<polygon points="1724.1,753.8 1718.7,763.3 1709.5,765.2 1701.9,770.8 1688.1,778.3 1683.5,783.9 1663.6,783.9 1623.9,783.9 1591.7,783.9 1594.8,782.1 1600.9,765.2 1603.7,755.7 1626.2,755.7 1626.2,752.3 1693.0,753.8 1724.1,753.8" fill="#ffffff" stroke="#bdbdbd" stroke-width="1"/>
<polygon points="1591.7,783.9 1623.9,783.9 1625.4,802.5 1619.7,840.7 1620.8,867.5 1611.6,867.5 1602.4,871.0 1600.5,856.8 1571.8,856.8 1581.0,838.9 1578.0,829.9 1578.7,820.8 1578.0,809.8 1587.1,795.1 1591.7,783.9" fill="#ffffff" stroke="#bdbdbd" stroke-width="1"/>
<polygon points="1623.9,783.9 1663.6,783.9 1669.8,811.7 1672.8,833.5 1671.3,846.1 1672.8,856.8 1633.0,856.8 1634.6,869.3 1626.9,870.2 1625.4,864.0 1620.8,867.5 1619.7,840.7 1625.4,802.5 1623.9,783.9" fill="#ffffff" stroke="#bdbdbd" stroke-width="1"/>
<polygon points="1683.5,783.9 1701.9,783.9 1706.5,793.2 1715.7,808.0 1720.3,817.2 1726.4,828.1 1736.3,838.4 1731.0,846.1 1727.1,862.2 1718.7,860.4 1715.7,864.5 1675.0,862.2 1672.8,856.8 1671.3,846.1 1672.8,833.5 1669.8,811.7 1663.6,783.9 1683.5,783.9" fill="#ffffff" stroke="#bdbdbd" stroke-width="1"/>
<polygon points="1672.8,856.8 1675.0,862.2 1715.7,864.5 1718.7,860.4 1727.1,862.2 1729.4,874.6 1734.0,888.6 1740.1,902.6 1740.9,909.5 1748.6,928.5 1747.8,947.2 1743.2,957.4 1734.0,958.2 1731.0,950.6 1721.8,942.1 1715.7,931.9 1709.5,919.9 1706.5,909.5 1708.0,899.1 1703.4,892.1 1692.7,876.3 1683.5,873.7 1672.8,879.9 1666.7,879.9 1652.9,867.5 1634.6,869.3 1633.0,856.8 1672.8,856.8" fill="#ffffff" stroke="#bdbdbd" stroke-width="1"/>
<polygon points="1701.9,783.9 1714.1,780.2 1734.0,781.1 1737.1,787.7 1753.9,787.7 1771.5,805.2 1761.6,817.2 1750.9,826.3 1741.7,831.7 1736.3,838.4 1726.4,828.1 1720.3,817.2 1715.7,808.0 1706.5,793.2 1701.9,783.9" fill="#ffffff" stroke="#bdbdbd" stroke-width="1"/>
<polygon points="1812.8,754.7 1724.1,753.8 1718.7,763.3 1709.5,765.2 1701.9,770.8 1688.1,778.3 1683.5,783.9 1701.9,783.9 1714.1,780.2 1734.0,781.1 1737.1,787.7 1753.9,787.7 1771.5,805.2 1781.5,804.3 1789.1,793.2 1802.9,789.5 1818.2,779.3 1813.6,765.2 1812.8,754.7" fill="#89b4d6" stroke="#bdbdbd" stroke-width="1"/>
<polygon points="1812.8,754.7 1724.1,753.8 1693.0,753.8 1703.4,749.0 1709.5,742.3 1718.7,735.6 1731.0,741.4 1744.7,736.6 1749.3,728.8 1757.0,719.1 1766.2,712.3 1773.8,703.4 1783.8,701.1 1787.6,703.4 1793.7,708.4 1794.5,711.3 1790.6,719.1 1796.0,723.0 1806.7,728.8 1805.9,746.2 1810.5,748.1 1812.8,754.7" fill="#ffffff" stroke="#bdbdbd" stroke-width="1"/>
<polygon points="1709.5,719.1 1711.1,726.9 1718.7,735.6 1731.0,741.4 1744.7,736.6 1749.3,728.8 1757.0,719.1 1766.2,712.3 1773.8,703.4 1783.8,701.1 1774.6,698.5 1757.3,703.4 1757.3,693.1 1741.4,693.1 1741.4,674.7 1739.4,681.6 1736.3,693.5 1727.9,700.5 1721.8,707.4 1715.7,715.2 1709.5,719.1" fill="#ffffff" stroke="#bdbdbd" stroke-width="1"/>
<polygon points="1757.3,693.1 1813.7,693.1 1813.7,707.4 1815.1,718.0 1825.1,718.1 1822.0,726.3 1812.1,727.9 1806.7,728.8 1796.0,723.0 1790.6,719.1 1794.5,711.3 1793.7,708.4 1787.6,703.4 1783.8,701.1 1774.6,698.5 1757.3,703.4 1757.3,693.1" fill="#ffffff" stroke="#bdbdbd" stroke-width="1"/>
<polygon points="1813.7,693.1 1819.7,691.6 1817.4,695.5 1819.7,701.5 1825.1,711.3 1825.1,718.1 1815.1,718.0 1813.7,707.4 1813.7,693.1" fill="#ffffff" stroke="#bdbdbd" stroke-width="1"/>
<polygon points="1830.4,660.2 1824.3,670.5 1822.8,675.5 1829.7,683.6 1824.3,688.6 1819.7,691.6 1818.2,697.5 1825.8,703.4 1826.6,708.7 1835.0,699.5 1840.4,687.6 1841.1,678.6 1837.3,676.6 1841.1,672.5 1842.7,667.5 1830.4,660.2" fill="#ffffff" stroke="#bdbdbd" stroke-width="1"/>
<polygon points="1830.4,660.2 1824.3,651.2 1820.5,647.1 1753.0,647.1 1753.0,641.5 1741.4,647.5 1741.4,674.7 1741.4,693.1 1757.3,693.1 1813.7,693.1 1819.7,691.6 1824.3,688.6 1829.7,683.6 1822.8,675.5 1824.3,670.5 1830.4,660.2" fill="#ffffff" stroke="#bdbdbd" stroke-width="1"/>
<polygon points="1753.0,647.1 1753.0,641.5 1763.9,631.6 1766.2,628.4 1763.9,620.9 1772.3,618.6 1787.6,621.1 1799.8,618.0 1807.5,614.8 1805.9,601.0 1813.6,595.7 1830.4,583.9 1851.1,583.9 1850.6,594.6 1851.8,613.7 1852.4,631.6 1848.9,646.0 1848.8,663.4 1846.5,667.5 1842.7,667.5 1830.4,660.2 1824.3,651.2 1820.5,647.1 1753.0,647.1" fill="#ffffff" stroke="#bdbdbd" stroke-width="1"/>
<polygon points="1852.4,631.6 1864.7,632.0 1863.3,622.2 1867.1,611.6 1871.7,598.9 1879.4,583.6 1851.1,583.9 1850.6,594.6 1851.8,613.7 1852.4,631.6" fill="#ffffff" stroke="#bdbdbd" stroke-width="1"/>
<polygon points="1864.7,632.0 1882.4,632.6 1888.6,629.1 1891.6,624.7 1887.3,614.8 1885.8,577.4 1879.4,583.6 1871.7,598.9 1867.1,611.6 1863.3,622.2 1864.7,632.0" fill="#ffffff" stroke="#bdbdbd" stroke-width="1"/>
<polygon points="1885.8,577.4 1890.1,575.2 1897.7,564.2 1901.6,553.2 1902.3,546.6 1914.1,529.7 1919.2,535.4 1929.9,532.0 1936.0,538.3 1936.3,563.2 1941.6,570.8 1948.2,588.2 1940.6,594.6 1932.9,596.8 1920.7,598.9 1910.0,607.4 1902.3,610.6 1898.5,613.7 1891.6,624.7 1887.3,614.8 1885.8,577.4" fill="#ffffff" stroke="#bdbdbd" stroke-width="1"/>
<polygon points="1848.9,646.0 1852.4,631.6 1864.7,632.0 1882.4,632.6 1888.6,629.1 1890.1,634.7 1887.0,640.9 1891.6,645.0 1893.1,649.1 1901.6,652.2 1902.3,646.0 1903.1,653.2 1894.7,656.3 1888.6,656.3 1885.2,657.3 1884.0,652.2 1881.2,646.7 1874.8,646.7 1848.9,646.0" fill="#ffffff" stroke="#bdbdbd" stroke-width="1"/>
<polygon points="1874.0,661.0 1880.9,658.3 1885.2,657.3 1884.0,652.2 1881.2,646.7 1874.8,646.7 1874.0,661.0" fill="#ffffff" stroke="#bdbdbd" stroke-width="1"/>
<polygon points="1848.9,646.0 1874.8,646.7 1874.0,661.0 1858.0,662.4 1846.5,667.5 1848.8,663.4 1848.9,646.0" fill="#ffffff" stroke="#bdbdbd" stroke-width="1"/>
<polygon points="1645.0,652.0 1675.9,652.0 1675.9,653.2 1696.5,652.6 1701.9,645.0 1711.1,634.7 1712.3,626.3 1709.5,613.7 1703.4,604.2 1697.3,606.3 1690.4,613.7 1689.7,607.4 1698.8,596.8 1697.3,582.8 1680.5,569.7 1677.0,566.9 1672.8,574.1 1666.7,578.4 1663.6,580.6 1663.6,587.1 1656.0,586.0 1653.7,591.8 1650.6,606.3 1652.9,621.5 1654.5,630.9 1653.2,638.8 1650.2,645.0 1645.0,652.0" fill="#6291ba" stroke="#bdbdbd" stroke-width="1"/>
<polygon points="1590.2,549.4 1597.9,545.4 1607.0,542.8 1618.2,537.2 1628.5,529.3 1630.0,530.4 1622.3,538.7 1620.0,544.3 1633.0,551.0 1648.3,552.1 1659.1,547.0 1672.8,545.4 1678.9,552.1 1686.6,556.5 1689.7,562.5 1682.0,563.2 1677.4,565.3 1665.2,559.8 1652.9,564.2 1648.3,569.7 1642.2,566.4 1633.0,581.7 1629.2,575.2 1630.0,568.6 1625.4,564.2 1617.7,562.1 1610.1,558.7 1594.8,555.4 1590.2,549.4" fill="#6291ba" stroke="#bdbdbd" stroke-width="1"/>
<polygon points="1841.1,675.5 1845.7,675.5 1856.4,673.5 1871.7,668.5 1874.0,666.1 1864.1,667.9 1848.8,669.5 1844.9,671.5" fill="#ffffff" stroke="#bdbdbd" stroke-width="1"/>
<polygon points="1793.4,708.7 1794.6,707.4 1796.6,709.3 1794.6,711.3" fill="#ffffff" stroke="#bdbdbd" stroke-width="1"/>
<polygon points="1607.8,520.0 1612.4,517.2 1620.0,513.3 1620.8,514.3 1613.2,518.6 1608.6,520.9" fill="#6291ba" stroke="#bdbdbd" stroke-width="1"/>
<polygon points="1812.1,727.9 1822.0,726.3 1816.6,734.6 1812.8,742.3 1810.2,743.9 1811.3,736.6" fill="#ffffff" stroke="#bdbdbd" stroke-width="1"/>
<polygon points="1809.0,696.5 1804.4,701.5 1802.9,708.4 1803.6,715.2 1805.2,721.1 1805.9,727.9 1805.2,735.6 1805.9,742.3 1809.8,747.1 1811.0,744.2 1810.8,736.6 1811.7,728.8 1809.8,722.0 1806.7,716.2 1806.7,709.3 1808.2,703.4 1810.5,698.5" fill="#fefefe" stroke="#bdbdbd" stroke-width="0.8"/>
<polygon points="1086.8,891.4 1089.1,886.1 1096.8,883.8 1102.9,882.3 1107.5,876.2 1112.1,870.8 1125.8,864.7 1138.1,860.1 1142.7,859.7 1145.7,862.4 1150.3,861.6 1164.1,865.5 1167.2,869.3 1179.4,870.0 1188.6,871.6 1202.3,872.3 1211.5,871.9 1223.8,877.7 1223.8,973.9 1231.4,973.9 1234.5,980.1 1243.7,985.4 1252.8,979.3 1262.0,989.2 1271.2,1006.0 1282.7,1015.2 1282.7,1024.4 1277.3,1029.0 1271.2,1029.0 1263.5,1022.8 1255.9,1007.6 1248.2,995.3 1240.6,987.7 1231.4,981.6 1222.2,977.0 1210.0,975.5 1205.4,978.5 1200.8,972.4 1194.7,966.3 1188.6,966.3 1184.0,973.9 1173.3,978.5 1167.2,983.1 1173.3,973.9 1179.4,967.8 1177.9,963.3 1170.2,966.3 1164.1,973.9 1161.0,981.6 1154.9,989.2 1148.8,998.4 1141.1,1006.0 1130.4,1012.2 1118.2,1018.3 1102.9,1027.4 1096.0,1032.0 1096.8,1029.7 1110.5,1019.8 1121.3,1013.7 1132.0,1004.5 1136.6,996.9 1138.1,988.5 1128.9,990.8 1119.7,987.7 1112.1,989.2 1109.0,980.1 1101.4,975.5 1095.2,969.4 1093.7,963.3 1089.9,960.2 1092.2,954.1 1094.5,949.5 1101.4,944.9 1109.0,942.6 1116.7,938.8 1118.2,932.7 1116.7,928.1 1110.5,929.6 1096.8,928.9 1089.1,926.6 1083.0,922.0 1079.2,918.9 1087.6,914.4 1096.8,909.8 1102.1,909.8 1102.9,914.4 1110.5,914.4 1116.7,912.8 1115.1,908.2 1112.1,904.4 1106.0,905.2 1099.8,900.6 1090.7,894.5" fill="#ffffff" stroke="#bdbdbd" stroke-width="0.9"/>
<polygon points="1059.3,938.8 1064.6,940.3 1069.2,941.9 1075.4,943.4 1073.8,945.7 1069.2,946.4 1063.1,943.4 1059.3,941.9" fill="#ffffff" stroke="#bdbdbd" stroke-width="0.9"/>
<polygon points="1083.0,973.9 1089.1,972.4 1092.2,976.2 1089.1,978.5 1084.5,977.0" fill="#ffffff" stroke="#bdbdbd" stroke-width="0.9"/>
<polygon points="1151.9,1001.5 1158.0,993.8 1164.1,991.5 1164.9,998.4 1161.0,1006.0 1153.4,1010.6 1151.1,1006.0" fill="#ffffff" stroke="#bdbdbd" stroke-width="0.9"/>
<polygon points="1083.0,1038.1 1092.2,1032.8 1093.7,1034.3 1084.5,1040.0" fill="#ffffff" stroke="#bdbdbd" stroke-width="0.9"/>
<polygon points="1073.1,1046.5 1080.7,1040.0 1082.2,1041.5 1074.1,1048.1" fill="#ffffff" stroke="#bdbdbd" stroke-width="0.9"/>
<polygon points="1061.6,1050.4 1069.2,1046.1 1070.2,1047.6 1062.5,1051.6" fill="#ffffff" stroke="#bdbdbd" stroke-width="0.9"/>
<polygon points="1047.8,1053.7 1057.0,1052.6 1057.0,1054.3 1048.1,1055.2" fill="#ffffff" stroke="#bdbdbd" stroke-width="0.9"/>
<polygon points="1024.9,1056.8 1037.1,1055.2 1047.8,1054.6 1048.1,1056.2 1037.1,1057.1 1025.6,1058.9" fill="#ffffff" stroke="#bdbdbd" stroke-width="0.9"/>
<polygon points="1052.1,969.4 1055.5,972.4 1056.4,973.6 1054.6,973.3 1051.8,970.3" fill="#ffffff" stroke="#bdbdbd" stroke-width="0.9"/>
<polygon points="1286.5,928.9 1291.1,925.8 1292.0,926.9 1287.4,929.6" fill="#ffffff" stroke="#bdbdbd" stroke-width="0.9"/>
<polygon points="1294.2,923.5 1300.3,922.3 1301.8,925.8 1298.7,928.1 1294.2,925.8" fill="#ffffff" stroke="#bdbdbd" stroke-width="0.9"/>
<polygon points="1286.5,929.1 1289.6,926.1 1290.4,926.8 1287.3,929.8" fill="#ffffff" stroke="#bdbdbd" stroke-width="0.9"/>
<polygon points="1301.5,925.1 1301.1,926.5 1300.0,927.7 1298.4,928.3 1296.6,928.3 1294.9,927.7 1293.8,926.5 1293.4,925.1 1293.8,923.6 1294.9,922.4 1296.6,921.8 1298.4,921.8 1300.0,922.4 1301.1,923.6" fill="#ffffff" stroke="#bdbdbd" stroke-width="0.9"/>
<polygon points="1317.1,933.2 1321.2,930.9 1325.3,936.8 1325.8,938.3 1323.7,938.8 1319.7,937.8" fill="#ffffff" stroke="#bdbdbd" stroke-width="0.9"/>
<polygon points="1331.4,939.8 1335.5,939.3 1339.5,940.3 1339.0,941.9 1334.4,941.7 1331.4,941.4" fill="#ffffff" stroke="#bdbdbd" stroke-width="0.9"/>
<polygon points="1336.0,944.9 1338.0,944.7 1338.5,947.0 1336.5,947.5" fill="#ffffff" stroke="#bdbdbd" stroke-width="0.9"/>
<polygon points="1340.0,941.9 1343.6,940.8 1345.7,943.9 1349.7,945.4 1348.7,949.0 1344.6,950.0 1341.6,947.0" fill="#ffffff" stroke="#bdbdbd" stroke-width="0.9"/>
<polygon points="1353.3,955.6 1357.9,957.1 1363.0,959.7 1366.1,963.3 1369.6,967.8 1364.0,971.9 1358.9,975.0 1355.9,978.0 1352.8,974.5 1352.3,969.4 1350.2,964.8 1351.8,961.7" fill="#ffffff" stroke="#bdbdbd" stroke-width="0.9"/>
<polygon points="1713.4,1009.3 1735.3,1009.9 1750.6,1011.1 1760.3,1013.7 1760.8,1018.3 1755.7,1022.8 1750.6,1026.9 1741.4,1029.0 1730.2,1027.9 1720.0,1027.9 1711.8,1027.9 1711.8,1021.3 1709.8,1014.7 1712.9,1011.1" fill="#ffffff" stroke="#bdbdbd" stroke-width="0.9"/>
<polygon points="1761.8,1022.8 1765.9,1021.5 1770.5,1021.6 1770.0,1022.9 1764.9,1023.6" fill="#ffffff" stroke="#bdbdbd" stroke-width="0.9"/>
<polygon points="1768.4,1015.2 1771.0,1014.8 1772.0,1016.2 1769.5,1016.7" fill="#ffffff" stroke="#bdbdbd" stroke-width="0.9"/>
<polygon points="1691.9,1022.8 1691.6,1023.8 1690.6,1024.2 1689.7,1023.8 1689.3,1022.8 1689.7,1021.9 1690.6,1021.5 1691.6,1021.9" fill="#ffffff" stroke="#bdbdbd" stroke-width="0.9"/>
<text x="1129.0" y="532.2" font-size="13" text-anchor="middle" fill="#000" font-family="Liberation Sans, Arial, sans-serif">WA</text>
<text x="1293.5" y="543.2" font-size="13" text-anchor="middle" fill="#000" font-family="Liberation Sans, Arial, sans-serif">MT</text>
<text x="1442.5" y="532.2" font-size="13" text-anchor="middle" fill="#000" font-family="Liberation Sans, Arial, sans-serif">ND</text>
<text x="1531.0" y="560.7" font-size="13" text-anchor="middle" fill="#000" font-family="Liberation Sans, Arial, sans-serif">MN</text>
<text x="1913.0" y="576.7" font-size="13" text-anchor="middle" fill="#000" font-family="Liberation Sans, Arial, sans-serif">ME</text>
<text x="1129.0" y="609.7" font-size="13" text-anchor="middle" fill="#000" font-family="Liberation Sans, Arial, sans-serif">OR</text>
<text x="1220.5" y="606.7" font-size="13" text-anchor="middle" fill="#000" font-family="Liberation Sans, Arial, sans-serif">ID</text>
<text x="1438.5" y="598.2" font-size="13" text-anchor="middle" fill="#000" font-family="Liberation Sans, Arial, sans-serif">SD</text>
<text x="1596.0" y="598.2" font-size="13" text-anchor="middle" fill="#000" font-family="Liberation Sans, Arial, sans-serif">WI</text>
<text x="1858.0" y="605.7" font-size="13" text-anchor="middle" fill="#000" font-family="Liberation Sans, Arial, sans-serif">VT</text>
<text x="1878.0" y="616.2" font-size="13" text-anchor="middle" fill="#000" font-family="Liberation Sans, Arial, sans-serif">NH</text>
<text x="1817.5" y="630.7" font-size="13" text-anchor="middle" fill="#000" font-family="Liberation Sans, Arial, sans-serif">NY</text>
<text x="1328.0" y="630.7" font-size="13" text-anchor="middle" fill="#000" font-family="Liberation Sans, Arial, sans-serif">WY</text>
<text x="1677.5" y="627.7" font-size="13" text-anchor="middle" fill="#000" font-family="Liberation Sans, Arial, sans-serif">MI</text>
<text x="1867.5" y="642.2" font-size="13" text-anchor="middle" fill="#000" font-family="Liberation Sans, Arial, sans-serif">MA</text>
<text x="1542.5" y="651.2" font-size="13" text-anchor="middle" fill="#000" font-family="Liberation Sans, Arial, sans-serif">IA</text>
<text x="1446.0" y="661.2" font-size="13" text-anchor="middle" fill="#000" font-family="Liberation Sans, Arial, sans-serif">NE</text>
<text x="1860.0" y="659.7" font-size="13" text-anchor="middle" fill="#000" font-family="Liberation Sans, Arial, sans-serif">CT</text>
<text x="1878.5" y="661.2" font-size="13" text-anchor="middle" fill="#000" font-family="Liberation Sans, Arial, sans-serif">RI</text>
<text x="1780.5" y="674.2" font-size="13" text-anchor="middle" fill="#000" font-family="Liberation Sans, Arial, sans-serif">PA</text>
<text x="1186.5" y="706.2" font-size="13" text-anchor="middle" fill="#000" font-family="Liberation Sans, Arial, sans-serif">NV</text>
<text x="1263.5" y="706.2" font-size="13" text-anchor="middle" fill="#000" font-family="Liberation Sans, Arial, sans-serif">UT</text>
<text x="1358.0" y="711.2" font-size="13" text-anchor="middle" fill="#000" font-family="Liberation Sans, Arial, sans-serif">CO</text>
<text x="1607.0" y="691.7" font-size="13" text-anchor="middle" fill="#000" font-family="Liberation Sans, Arial, sans-serif">IL</text>
<text x="1652.5" y="691.7" font-size="13" text-anchor="middle" fill="#000" font-family="Liberation Sans, Arial, sans-serif">IN</text>
<text x="1702.5" y="685.7" font-size="13" text-anchor="middle" fill="#000" font-family="Liberation Sans, Arial, sans-serif">OH</text>
<text x="1832.5" y="688.7" font-size="13" text-anchor="middle" fill="#000" font-family="Liberation Sans, Arial, sans-serif">NJ</text>
<text x="1793.0" y="701.7" font-size="13" text-anchor="middle" fill="#000" font-family="Liberation Sans, Arial, sans-serif">MD</text>
<text x="1794.5" y="713.2" font-size="13" text-anchor="middle" fill="#000" font-family="Liberation Sans, Arial, sans-serif">DC</text>
<text x="1818.5" y="718.7" font-size="13" text-anchor="middle" fill="#000" font-family="Liberation Sans, Arial, sans-serif">DE</text>
<text x="1738.0" y="719.2" font-size="13" text-anchor="middle" fill="#000" font-family="Liberation Sans, Arial, sans-serif">WV</text>
<text x="1465.5" y="721.2" font-size="13" text-anchor="middle" fill="#000" font-family="Liberation Sans, Arial, sans-serif">KS</text>
<text x="1557.0" y="726.2" font-size="13" text-anchor="middle" fill="#000" font-family="Liberation Sans, Arial, sans-serif">MO</text>
<text x="1674.5" y="735.2" font-size="13" text-anchor="middle" fill="#000" font-family="Liberation Sans, Arial, sans-serif">KY</text>
<text x="1775.5" y="735.2" font-size="13" text-anchor="middle" fill="#000" font-family="Liberation Sans, Arial, sans-serif">VA</text>
<text x="1141.0" y="744.7" font-size="13" text-anchor="middle" fill="#000" font-family="Liberation Sans, Arial, sans-serif">CA</text>
<text x="1653.5" y="773.7" font-size="13" text-anchor="middle" fill="#000" font-family="Liberation Sans, Arial, sans-serif">TN</text>
<text x="1481.0" y="778.2" font-size="13" text-anchor="middle" fill="#000" font-family="Liberation Sans, Arial, sans-serif">OK</text>
<text x="1749.0" y="778.2" font-size="13" text-anchor="middle" fill="#000" font-family="Liberation Sans, Arial, sans-serif">NC</text>
<text x="1558.0" y="793.2" font-size="13" text-anchor="middle" fill="#000" font-family="Liberation Sans, Arial, sans-serif">AR</text>
<text x="1267.0" y="797.2" font-size="13" text-anchor="middle" fill="#000" font-family="Liberation Sans, Arial, sans-serif">AZ</text>
<text x="1351.5" y="797.2" font-size="13" text-anchor="middle" fill="#000" font-family="Liberation Sans, Arial, sans-serif">NM</text>
<text x="1733.0" y="807.2" font-size="13" text-anchor="middle" fill="#000" font-family="Liberation Sans, Arial, sans-serif">SC</text>
<text x="1598.0" y="814.7" font-size="13" text-anchor="middle" fill="#000" font-family="Liberation Sans, Arial, sans-serif">MS</text>
<text x="1645.0" y="829.7" font-size="13" text-anchor="middle" fill="#000" font-family="Liberation Sans, Arial, sans-serif">AL</text>
<text x="1695.0" y="839.7" font-size="13" text-anchor="middle" fill="#000" font-family="Liberation Sans, Arial, sans-serif">GA</text>
<text x="1454.0" y="857.2" font-size="13" text-anchor="middle" fill="#000" font-family="Liberation Sans, Arial, sans-serif">TX</text>
<text x="1562.0" y="867.2" font-size="13" text-anchor="middle" fill="#000" font-family="Liberation Sans, Arial, sans-serif">LA</text>
<text x="1725.0" y="906.2" font-size="13" text-anchor="middle" fill="#000" font-family="Liberation Sans, Arial, sans-serif">FL</text>
<text x="1175.0" y="940.7" font-size="13" text-anchor="middle" fill="#000" font-family="Liberation Sans, Arial, sans-serif">AK</text>
<text x="1346.0" y="952.2" font-size="13" text-anchor="middle" fill="#000" font-family="Liberation Sans, Arial, sans-serif">HI</text>
<text x="1729.0" y="1023.7" font-size="13" text-anchor="middle" fill="#000" font-family="Liberation Sans, Arial, sans-serif">PR</text>
<rect x="1409.6" y="983" width="23.4" height="21.4" fill="#ffffff" stroke="#c0c0c0" stroke-width="1.2"/>
<text x="1443.3999999999999" y="1001.0" font-size="18.8" fill="#000" textLength="10.6" lengthAdjust="spacingAndGlyphs" font-family="Liberation Serif, Times New Roman, serif">0</text>
<rect x="1409.6" y="1017" width="23.4" height="21.4" fill="#89b4d6" stroke="#c0c0c0" stroke-width="1.2"/>
<text x="1443.3999999999999" y="1035.0" font-size="18.8" fill="#000" textLength="59" lengthAdjust="spacingAndGlyphs" font-family="Liberation Serif, Times New Roman, serif">1 to 10</text>
<rect x="1409.6" y="1051" width="23.4" height="21.4" fill="#7eabd0" stroke="#c0c0c0" stroke-width="1.2"/>
<text x="1443.3999999999999" y="1069.0" font-size="18.8" fill="#000" textLength="68" lengthAdjust="spacingAndGlyphs" font-family="Liberation Serif, Times New Roman, serif">11 to 25</text>
<rect x="1553" y="983" width="23.4" height="21.4" fill="#6291ba" stroke="#c0c0c0" stroke-width="1.2"/>
<text x="1586.8" y="1001.0" font-size="18.8" fill="#000" textLength="71" lengthAdjust="spacingAndGlyphs" font-family="Liberation Serif, Times New Roman, serif">26 to 50</text>
<rect x="1553" y="1017" width="23.4" height="21.4" fill="#4d76a0" stroke="#c0c0c0" stroke-width="1.2"/>
<text x="1586.8" y="1035.0" font-size="18.8" fill="#000" textLength="70.5" lengthAdjust="spacingAndGlyphs" font-family="Liberation Serif, Times New Roman, serif">51 to 75</text>
<rect x="1553" y="1051" width="23.4" height="21.4" fill="#385a84" stroke="#c0c0c0" stroke-width="1.2"/>
<text x="1586.8" y="1069.0" font-size="18.8" fill="#000" textLength="34.5" lengthAdjust="spacingAndGlyphs" font-family="Liberation Serif, Times New Roman, serif">75+</text>
</g>
<text transform="translate(5.64,35.0) scale(1,1.1)" font-size="30" fill="#000" font-family="Liberation Sans, Arial, sans-serif">(a)</text>
<text transform="translate(995.2,26.9) scale(1,1.1)" font-size="30" fill="#000" font-family="Liberation Sans, Arial, sans-serif">(b)</text>
<text transform="translate(2.64,490.2) scale(1,1.1)" font-size="30" fill="#000" font-family="Liberation Sans, Arial, sans-serif">(c)</text>
<text transform="translate(994.1,499.8) scale(1,1.1)" font-size="30" fill="#000" font-family="Liberation Sans, Arial, sans-serif">(d)</text>
<text transform="translate(5.94,1092.3) scale(1,1.1)" font-size="30" fill="#000" font-family="Liberation Sans, Arial, sans-serif">(e)</text>
<text transform="translate(1004.0,1095.0) scale(1,1.1)" font-size="30" fill="#000" font-family="Liberation Sans, Arial, sans-serif">(f)</text>
</svg></body></html>
